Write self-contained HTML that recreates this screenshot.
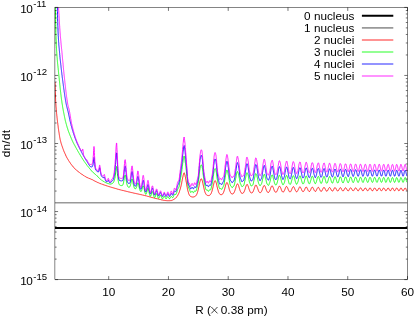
<!DOCTYPE html>
<html><head><meta charset="utf-8"><title>dn/dt</title>
<style>
html,body{margin:0;padding:0;background:#fff;}
svg{display:block;will-change:transform;}
text{font-family:"Liberation Sans",sans-serif;font-size:11.75px;fill:#000;}
text.s{font-size:9.6px;}
</style></head><body>
<svg width="415" height="317" viewBox="0 0 415 317">
<rect width="415" height="317" fill="#fff"/>
<defs><clipPath id="cp"><rect x="54.9" y="7.4" width="352.6" height="272.2"/></clipPath></defs>
<g clip-path="url(#cp)">
<line x1="54.9" x2="407.5" y1="228.0" y2="228.0" stroke="#000" stroke-width="1.9"/>
<line x1="54.9" x2="407.5" y1="202.8" y2="202.8" stroke="#999" stroke-width="1.6"/>
<polyline points="55.0,82.0 55.0,83.5 55.1,85.0 55.1,86.4 55.2,87.8 55.2,89.1 55.2,90.4 55.3,91.7 55.3,92.8 55.4,93.9 55.4,95.0 55.4,96.0 55.5,96.9 55.5,97.8 55.6,98.7 55.6,99.6 55.6,100.4 55.7,101.2 55.7,101.9 55.8,102.7 55.8,103.4 55.8,104.0 55.9,104.7 55.9,105.3 56.0,105.8 56.0,106.4 56.0,106.9 56.1,107.4 56.1,107.9 56.2,108.4 56.2,108.9 56.2,109.3 56.3,109.7 56.3,110.2 56.4,110.6 56.4,111.1 56.4,111.5 56.5,111.9 56.5,112.3 56.6,112.7 56.6,113.2 56.6,113.6 56.7,114.0 56.7,114.4 56.8,114.8 56.8,115.2 56.8,115.6 56.9,116.0 56.9,116.3 57.0,116.7 57.0,117.1 57.0,117.5 57.1,117.8 57.1,118.2 57.2,118.6 57.2,118.9 57.2,119.3 57.3,119.7 57.3,120.0 57.4,120.4 57.4,120.7 57.4,121.0 57.5,121.4 57.5,121.7 57.6,122.0 57.6,122.4 57.6,122.7 57.7,123.0 57.7,123.3 57.8,123.6 57.8,123.9 57.8,124.3 57.9,124.6 57.9,124.9 58.0,125.2 58.0,125.5 58.0,125.8 58.1,126.1 58.1,126.4 58.2,126.7 58.2,127.0 58.2,127.3 58.3,127.6 58.3,127.9 58.4,128.2 58.4,128.5 58.4,128.8 58.5,129.0 58.5,129.3 58.6,129.6 58.6,129.9 58.6,130.2 58.7,130.5 58.7,130.8 58.8,131.0 58.8,131.3 58.8,131.6 58.9,131.9 58.9,132.1 59.0,132.4 59.0,132.7 59.0,132.9 59.1,133.2 59.1,133.4 59.2,133.7 59.2,134.0 59.2,134.2 59.3,134.5 59.3,134.7 59.3,135.0 59.4,135.2 59.4,135.5 59.5,135.7 59.5,135.9 59.5,136.2 59.6,136.4 59.6,136.6 59.7,136.8 59.7,137.1 59.7,137.3 59.8,137.5 59.8,137.7 59.9,137.9 59.9,138.1 59.9,138.3 60.0,138.5 60.0,138.7 60.1,138.9 60.1,139.1 60.1,139.3 60.2,139.5 60.2,139.7 60.3,139.9 60.3,140.0 60.3,140.2 60.4,140.4 60.4,140.5 60.5,140.7 60.5,140.9 60.5,141.0 60.6,141.2 60.6,141.3 60.7,141.5 60.7,141.7 60.7,141.8 60.8,142.0 60.8,142.1 60.9,142.3 60.9,142.4 60.9,142.5 61.0,142.7 61.0,142.8 61.1,143.0 61.1,143.1 61.1,143.2 61.2,143.4 61.2,143.5 61.3,143.6 61.3,143.8 61.3,143.9 61.4,144.0 61.4,144.1 61.5,144.3 61.5,144.4 61.5,144.5 61.6,144.6 61.6,144.8 61.7,144.9 61.7,145.0 61.7,145.1 61.8,145.2 61.8,145.4 61.9,145.5 61.9,145.6 61.9,145.7 62.0,145.8 62.0,145.9 62.1,146.1 62.1,146.2 62.1,146.3 62.2,146.4 62.2,146.5 62.3,146.6 62.3,146.8 62.3,146.9 62.4,147.0 62.4,147.1 62.5,147.2 62.5,147.3 62.5,147.4 62.6,147.5 62.6,147.7 62.7,147.8 62.7,147.9 62.7,148.0 62.8,148.1 62.8,148.2 62.9,148.3 62.9,148.4 62.9,148.6 63.0,148.7 63.0,148.8 63.1,148.9 63.1,149.0 63.1,149.1 63.2,149.2 63.2,149.3 63.3,149.4 63.3,149.5 63.3,149.6 63.4,149.7 63.4,149.8 63.5,150.0 63.5,150.1 63.5,150.2 63.6,150.3 63.6,150.4 63.7,150.5 63.7,150.6 63.7,150.7 63.8,150.8 63.8,150.9 63.9,151.0 63.9,151.1 63.9,151.2 64.0,151.3 64.0,151.4 64.1,151.5 64.1,151.6 64.1,151.7 64.2,151.8 64.2,151.9 64.3,152.0 64.3,152.0 64.3,152.1 64.4,152.2 64.4,152.3 64.5,152.4 64.5,152.5 64.5,152.6 64.6,152.7 64.6,152.8 64.7,152.9 64.7,153.0 64.7,153.1 64.8,153.2 64.8,153.3 64.9,153.4 64.9,153.4 64.9,153.5 65.0,153.6 65.0,153.7 65.1,153.8 65.1,153.9 65.1,154.0 65.2,154.1 65.2,154.2 65.3,154.2 65.3,154.3 65.3,154.4 65.4,154.5 65.4,154.6 65.5,154.7 65.5,154.8 65.5,154.9 65.6,154.9 65.6,155.0 65.7,155.1 65.7,155.2 65.7,155.3 65.8,155.4 65.8,155.5 65.9,155.5 65.9,155.6 65.9,155.7 66.0,155.8 66.0,155.9 66.1,156.0 66.1,156.0 66.1,156.1 66.2,156.2 66.2,156.3 66.3,156.4 66.3,156.4 66.3,156.5 66.4,156.6 66.4,156.7 66.5,156.8 66.5,156.8 66.5,156.9 66.6,157.0 66.6,157.1 66.7,157.2 66.7,157.2 66.7,157.3 66.8,157.4 66.8,157.5 66.9,157.5 66.9,157.6 66.9,157.7 67.1,157.9 67.2,158.2 67.3,158.4 67.5,158.6 67.6,158.9 67.7,159.1 67.8,159.3 68.0,159.5 68.1,159.8 68.2,160.0 68.4,160.2 68.5,160.4 68.6,160.6 68.8,160.8 68.9,161.0 69.0,161.2 69.2,161.4 69.3,161.6 69.4,161.8 69.5,162.0 69.7,162.2 69.8,162.4 69.9,162.6 70.1,162.8 70.2,163.0 70.3,163.2 70.5,163.3 70.6,163.5 70.7,163.7 70.9,163.9 71.0,164.1 71.1,164.2 71.2,164.4 71.4,164.6 71.5,164.7 71.6,164.9 71.8,165.1 71.9,165.3 72.0,165.4 72.2,165.6 72.3,165.7 72.4,165.9 72.6,166.1 72.7,166.2 72.8,166.4 73.0,166.5 73.1,166.7 73.2,166.9 73.3,167.0 73.5,167.2 73.6,167.3 73.7,167.5 73.9,167.6 74.0,167.8 74.1,167.9 74.3,168.0 74.4,168.2 74.5,168.3 74.7,168.5 74.8,168.6 74.9,168.7 75.0,168.8 75.2,169.0 75.3,169.1 75.4,169.2 75.6,169.4 75.7,169.5 75.8,169.6 76.0,169.7 76.1,169.8 76.2,169.9 76.4,170.1 76.5,170.2 76.6,170.3 76.7,170.4 76.9,170.5 77.0,170.6 77.1,170.7 77.3,170.8 77.4,171.0 77.5,171.1 77.7,171.2 77.8,171.3 77.9,171.4 78.1,171.5 78.2,171.6 78.3,171.7 78.4,171.8 78.6,171.9 78.7,172.0 78.8,172.1 79.0,172.2 79.1,172.3 79.2,172.4 79.4,172.5 79.5,172.6 79.6,172.7 79.8,172.8 79.9,172.9 80.0,173.0 80.1,173.1 80.3,173.2 80.4,173.3 80.5,173.3 80.7,173.4 80.8,173.5 80.9,173.6 81.1,173.7 81.2,173.8 81.3,173.9 81.5,174.0 81.6,174.1 81.7,174.2 81.8,174.3 82.0,174.4 82.1,174.5 82.2,174.6 82.4,174.7 82.5,174.7 82.6,174.8 82.8,174.9 82.9,175.0 83.0,175.1 83.2,175.2 83.3,175.3 83.4,175.4 83.5,175.5 83.7,175.5 83.8,175.6 83.9,175.7 84.1,175.8 84.2,175.9 84.3,176.0 84.5,176.0 84.6,176.1 84.7,176.2 84.9,176.3 85.0,176.4 85.1,176.4 85.3,176.5 85.4,176.6 85.5,176.7 85.6,176.7 85.8,176.8 85.9,176.9 86.0,177.0 86.2,177.0 86.3,177.1 86.4,177.2 86.6,177.2 86.7,177.3 86.8,177.4 87.0,177.4 87.1,177.5 87.2,177.5 87.3,177.6 87.5,177.7 87.6,177.7 87.7,177.8 87.9,177.8 88.0,177.9 88.1,178.0 88.3,178.0 88.4,178.1 88.5,178.1 88.7,178.2 88.8,178.2 88.9,178.3 89.0,178.3 89.2,178.4 89.3,178.4 89.4,178.5 89.6,178.5 89.7,178.6 89.8,178.6 90.0,178.7 90.1,178.8 90.2,178.8 90.4,178.9 90.5,178.9 90.6,179.0 90.7,179.0 90.9,179.1 91.0,179.1 91.1,179.2 91.3,179.2 91.4,179.3 91.5,179.4 91.7,179.4 91.8,179.5 91.9,179.6 92.1,179.6 92.2,179.7 92.3,179.7 92.4,179.8 92.6,179.9 92.7,179.9 92.8,180.0 93.0,180.1 93.1,180.1 93.2,180.2 93.4,180.3 93.5,180.4 93.6,180.4 93.8,180.5 93.9,180.6 94.0,180.6 94.1,180.7 94.3,180.8 94.4,180.8 94.5,180.9 94.7,181.0 94.8,181.1 94.9,181.1 95.1,181.2 95.2,181.3 95.3,181.3 95.5,181.4 95.6,181.5 95.7,181.5 95.8,181.6 96.0,181.7 96.1,181.7 96.2,181.8 96.4,181.9 96.5,181.9 96.6,182.0 96.8,182.1 96.9,182.1 97.0,182.2 97.2,182.3 97.3,182.3 97.4,182.4 97.5,182.4 97.7,182.5 97.8,182.6 97.9,182.6 98.1,182.7 98.2,182.7 98.3,182.8 98.5,182.8 98.6,182.9 98.7,182.9 98.9,183.0 99.0,183.1 99.1,183.1 99.3,183.2 99.4,183.2 99.5,183.3 99.6,183.3 99.8,183.4 99.9,183.4 100.0,183.5 100.2,183.5 100.3,183.6 100.4,183.6 100.6,183.7 100.7,183.7 100.8,183.8 101.0,183.8 101.1,183.9 101.2,183.9 101.3,184.0 101.5,184.0 101.6,184.1 101.7,184.1 101.9,184.2 102.0,184.2 102.1,184.2 102.3,184.3 102.4,184.3 102.5,184.4 102.7,184.4 102.8,184.5 102.9,184.5 103.0,184.6 103.2,184.6 103.3,184.7 103.4,184.7 103.6,184.8 103.7,184.8 103.8,184.8 104.0,184.9 104.1,184.9 104.2,185.0 104.4,185.0 104.5,185.1 104.6,185.1 104.7,185.2 104.9,185.2 105.0,185.2 105.1,185.3 105.3,185.3 105.4,185.4 105.5,185.4 105.7,185.5 105.8,185.5 105.9,185.5 106.1,185.6 106.2,185.6 106.3,185.7 106.4,185.7 106.6,185.8 106.7,185.8 106.8,185.8 107.0,185.9 107.1,185.9 107.2,186.0 107.4,186.0 107.5,186.1 107.6,186.1 107.8,186.1 107.9,186.2 108.0,186.2 108.1,186.3 108.3,186.3 108.4,186.4 108.5,186.4 108.7,186.4 108.8,186.5 108.9,186.5 109.1,186.6 109.2,186.6 109.3,186.7 109.5,186.7 109.6,186.7 109.7,186.8 109.8,186.8 110.0,186.9 110.1,186.9 110.2,186.9 110.4,187.0 110.5,187.0 110.6,187.1 110.8,187.1 110.9,187.1 111.0,187.2 111.2,187.2 111.3,187.3 111.4,187.3 111.5,187.3 111.7,187.4 111.8,187.4 111.9,187.5 112.1,187.5 112.2,187.5 112.3,187.6 112.5,187.6 112.6,187.7 112.7,187.7 112.9,187.7 113.0,187.8 113.1,187.8 113.3,187.9 113.4,187.9 113.5,187.9 113.6,188.0 113.8,188.0 113.9,188.0 114.0,188.1 114.2,188.1 114.3,188.2 114.4,188.2 114.6,188.2 114.7,188.3 114.8,188.3 115.0,188.4 115.1,188.4 115.2,188.4 115.3,188.5 115.5,188.5 115.6,188.5 115.7,188.6 115.9,188.6 116.0,188.7 116.1,188.7 116.3,188.7 116.4,188.8 116.5,188.8 116.7,188.8 116.8,188.9 116.9,188.9 117.0,188.9 117.2,189.0 117.3,189.0 117.4,189.1 117.6,189.1 117.7,189.1 117.8,189.2 118.0,189.2 118.1,189.2 118.2,189.3 118.4,189.3 118.5,189.3 118.6,189.4 118.7,189.4 118.9,189.4 119.0,189.5 119.1,189.5 119.3,189.6 119.4,189.6 119.5,189.6 119.7,189.7 119.8,189.7 119.9,189.7 120.1,189.8 120.2,189.8 120.3,189.8 120.4,189.9 120.6,189.9 120.7,189.9 120.8,190.0 121.0,190.0 121.1,190.0 121.2,190.1 121.4,190.1 121.5,190.1 121.6,190.2 121.8,190.2 121.9,190.2 122.0,190.3 122.1,190.3 122.3,190.3 122.4,190.4 122.5,190.4 122.7,190.4 122.8,190.5 122.9,190.5 123.1,190.5 123.2,190.6 123.3,190.6 123.5,190.6 123.6,190.7 123.7,190.7 123.8,190.7 124.0,190.8 124.1,190.8 124.2,190.8 124.4,190.9 124.5,190.9 124.6,190.9 124.8,190.9 124.9,191.0 125.0,191.0 125.2,191.0 125.3,191.1 125.4,191.1 125.5,191.1 125.7,191.2 125.8,191.2 125.9,191.2 126.1,191.3 126.2,191.3 126.3,191.3 126.5,191.4 126.6,191.4 126.7,191.4 126.9,191.5 127.0,191.5 127.1,191.5 127.3,191.5 127.4,191.6 127.5,191.6 127.6,191.6 127.8,191.7 127.9,191.7 128.0,191.7 128.2,191.8 128.3,191.8 128.4,191.8 128.6,191.9 128.7,191.9 128.8,191.9 129.0,192.0 129.1,192.0 129.2,192.0 129.3,192.0 129.5,192.1 129.6,192.1 129.7,192.1 129.9,192.2 130.0,192.2 130.1,192.2 130.3,192.3 130.4,192.3 130.5,192.3 130.7,192.4 130.8,192.4 130.9,192.4 131.0,192.4 131.2,192.5 131.3,192.5 131.4,192.5 131.6,192.6 131.7,192.6 131.8,192.6 132.0,192.7 132.1,192.7 132.2,192.7 132.4,192.7 132.5,192.8 132.6,192.8 132.7,192.8 132.9,192.9 133.0,192.9 133.1,192.9 133.3,193.0 133.4,193.0 133.5,193.0 133.7,193.0 133.8,193.1 133.9,193.1 134.1,193.1 134.2,193.2 134.3,193.2 134.4,193.2 134.6,193.2 134.7,193.3 134.8,193.3 135.0,193.3 135.1,193.4 135.2,193.4 135.4,193.4 135.5,193.4 135.6,193.5 135.8,193.5 135.9,193.5 136.0,193.6 136.1,193.6 136.3,193.6 136.4,193.6 136.5,193.7 136.7,193.7 136.8,193.7 136.9,193.8 137.1,193.8 137.2,193.8 137.3,193.8 137.5,193.9 137.6,193.9 137.7,193.9 137.8,194.0 138.0,194.0 138.1,194.0 138.2,194.0 138.4,194.1 138.5,194.1 138.6,194.1 138.8,194.2 138.9,194.2 139.0,194.2 139.2,194.3 139.3,194.3 139.4,194.3 139.6,194.3 139.7,194.4 139.8,194.4 139.9,194.4 140.1,194.5 140.2,194.5 140.3,194.5 140.5,194.5 140.6,194.6 140.7,194.6 140.9,194.6 141.0,194.7 141.1,194.7 141.3,194.7 141.4,194.8 141.5,194.8 141.6,194.8 141.8,194.8 141.9,194.9 142.0,194.9 142.2,194.9 142.3,195.0 142.4,195.0 142.6,195.0 142.7,195.1 142.8,195.1 143.0,195.1 143.1,195.1 143.2,195.2 143.3,195.2 143.5,195.2 143.6,195.3 143.7,195.3 143.9,195.3 144.0,195.4 144.1,195.4 144.3,195.4 144.4,195.5 144.5,195.5 144.7,195.5 144.8,195.5 144.9,195.6 145.0,195.6 145.2,195.6 145.3,195.7 145.4,195.7 145.6,195.7 145.7,195.8 145.8,195.8 146.0,195.8 146.1,195.9 146.2,195.9 146.4,195.9 146.5,196.0 146.6,196.0 146.7,196.0 146.9,196.1 147.0,196.1 147.1,196.2 147.3,196.2 147.4,196.2 147.5,196.3 147.7,196.3 147.8,196.3 147.9,196.4 148.1,196.4 148.2,196.4 148.3,196.5 148.4,196.5 148.6,196.5 148.7,196.6 148.8,196.6 149.0,196.7 149.1,196.7 149.2,196.7 149.4,196.8 149.5,196.8 149.6,196.8 149.8,196.9 149.9,196.9 150.0,196.9 150.1,197.0 150.3,197.0 150.4,197.1 150.5,197.1 150.7,197.1 150.8,197.2 150.9,197.2 151.1,197.2 151.2,197.3 151.3,197.3 151.5,197.4 151.6,197.4 151.7,197.4 151.8,197.5 152.0,197.5 152.1,197.5 152.2,197.6 152.4,197.6 152.5,197.6 152.6,197.7 152.8,197.7 152.9,197.7 153.0,197.8 153.2,197.8 153.3,197.8 153.4,197.9 153.6,197.9 153.7,198.0 153.8,198.0 153.9,198.0 154.1,198.1 154.2,198.1 154.3,198.1 154.5,198.1 154.6,198.2 154.7,198.2 154.9,198.2 155.0,198.3 155.1,198.3 155.3,198.3 155.4,198.4 155.5,198.4 155.6,198.4 155.8,198.5 155.9,198.5 156.0,198.5 156.2,198.5 156.3,198.6 156.4,198.6 156.6,198.6 156.7,198.7 156.8,198.7 157.0,198.7 157.1,198.8 157.2,198.8 157.3,198.8 157.5,198.8 157.6,198.9 157.7,198.9 157.9,198.9 158.0,199.0 158.1,199.0 158.3,199.0 158.4,199.1 158.5,199.1 158.7,199.1 158.8,199.2 158.9,199.2 159.0,199.2 159.2,199.3 159.3,199.3 159.4,199.3 159.6,199.3 159.7,199.4 159.8,199.4 160.0,199.4 160.1,199.5 160.2,199.5 160.4,199.5 160.5,199.6 160.6,199.6 160.7,199.6 160.9,199.7 161.0,199.7 161.1,199.7 161.3,199.8 161.4,199.8 161.5,199.8 161.7,199.9 161.8,199.9 161.9,199.9 162.1,199.9 162.2,200.0 162.3,200.0 162.4,200.0 162.6,200.1 162.7,200.1 162.8,200.1 163.0,200.1 163.1,200.2 163.2,200.2 163.4,200.2 163.5,200.2 163.6,200.3 163.8,200.3 163.9,200.3 164.0,200.3 164.1,200.4 164.3,200.4 164.4,200.4 164.5,200.4 164.7,200.4 164.8,200.5 164.9,200.5 165.1,200.5 165.2,200.5 165.3,200.5 165.5,200.5 165.6,200.6 165.7,200.6 165.8,200.6 166.0,200.6 166.1,200.6 166.2,200.6 166.4,200.6 166.5,200.6 166.6,200.7 166.8,200.7 166.9,200.7 167.0,200.7 167.2,200.7 167.3,200.7 167.4,200.7 167.6,200.7 167.7,200.7 167.8,200.7 167.9,200.7 168.1,200.7 168.2,200.7 168.3,200.7 168.5,200.7 168.6,200.7 168.7,200.7 168.9,200.7 169.0,200.7 169.1,200.7 169.3,200.7 169.4,200.7 169.5,200.7 169.6,200.7 169.8,200.7 169.9,200.7 170.0,200.7 170.2,200.7 170.3,200.6 170.4,200.6 170.6,200.6 170.7,200.6 170.8,200.6 171.0,200.6 171.1,200.6 171.2,200.6 171.3,200.5 171.5,200.5 171.6,200.5 171.7,200.4 171.9,200.4 172.0,200.3 172.1,200.3 172.3,200.2 172.4,200.1 172.5,200.1 172.7,200.0 172.8,200.0 172.9,199.9 173.0,199.8 173.2,199.8 173.3,199.7 173.4,199.6 173.6,199.6 173.7,199.5 173.8,199.4 174.0,199.3 174.1,199.3 174.2,199.2 174.4,199.1 174.5,199.0 174.6,198.9 174.7,198.8 174.9,198.7 175.0,198.6 175.1,198.5 175.3,198.4 175.4,198.3 175.5,198.2 175.7,198.0 175.8,197.9 175.9,197.8 176.1,197.7 176.2,197.5 176.3,197.4 176.4,197.2 176.6,197.1 176.7,196.9 176.8,196.7 177.0,196.6 177.1,196.4 177.2,196.2 177.4,196.0 177.5,195.8 177.6,195.6 177.8,195.3 177.9,195.1 178.0,194.9 178.1,194.6 178.3,194.3 178.4,194.1 178.5,193.8 178.7,193.5 178.8,193.2 178.9,192.9 179.1,192.6 179.2,192.2 179.3,191.9 179.5,191.5 179.6,191.1 179.7,190.7 179.8,190.3 180.0,189.9 180.1,189.4 180.2,189.0 180.4,188.5 180.5,188.0 180.6,187.5 180.8,187.0 180.9,186.5 181.0,185.9 181.2,185.3 181.3,184.7 181.4,184.1 181.6,183.5 181.7,182.8 181.8,182.2 181.9,181.5 182.1,180.8 182.2,180.2 182.3,179.5 182.5,178.8 182.6,178.1 182.7,177.5 182.9,176.8 183.0,176.2 183.1,175.6 183.3,175.1 183.4,174.6 183.5,174.1 183.6,173.7 183.8,173.4 183.9,173.1 184.0,172.9 184.2,172.8 184.3,173.3 184.4,173.5 184.6,173.9 184.7,174.2 184.8,174.7 185.0,175.2 185.1,175.7 185.2,176.3 185.3,176.9 185.5,177.5 185.6,178.2 185.7,178.9 185.9,179.7 186.0,180.4 186.1,181.2 186.3,182.0 186.4,182.7 186.5,183.5 186.7,184.3 186.8,185.0 186.9,185.8 187.0,186.5 187.2,187.2 187.3,187.9 187.4,188.6 187.6,189.2 187.7,189.9 187.8,190.4 188.0,191.0 188.1,191.5 188.2,192.0 188.4,192.4 188.5,192.9 188.6,193.3 188.7,193.6 188.9,194.0 189.0,194.3 189.1,194.6 189.3,194.8 189.4,195.1 189.5,195.3 189.7,195.5 189.8,195.7 189.9,195.8 190.1,196.0 190.2,196.1 190.3,196.2 190.4,196.3 190.6,196.4 190.7,196.5 190.8,196.6 191.0,196.7 191.1,196.7 191.2,196.8 191.4,196.8 191.5,196.9 191.6,196.9 191.8,196.9 191.9,196.9 192.0,197.0 192.1,197.0 192.3,197.0 192.4,197.0 192.5,197.0 192.7,197.0 192.8,197.0 192.9,197.0 193.1,197.0 193.2,197.0 193.3,197.0 193.5,196.9 193.6,196.9 193.7,196.9 193.9,196.9 194.0,196.8 194.1,196.8 194.2,196.8 194.4,196.7 194.5,196.7 194.6,196.6 194.8,196.5 194.9,196.5 195.0,196.4 195.2,196.3 195.3,196.2 195.4,196.1 195.6,196.0 195.7,195.9 195.8,195.7 195.9,195.6 196.1,195.4 196.2,195.3 196.3,195.1 196.5,194.8 196.6,194.6 196.7,194.4 196.9,194.1 197.0,193.8 197.1,193.5 197.3,193.1 197.4,192.7 197.5,192.3 197.6,191.9 197.8,191.4 197.9,191.0 198.0,190.4 198.2,189.9 198.3,189.3 198.4,188.8 198.6,188.2 198.7,187.5 198.8,186.9 199.0,186.3 199.1,185.6 199.2,185.0 199.3,184.3 199.5,183.7 199.6,183.1 199.7,182.5 199.9,182.0 200.0,181.4 200.1,180.9 200.3,180.5 200.4,180.1 200.5,179.7 200.7,179.4 200.8,179.2 200.9,179.0 201.0,178.9 201.2,178.8 201.3,178.8 201.4,178.9 201.6,179.0 201.7,179.2 201.8,179.5 202.0,179.8 202.1,180.1 202.2,180.5 202.4,181.0 202.5,181.5 202.6,182.0 202.7,182.6 202.9,183.2 203.0,183.8 203.1,184.4 203.3,185.0 203.4,185.7 203.5,186.3 203.7,186.9 203.8,187.5 203.9,188.1 204.1,188.7 204.2,189.2 204.3,189.8 204.4,190.3 204.6,190.8 204.7,191.2 204.8,191.6 205.0,192.0 205.1,192.4 205.2,192.7 205.4,193.0 205.5,193.3 205.6,193.6 205.8,193.8 205.9,194.1 206.0,194.2 206.1,194.4 206.3,194.6 206.4,194.7 206.5,194.9 206.7,195.0 206.8,195.1 206.9,195.2 207.1,195.3 207.2,195.3 207.3,195.4 207.5,195.4 207.6,195.5 207.7,195.5 207.9,195.5 208.0,195.6 208.1,195.6 208.2,195.6 208.4,195.6 208.5,195.6 208.6,195.6 208.8,195.6 208.9,195.5 209.0,195.5 209.2,195.5 209.3,195.4 209.4,195.3 209.6,195.3 209.7,195.2 209.8,195.1 209.9,195.0 210.1,194.9 210.2,194.8 210.3,194.6 210.5,194.5 210.6,194.3 210.7,194.1 210.9,193.9 211.0,193.7 211.1,193.4 211.3,193.2 211.4,192.9 211.5,192.5 211.6,192.2 211.8,191.8 211.9,191.4 212.0,191.0 212.2,190.5 212.3,190.0 212.4,189.5 212.6,189.0 212.7,188.4 212.8,187.9 213.0,187.3 213.1,186.7 213.2,186.1 213.3,185.5 213.5,184.9 213.6,184.4 213.7,183.8 213.9,183.3 214.0,182.8 214.1,182.4 214.3,182.0 214.4,181.6 214.5,181.3 214.7,181.1 214.8,180.9 214.9,180.8 215.0,180.7 215.2,180.7 215.3,180.8 215.4,180.9 215.6,181.1 215.7,181.4 215.8,181.7 216.0,182.1 216.1,182.5 216.2,182.9 216.4,183.4 216.5,184.0 216.6,184.5 216.7,185.1 216.9,185.6 217.0,186.2 217.1,186.8 217.3,187.3 217.4,187.9 217.5,188.4 217.7,189.0 217.8,189.5 217.9,190.0 218.1,190.4 218.2,190.8 218.3,191.3 218.4,191.6 218.6,192.0 218.7,192.3 218.8,192.6 219.0,192.9 219.1,193.1 219.2,193.3 219.4,193.5 219.5,193.7 219.6,193.9 219.8,194.0 219.9,194.2 220.0,194.3 220.1,194.4 220.3,194.4 220.4,194.5 220.5,194.6 220.7,194.6 220.8,194.7 220.9,194.7 221.1,194.7 221.2,194.7 221.3,194.7 221.5,194.7 221.6,194.6 221.7,194.6 221.9,194.5 222.0,194.5 222.1,194.4 222.2,194.3 222.4,194.2 222.5,194.1 222.6,193.9 222.8,193.8 222.9,193.6 223.0,193.4 223.2,193.2 223.3,192.9 223.4,192.7 223.6,192.4 223.7,192.1 223.8,191.8 223.9,191.4 224.1,191.0 224.2,190.6 224.3,190.2 224.5,189.7 224.6,189.2 224.7,188.8 224.9,188.2 225.0,187.7 225.1,187.2 225.3,186.7 225.4,186.2 225.5,185.7 225.6,185.2 225.8,184.8 225.9,184.3 226.0,183.9 226.2,183.6 226.3,183.3 226.4,183.0 226.6,182.8 226.7,182.7 226.8,182.6 227.0,182.6 227.1,182.6 227.2,182.7 227.3,182.9 227.5,183.1 227.6,183.4 227.7,183.7 227.9,184.1 228.0,184.5 228.1,184.9 228.3,185.3 228.4,185.8 228.5,186.3 228.7,186.8 228.8,187.3 228.9,187.8 229.0,188.3 229.2,188.8 229.3,189.3 229.4,189.7 229.6,190.1 229.7,190.6 229.8,190.9 230.0,191.3 230.1,191.6 230.2,191.9 230.4,192.2 230.5,192.5 230.6,192.7 230.7,192.9 230.9,193.1 231.0,193.3 231.1,193.4 231.3,193.5 231.4,193.7 231.5,193.8 231.7,193.8 231.8,193.9 231.9,193.9 232.1,194.0 232.2,194.0 232.3,194.0 232.4,194.0 232.6,194.0 232.7,193.9 232.8,193.9 233.0,193.8 233.1,193.7 233.2,193.6 233.4,193.5 233.5,193.4 233.6,193.2 233.8,193.1 233.9,192.9 234.0,192.7 234.1,192.4 234.3,192.2 234.4,191.9 234.5,191.6 234.7,191.2 234.8,190.9 234.9,190.5 235.1,190.1 235.2,189.7 235.3,189.3 235.5,188.8 235.6,188.4 235.7,187.9 235.9,187.5 236.0,187.0 236.1,186.6 236.2,186.1 236.4,185.7 236.5,185.4 236.6,185.0 236.8,184.7 236.9,184.4 237.0,184.2 237.2,184.1 237.3,184.0 237.4,183.9 237.6,183.9 237.7,184.0 237.8,184.1 237.9,184.3 238.1,184.5 238.2,184.7 238.3,185.0 238.5,185.4 238.6,185.8 238.7,186.2 238.9,186.6 239.0,187.0 239.1,187.5 239.3,187.9 239.4,188.4 239.5,188.8 239.6,189.2 239.8,189.6 239.9,190.0 240.0,190.4 240.2,190.8 240.3,191.1 240.4,191.4 240.6,191.7 240.7,192.0 240.8,192.2 241.0,192.4 241.1,192.6 241.2,192.8 241.3,192.9 241.5,193.0 241.6,193.2 241.7,193.2 241.9,193.3 242.0,193.4 242.1,193.4 242.3,193.4 242.4,193.4 242.5,193.4 242.7,193.4 242.8,193.3 242.9,193.3 243.0,193.2 243.2,193.1 243.3,193.0 243.4,192.8 243.6,192.6 243.7,192.5 243.8,192.2 244.0,192.0 244.1,191.8 244.2,191.5 244.4,191.2 244.5,190.8 244.6,190.5 244.7,190.1 244.9,189.7 245.0,189.3 245.1,188.9 245.3,188.5 245.4,188.1 245.5,187.6 245.7,187.2 245.8,186.8 245.9,186.4 246.1,186.0 246.2,185.7 246.3,185.4 246.4,185.1 246.6,184.9 246.7,184.7 246.8,184.6 247.0,184.5 247.1,184.5 247.2,184.6 247.4,184.6 247.5,184.8 247.6,185.0 247.8,185.2 247.9,185.5 248.0,185.8 248.2,186.2 248.3,186.6 248.4,187.0 248.5,187.4 248.7,187.8 248.8,188.2 248.9,188.6 249.1,189.0 249.2,189.4 249.3,189.8 249.5,190.2 249.6,190.5 249.7,190.9 249.9,191.2 250.0,191.4 250.1,191.7 250.2,191.9 250.4,192.1 250.5,192.3 250.6,192.5 250.8,192.6 250.9,192.7 251.0,192.8 251.2,192.9 251.3,193.0 251.4,193.0 251.6,193.0 251.7,193.0 251.8,193.0 251.9,192.9 252.1,192.9 252.2,192.8 252.3,192.7 252.5,192.5 252.6,192.4 252.7,192.2 252.9,192.0 253.0,191.8 253.1,191.5 253.3,191.2 253.4,190.9 253.5,190.6 253.6,190.3 253.8,189.9 253.9,189.5 254.0,189.1 254.2,188.7 254.3,188.3 254.4,187.9 254.6,187.5 254.7,187.1 254.8,186.8 255.0,186.4 255.1,186.1 255.2,185.8 255.3,185.5 255.5,185.3 255.6,185.2 255.7,185.1 255.9,185.0 256.0,185.0 256.1,185.1 256.3,185.2 256.4,185.3 256.5,185.5 256.7,185.8 256.8,186.1 256.9,186.4 257.0,186.7 257.2,187.1 257.3,187.5 257.4,187.9 257.6,188.3 257.7,188.6 257.8,189.0 258.0,189.4 258.1,189.8 258.2,190.1 258.4,190.5 258.5,190.8 258.6,191.1 258.7,191.4 258.9,191.6 259.0,191.8 259.1,192.0 259.3,192.2 259.4,192.3 259.5,192.5 259.7,192.6 259.8,192.6 259.9,192.7 260.1,192.7 260.2,192.7 260.3,192.7 260.4,192.6 260.6,192.6 260.7,192.5 260.8,192.4 261.0,192.2 261.1,192.1 261.2,191.9 261.4,191.7 261.5,191.4 261.6,191.2 261.8,190.9 261.9,190.6 262.0,190.3 262.2,189.9 262.3,189.6 262.4,189.2 262.5,188.8 262.7,188.4 262.8,188.0 262.9,187.7 263.1,187.3 263.2,187.0 263.3,186.6 263.5,186.4 263.6,186.1 263.7,185.9 263.9,185.7 264.0,185.6 264.1,185.5 264.2,185.5 264.4,185.5 264.5,185.6 264.6,185.7 264.8,185.9 264.9,186.1 265.0,186.4 265.2,186.7 265.3,187.0 265.4,187.3 265.6,187.7 265.7,188.1 265.8,188.5 265.9,188.8 266.1,189.2 266.2,189.6 266.3,189.9 266.5,190.3 266.6,190.6 266.7,190.9 266.9,191.1 267.0,191.4 267.1,191.6 267.3,191.8 267.4,192.0 267.5,192.1 267.6,192.3 267.8,192.3 267.9,192.4 268.0,192.5 268.2,192.5 268.3,192.5 268.4,192.4 268.6,192.4 268.7,192.3 268.8,192.2 269.0,192.0 269.1,191.9 269.2,191.7 269.3,191.5 269.5,191.2 269.6,191.0 269.7,190.7 269.9,190.4 270.0,190.1 270.1,189.7 270.3,189.4 270.4,189.0 270.5,188.6 270.7,188.3 270.8,187.9 270.9,187.6 271.0,187.2 271.2,186.9 271.3,186.7 271.4,186.4 271.6,186.2 271.7,186.1 271.8,185.9 272.0,185.9 272.1,185.9 272.2,185.9 272.4,186.0 272.5,186.1 272.6,186.3 272.7,186.5 272.9,186.8 273.0,187.1 273.1,187.4 273.3,187.7 273.4,188.1 273.5,188.4 273.7,188.8 273.8,189.2 273.9,189.5 274.1,189.9 274.2,190.2 274.3,190.5 274.4,190.8 274.6,191.1 274.7,191.3 274.8,191.5 275.0,191.7 275.1,191.9 275.2,192.0 275.4,192.1 275.5,192.2 275.6,192.2 275.8,192.3 275.9,192.3 276.0,192.2 276.2,192.2 276.3,192.1 276.4,192.0 276.5,191.8 276.7,191.7 276.8,191.5 276.9,191.3 277.1,191.0 277.2,190.8 277.3,190.5 277.5,190.2 277.6,189.8 277.7,189.5 277.9,189.1 278.0,188.8 278.1,188.4 278.2,188.1 278.4,187.8 278.5,187.5 278.6,187.2 278.8,186.9 278.9,186.7 279.0,186.5 279.2,186.3 279.3,186.3 279.4,186.2 279.6,186.2 279.7,186.3 279.8,186.3 279.9,186.5 280.1,186.7 280.2,186.9 280.3,187.2 280.5,187.4 280.6,187.8 280.7,188.1 280.9,188.4 281.0,188.8 281.1,189.1 281.3,189.5 281.4,189.8 281.5,190.1 281.6,190.4 281.8,190.7 281.9,191.0 282.0,191.2 282.2,191.4 282.3,191.6 282.4,191.7 282.6,191.9 282.7,192.0 282.8,192.0 283.0,192.1 283.1,192.1 283.2,192.1 283.3,192.0 283.5,192.0 283.6,191.8 283.7,191.7 283.9,191.5 284.0,191.4 284.1,191.1 284.3,190.9 284.4,190.6 284.5,190.3 284.7,190.0 284.8,189.7 284.9,189.4 285.0,189.1 285.2,188.7 285.3,188.4 285.4,188.1 285.6,187.7 285.7,187.5 285.8,187.2 286.0,187.0 286.1,186.8 286.2,186.6 286.4,186.5 286.5,186.5 286.6,186.5 286.7,186.5 286.9,186.6 287.0,186.7 287.1,186.9 287.3,187.1 287.4,187.4 287.5,187.6 287.7,187.9 287.8,188.2 287.9,188.6 288.1,188.9 288.2,189.2 288.3,189.6 288.4,189.9 288.6,190.2 288.7,190.5 288.8,190.7 289.0,191.0 289.1,191.2 289.2,191.4 289.4,191.6 289.5,191.7 289.6,191.8 289.8,191.9 289.9,191.9 290.0,191.9 290.2,191.9 290.3,191.9 290.4,191.8 290.5,191.7 290.7,191.5 290.8,191.4 290.9,191.2 291.1,190.9 291.2,190.7 291.3,190.4 291.5,190.1 291.6,189.8 291.7,189.5 291.9,189.2 292.0,188.9 292.1,188.5 292.2,188.2 292.4,187.9 292.5,187.6 292.6,187.4 292.8,187.2 292.9,187.0 293.0,186.8 293.2,186.7 293.3,186.7 293.4,186.7 293.6,186.7 293.7,186.8 293.8,186.9 293.9,187.1 294.1,187.3 294.2,187.6 294.3,187.8 294.5,188.1 294.6,188.4 294.7,188.8 294.9,189.1 295.0,189.4 295.1,189.7 295.3,190.0 295.4,190.3 295.5,190.6 295.6,190.8 295.8,191.1 295.9,191.2 296.0,191.4 296.2,191.6 296.3,191.7 296.4,191.7 296.6,191.8 296.7,191.8 296.8,191.8 297.0,191.7 297.1,191.6 297.2,191.5 297.3,191.4 297.5,191.2 297.6,191.0 297.7,190.7 297.9,190.5 298.0,190.2 298.1,189.9 298.3,189.6 298.4,189.3 298.5,189.0 298.7,188.7 298.8,188.4 298.9,188.1 299.0,187.8 299.2,187.6 299.3,187.3 299.4,187.2 299.6,187.0 299.7,186.9 299.8,186.9 300.0,186.9 300.1,186.9 300.2,187.0 300.4,187.1 300.5,187.3 300.6,187.5 300.7,187.8 300.9,188.0 301.0,188.3 301.1,188.6 301.3,188.9 301.4,189.2 301.5,189.5 301.7,189.8 301.8,190.1 301.9,190.4 302.1,190.7 302.2,190.9 302.3,191.1 302.5,191.3 302.6,191.4 302.7,191.5 302.8,191.6 303.0,191.6 303.1,191.7 303.2,191.6 303.4,191.6 303.5,191.5 303.6,191.4 303.8,191.2 303.9,191.0 304.0,190.8 304.2,190.6 304.3,190.3 304.4,190.1 304.5,189.8 304.7,189.5 304.8,189.2 304.9,188.9 305.1,188.6 305.2,188.3 305.3,188.0 305.5,187.8 305.6,187.5 305.7,187.4 305.9,187.2 306.0,187.1 306.1,187.1 306.2,187.0 306.4,187.1 306.5,187.2 306.6,187.3 306.8,187.4 306.9,187.6 307.0,187.9 307.2,188.1 307.3,188.4 307.4,188.7 307.6,189.0 307.7,189.3 307.8,189.6 307.9,189.9 308.1,190.2 308.2,190.4 308.3,190.7 308.5,190.9 308.6,191.1 308.7,191.2 308.9,191.4 309.0,191.5 309.1,191.5 309.3,191.5 309.4,191.5 309.5,191.5 309.6,191.4 309.8,191.3 309.9,191.2 310.0,191.0 310.2,190.8 310.3,190.6 310.4,190.3 310.6,190.1 310.7,189.8 310.8,189.5 311.0,189.2 311.1,188.9 311.2,188.6 311.3,188.3 311.5,188.1 311.6,187.8 311.7,187.6 311.9,187.4 312.0,187.3 312.1,187.2 312.3,187.2 312.4,187.2 312.5,187.2 312.7,187.3 312.8,187.5 312.9,187.6 313.0,187.9 313.2,188.1 313.3,188.3 313.4,188.6 313.6,188.9 313.7,189.2 313.8,189.5 314.0,189.8 314.1,190.1 314.2,190.3 314.4,190.6 314.5,190.8 314.6,191.0 314.7,191.1 314.9,191.3 315.0,191.4 315.1,191.4 315.3,191.4 315.4,191.4 315.5,191.4 315.7,191.3 315.8,191.2 315.9,191.0 316.1,190.9 316.2,190.7 316.3,190.4 316.5,190.2 316.6,189.9 316.7,189.6 316.8,189.3 317.0,189.0 317.1,188.8 317.2,188.5 317.4,188.2 317.5,188.0 317.6,187.8 317.8,187.6 317.9,187.5 318.0,187.4 318.2,187.3 318.3,187.3 318.4,187.4 318.5,187.4 318.7,187.6 318.8,187.7 318.9,187.9 319.1,188.1 319.2,188.4 319.3,188.7 319.5,188.9 319.6,189.2 319.7,189.5 319.9,189.8 320.0,190.1 320.1,190.3 320.2,190.6 320.4,190.8 320.5,190.9 320.6,191.1 320.8,191.2 320.9,191.3 321.0,191.3 321.2,191.3 321.3,191.3 321.4,191.2 321.6,191.2 321.7,191.0 321.8,190.9 321.9,190.7 322.1,190.4 322.2,190.2 322.3,189.9 322.5,189.7 322.6,189.4 322.7,189.1 322.9,188.8 323.0,188.6 323.1,188.3 323.3,188.1 323.4,187.9 323.5,187.7 323.6,187.6 323.8,187.5 323.9,187.4 324.0,187.4 324.2,187.5 324.3,187.6 324.4,187.7 324.6,187.8 324.7,188.0 324.8,188.3 325.0,188.5 325.1,188.8 325.2,189.1 325.3,189.3 325.5,189.6 325.6,189.9 325.7,190.1 325.9,190.4 326.0,190.6 326.1,190.8 326.3,190.9 326.4,191.1 326.5,191.2 326.7,191.2 326.8,191.2 326.9,191.2 327.0,191.2 327.2,191.1 327.3,191.0 327.4,190.8 327.6,190.6 327.7,190.4 327.8,190.2 328.0,189.9 328.1,189.7 328.2,189.4 328.4,189.1 328.5,188.8 328.6,188.6 328.7,188.3 328.9,188.1 329.0,187.9 329.1,187.8 329.3,187.7 329.4,187.6 329.5,187.5 329.7,187.5 329.8,187.6 329.9,187.7 330.1,187.8 330.2,188.0 330.3,188.2 330.5,188.4 330.6,188.7 330.7,188.9 330.8,189.2 331.0,189.5 331.1,189.7 331.2,190.0 331.4,190.2 331.5,190.4 331.6,190.6 331.8,190.8 331.9,190.9 332.0,191.0 332.2,191.1 332.3,191.1 332.4,191.1 332.5,191.1 332.7,191.0 332.8,190.9 332.9,190.7 333.1,190.6 333.2,190.4 333.3,190.1 333.5,189.9 333.6,189.6 333.7,189.4 333.9,189.1 334.0,188.8 334.1,188.6 334.2,188.4 334.4,188.2 334.5,188.0 334.6,187.8 334.8,187.7 334.9,187.7 335.0,187.6 335.2,187.7 335.3,187.7 335.4,187.8 335.6,188.0 335.7,188.1 335.8,188.3 335.9,188.6 336.1,188.8 336.2,189.1 336.3,189.3 336.5,189.6 336.6,189.9 336.7,190.1 336.9,190.3 337.0,190.5 337.1,190.7 337.3,190.8 337.4,190.9 337.5,191.0 337.6,191.0 337.8,191.0 337.9,191.0 338.0,190.9 338.2,190.8 338.3,190.7 338.4,190.5 338.6,190.3 338.7,190.1 338.8,189.8 339.0,189.6 339.1,189.3 339.2,189.1 339.3,188.8 339.5,188.6 339.6,188.4 339.7,188.2 339.9,188.0 340.0,187.9 340.1,187.8 340.3,187.7 340.4,187.7 340.5,187.8 340.7,187.8 340.8,187.9 340.9,188.1 341.0,188.3 341.2,188.5 341.3,188.7 341.4,189.0 341.6,189.2 341.7,189.5 341.8,189.7 342.0,190.0 342.1,190.2 342.2,190.4 342.4,190.6 342.5,190.7 342.6,190.8 342.7,190.9 342.9,191.0 343.0,191.0 343.1,190.9 343.3,190.9 343.4,190.8 343.5,190.6 343.7,190.5 343.8,190.3 343.9,190.1 344.1,189.8 344.2,189.6 344.3,189.3 344.5,189.1 344.6,188.8 344.7,188.6 344.8,188.4 345.0,188.2 345.1,188.0 345.2,187.9 345.4,187.8 345.5,187.8 345.6,187.8 345.8,187.8 345.9,187.9 346.0,188.0 346.2,188.2 346.3,188.4 346.4,188.6 346.5,188.8 346.7,189.1 346.8,189.3 346.9,189.6 347.1,189.8 347.2,190.0 347.3,190.3 347.5,190.4 347.6,190.6 347.7,190.7 347.9,190.8 348.0,190.9 348.1,190.9 348.2,190.9 348.4,190.8 348.5,190.7 348.6,190.6 348.8,190.5 348.9,190.3 349.0,190.1 349.2,189.8 349.3,189.6 349.4,189.3 349.6,189.1 349.7,188.8 349.8,188.6 349.9,188.4 350.1,188.2 350.2,188.1 350.3,188.0 350.5,187.9 350.6,187.8 350.7,187.8 350.9,187.9 351.0,188.0 351.1,188.1 351.3,188.3 351.4,188.4 351.5,188.7 351.6,188.9 351.8,189.1 351.9,189.4 352.0,189.6 352.2,189.9 352.3,190.1 352.4,190.3 352.6,190.5 352.7,190.6 352.8,190.7 353.0,190.8 353.1,190.8 353.2,190.9 353.3,190.8 353.5,190.7 353.6,190.6 353.7,190.5 353.9,190.3 354.0,190.1 354.1,189.9 354.3,189.7 354.4,189.4 354.5,189.2 354.7,188.9 354.8,188.7 354.9,188.5 355.0,188.3 355.2,188.1 355.3,188.0 355.4,187.9 355.6,187.9 355.7,187.9 355.8,187.9 356.0,188.0 356.1,188.1 356.2,188.3 356.4,188.5 356.5,188.7 356.6,188.9 356.8,189.2 356.9,189.4 357.0,189.6 357.1,189.9 357.3,190.1 357.4,190.3 357.5,190.5 357.7,190.6 357.8,190.7 357.9,190.8 358.1,190.8 358.2,190.8 358.3,190.8 358.5,190.7 358.6,190.6 358.7,190.4 358.8,190.2 359.0,190.0 359.1,189.8 359.2,189.5 359.4,189.3 359.5,189.1 359.6,188.8 359.8,188.6 359.9,188.4 360.0,188.2 360.2,188.1 360.3,188.0 360.4,187.9 360.5,187.9 360.7,187.9 360.8,188.0 360.9,188.1 361.1,188.3 361.2,188.4 361.3,188.6 361.5,188.9 361.6,189.1 361.7,189.4 361.9,189.6 362.0,189.8 362.1,190.1 362.2,190.3 362.4,190.4 362.5,190.6 362.6,190.7 362.8,190.8 362.9,190.8 363.0,190.8 363.2,190.7 363.3,190.7 363.4,190.5 363.6,190.4 363.7,190.2 363.8,190.0 363.9,189.8 364.1,189.5 364.2,189.3 364.3,189.0 364.5,188.8 364.6,188.6 364.7,188.4 364.9,188.2 365.0,188.1 365.1,188.0 365.3,188.0 365.4,188.0 365.5,188.0 365.6,188.1 365.8,188.2 365.9,188.4 366.0,188.6 366.2,188.8 366.3,189.0 366.4,189.2 366.6,189.5 366.7,189.7 366.8,190.0 367.0,190.2 367.1,190.4 367.2,190.5 367.3,190.7 367.5,190.7 367.6,190.8 367.7,190.8 367.9,190.8 368.0,190.7 368.1,190.6 368.3,190.4 368.4,190.2 368.5,190.0 368.7,189.8 368.8,189.6 368.9,189.3 369.0,189.1 369.2,188.8 369.3,188.6 369.4,188.4 369.6,188.3 369.7,188.1 369.8,188.0 370.0,188.0 370.1,188.0 370.2,188.0 370.4,188.1 370.5,188.2 370.6,188.4 370.8,188.6 370.9,188.8 371.0,189.0 371.1,189.3 371.3,189.5 371.4,189.8 371.5,190.0 371.7,190.2 371.8,190.4 371.9,190.6 372.1,190.7 372.2,190.8 372.3,190.8 372.5,190.8 372.6,190.7 372.7,190.7 372.8,190.5 373.0,190.4 373.1,190.2 373.2,189.9 373.4,189.7 373.5,189.5 373.6,189.2 373.8,189.0 373.9,188.7 374.0,188.5 374.2,188.3 374.3,188.2 374.4,188.1 374.5,188.0 374.7,188.0 374.8,188.0 374.9,188.1 375.1,188.2 375.2,188.4 375.3,188.5 375.5,188.7 375.6,189.0 375.7,189.2 375.9,189.5 376.0,189.7 376.1,190.0 376.2,190.2 376.4,190.4 376.5,190.5 376.6,190.7 376.8,190.8 376.9,190.8 377.0,190.8 377.2,190.7 377.3,190.7 377.4,190.5 377.6,190.4 377.7,190.2 377.8,189.9 377.9,189.7 378.1,189.4 378.2,189.2 378.3,188.9 378.5,188.7 378.6,188.5 378.7,188.3 378.9,188.2 379.0,188.1 379.1,188.0 379.3,188.0 379.4,188.0 379.5,188.1 379.6,188.2 379.8,188.4 379.9,188.6 380.0,188.8 380.2,189.1 380.3,189.3 380.4,189.6 380.6,189.8 380.7,190.0 380.8,190.3 381.0,190.4 381.1,190.6 381.2,190.7 381.3,190.8 381.5,190.8 381.6,190.8 381.7,190.7 381.9,190.6 382.0,190.4 382.1,190.2 382.3,190.0 382.4,189.8 382.5,189.5 382.7,189.3 382.8,189.0 382.9,188.8 383.0,188.6 383.2,188.4 383.3,188.2 383.4,188.1 383.6,188.0 383.7,188.0 383.8,188.0 384.0,188.1 384.1,188.2 384.2,188.4 384.4,188.6 384.5,188.8 384.6,189.0 384.8,189.3 384.9,189.5 385.0,189.8 385.1,190.0 385.3,190.2 385.4,190.4 385.5,190.6 385.7,190.7 385.8,190.8 385.9,190.8 386.1,190.8 386.2,190.7 386.3,190.6 386.5,190.4 386.6,190.2 386.7,190.0 386.8,189.8 387.0,189.5 387.1,189.2 387.2,189.0 387.4,188.7 387.5,188.5 387.6,188.3 387.8,188.2 387.9,188.1 388.0,188.0 388.2,188.0 388.3,188.0 388.4,188.1 388.5,188.3 388.7,188.4 388.8,188.6 388.9,188.9 389.1,189.1 389.2,189.4 389.3,189.6 389.5,189.9 389.6,190.1 389.7,190.3 389.9,190.5 390.0,190.7 390.1,190.7 390.2,190.8 390.4,190.8 390.5,190.7 390.6,190.6 390.8,190.5 390.9,190.3 391.0,190.1 391.2,189.8 391.3,189.6 391.4,189.3 391.6,189.1 391.7,188.8 391.8,188.6 391.9,188.4 392.1,188.2 392.2,188.1 392.3,188.0 392.5,188.0 392.6,188.0 392.7,188.1 392.9,188.2 393.0,188.4 393.1,188.6 393.3,188.8 393.4,189.1 393.5,189.3 393.6,189.6 393.8,189.9 393.9,190.1 394.0,190.3 394.2,190.5 394.3,190.7 394.4,190.7 394.6,190.8 394.7,190.8 394.8,190.7 395.0,190.6 395.1,190.5 395.2,190.3 395.3,190.1 395.5,189.8 395.6,189.6 395.7,189.3 395.9,189.0 396.0,188.8 396.1,188.5 396.3,188.3 396.4,188.2 396.5,188.1 396.7,188.0 396.8,188.0 396.9,188.0 397.0,188.1 397.2,188.3 397.3,188.4 397.4,188.7 397.6,188.9 397.7,189.2 397.8,189.4 398.0,189.7 398.1,190.0 398.2,190.2 398.4,190.4 398.5,190.6 398.6,190.7 398.8,190.8 398.9,190.8 399.0,190.8 399.1,190.7 399.3,190.6 399.4,190.4 399.5,190.2 399.7,189.9 399.8,189.7 399.9,189.4 400.1,189.1 400.2,188.9 400.3,188.6 400.5,188.4 400.6,188.2 400.7,188.1 400.8,188.0 401.0,188.0 401.1,188.0 401.2,188.1 401.4,188.2 401.5,188.4 401.6,188.6 401.8,188.9 401.9,189.1 402.0,189.4 402.2,189.7 402.3,189.9 402.4,190.2 402.5,190.4 402.7,190.6 402.8,190.7 402.9,190.8 403.1,190.8 403.2,190.8 403.3,190.7 403.5,190.6 403.6,190.4 403.7,190.2 403.9,189.9 404.0,189.7 404.1,189.4 404.2,189.1 404.4,188.8 404.5,188.6 404.6,188.4 404.8,188.2 404.9,188.1 405.0,188.0 405.2,188.0 405.3,188.0 405.4,188.1 405.6,188.3 405.7,188.4 405.8,188.7 405.9,188.9 406.1,189.2 406.2,189.5 406.3,189.7 406.5,190.0 406.6,190.2 406.7,190.4 406.9,190.6 407.0,190.7" fill="none" stroke="#ff0000" stroke-width="0.9" stroke-linejoin="round"/>
<polyline points="55.0,-14.5 55.0,-12.4 55.1,-10.2 55.1,-8.0 55.2,-5.8 55.2,-3.6 55.2,-1.4 55.3,0.8 55.3,3.0 55.4,5.2 55.4,7.3 55.4,9.6 55.5,12.0 55.5,14.5 55.6,17.0 55.6,19.5 55.6,22.0 55.7,24.4 55.7,26.7 55.8,28.9 55.8,30.9 55.8,32.7 55.9,34.3 55.9,35.5 56.0,36.7 56.0,37.9 56.0,39.0 56.1,40.0 56.1,41.0 56.2,42.0 56.2,42.9 56.2,43.8 56.3,44.7 56.3,45.5 56.4,46.3 56.4,47.0 56.4,47.8 56.5,48.5 56.5,49.2 56.6,49.8 56.6,50.5 56.6,51.1 56.7,51.7 56.7,52.3 56.8,52.9 56.8,53.5 56.8,54.1 56.9,54.7 56.9,55.2 57.0,55.8 57.0,56.3 57.0,56.8 57.1,57.4 57.1,57.9 57.2,58.3 57.2,58.8 57.2,59.3 57.3,59.7 57.3,60.2 57.4,60.6 57.4,61.1 57.4,61.5 57.5,61.9 57.5,62.3 57.6,62.7 57.6,63.1 57.6,63.5 57.7,63.9 57.7,64.3 57.8,64.7 57.8,65.1 57.8,65.4 57.9,65.8 57.9,66.2 58.0,66.6 58.0,67.0 58.0,67.4 58.1,67.7 58.1,68.1 58.2,68.5 58.2,68.9 58.2,69.3 58.3,69.7 58.3,70.1 58.4,70.5 58.4,70.9 58.4,71.4 58.5,71.8 58.5,72.2 58.6,72.6 58.6,73.0 58.6,73.4 58.7,73.8 58.7,74.1 58.8,74.5 58.8,74.9 58.8,75.3 58.9,75.7 58.9,76.1 59.0,76.4 59.0,76.8 59.0,77.2 59.1,77.6 59.1,78.0 59.2,78.4 59.2,78.7 59.2,79.1 59.3,79.5 59.3,79.9 59.3,80.3 59.4,80.7 59.4,81.0 59.5,81.4 59.5,81.8 59.5,82.2 59.6,82.6 59.6,83.0 59.7,83.3 59.7,83.7 59.7,84.1 59.8,84.5 59.8,84.8 59.9,85.2 59.9,85.6 59.9,86.0 60.0,86.3 60.0,86.7 60.1,87.1 60.1,87.5 60.1,87.8 60.2,88.2 60.2,88.6 60.3,88.9 60.3,89.3 60.3,89.7 60.4,90.0 60.4,90.4 60.5,90.7 60.5,91.1 60.5,91.4 60.6,91.8 60.6,92.2 60.7,92.5 60.7,92.8 60.7,93.2 60.8,93.5 60.8,93.9 60.9,94.2 60.9,94.6 60.9,94.9 61.0,95.2 61.0,95.5 61.1,95.9 61.1,96.2 61.1,96.5 61.2,96.8 61.2,97.2 61.3,97.5 61.3,97.8 61.3,98.1 61.4,98.4 61.4,98.7 61.5,99.0 61.5,99.3 61.5,99.6 61.6,99.9 61.6,100.2 61.7,100.5 61.7,100.7 61.7,101.0 61.8,101.3 61.8,101.6 61.9,101.9 61.9,102.1 61.9,102.4 62.0,102.7 62.0,102.9 62.1,103.2 62.1,103.5 62.1,103.7 62.2,104.0 62.2,104.2 62.3,104.5 62.3,104.8 62.3,105.0 62.4,105.3 62.4,105.5 62.5,105.7 62.5,106.0 62.5,106.2 62.6,106.5 62.6,106.7 62.7,107.0 62.7,107.2 62.7,107.4 62.8,107.7 62.8,107.9 62.9,108.1 62.9,108.3 62.9,108.6 63.0,108.8 63.0,109.0 63.1,109.2 63.1,109.5 63.1,109.7 63.2,109.9 63.2,110.1 63.3,110.3 63.3,110.5 63.3,110.8 63.4,111.0 63.4,111.2 63.5,111.4 63.5,111.6 63.5,111.8 63.6,112.0 63.6,112.2 63.7,112.5 63.7,112.7 63.7,112.9 63.8,113.1 63.8,113.3 63.9,113.5 63.9,113.7 63.9,113.9 64.0,114.1 64.0,114.3 64.1,114.5 64.1,114.7 64.1,114.9 64.2,115.1 64.2,115.3 64.3,115.5 64.3,115.7 64.3,115.9 64.4,116.1 64.4,116.3 64.5,116.5 64.5,116.7 64.5,116.9 64.6,117.1 64.6,117.3 64.7,117.5 64.7,117.7 64.7,117.9 64.8,118.1 64.8,118.2 64.9,118.4 64.9,118.6 64.9,118.8 65.0,119.0 65.0,119.2 65.1,119.3 65.1,119.5 65.1,119.7 65.2,119.9 65.2,120.1 65.3,120.2 65.3,120.4 65.3,120.6 65.4,120.8 65.4,120.9 65.5,121.1 65.5,121.3 65.5,121.4 65.6,121.6 65.6,121.8 65.7,121.9 65.7,122.1 65.7,122.2 65.8,122.4 65.8,122.6 65.9,122.7 65.9,122.9 65.9,123.0 66.0,123.2 66.0,123.3 66.1,123.5 66.1,123.6 66.1,123.8 66.2,123.9 66.2,124.0 66.3,124.2 66.3,124.3 66.3,124.5 66.4,124.6 66.4,124.8 66.5,124.9 66.5,125.0 66.5,125.2 66.6,125.3 66.6,125.4 66.7,125.6 66.7,125.7 66.7,125.8 66.8,126.0 66.8,126.1 66.9,126.2 66.9,126.4 66.9,126.5 67.1,126.9 67.2,127.4 67.3,127.8 67.5,128.2 67.6,128.6 67.7,129.0 67.8,129.4 68.0,129.8 68.1,130.2 68.2,130.6 68.4,130.9 68.5,131.3 68.6,131.7 68.8,132.0 68.9,132.4 69.0,132.7 69.2,133.1 69.3,133.4 69.4,133.8 69.5,134.1 69.7,134.5 69.8,134.8 69.9,135.1 70.1,135.5 70.2,135.8 70.3,136.1 70.5,136.4 70.6,136.7 70.7,137.0 70.9,137.4 71.0,137.7 71.1,138.0 71.2,138.3 71.4,138.6 71.5,138.9 71.6,139.2 71.8,139.5 71.9,139.8 72.0,140.1 72.2,140.4 72.3,140.7 72.4,140.9 72.6,141.2 72.7,141.5 72.8,141.8 73.0,142.0 73.1,142.3 73.2,142.6 73.3,142.8 73.5,143.1 73.6,143.3 73.7,143.6 73.9,143.8 74.0,144.1 74.1,144.3 74.3,144.6 74.4,144.8 74.5,145.0 74.7,145.3 74.8,145.5 74.9,145.8 75.0,146.0 75.2,146.3 75.3,146.5 75.4,146.7 75.6,147.0 75.7,147.2 75.8,147.5 76.0,147.7 76.1,147.9 76.2,148.2 76.4,148.4 76.5,148.7 76.6,148.9 76.7,149.1 76.9,149.4 77.0,149.6 77.1,149.8 77.3,150.1 77.4,150.3 77.5,150.5 77.7,150.8 77.8,151.0 77.9,151.2 78.1,151.5 78.2,151.7 78.3,151.9 78.4,152.2 78.6,152.4 78.7,152.6 78.8,152.8 79.0,153.1 79.1,153.3 79.2,153.5 79.4,153.7 79.5,153.9 79.6,154.2 79.8,154.4 79.9,154.6 80.0,154.8 80.1,155.0 80.3,155.2 80.4,155.4 80.5,155.7 80.7,155.9 80.8,156.1 80.9,156.3 81.1,156.5 81.2,156.7 81.3,156.9 81.5,157.1 81.6,157.3 81.7,157.5 81.8,157.8 82.0,158.0 82.1,158.2 82.2,158.4 82.4,158.6 82.5,158.8 82.6,159.0 82.8,159.2 82.9,159.4 83.0,159.6 83.2,159.8 83.3,160.0 83.4,160.2 83.5,160.4 83.7,160.6 83.8,160.8 83.9,161.0 84.1,161.2 84.2,161.4 84.3,161.6 84.5,161.8 84.6,161.9 84.7,162.1 84.9,162.3 85.0,162.5 85.1,162.7 85.3,162.9 85.4,163.1 85.5,163.3 85.6,163.4 85.8,163.6 85.9,163.8 86.0,164.0 86.2,164.2 86.3,164.3 86.4,164.5 86.6,164.7 86.7,164.9 86.8,165.0 87.0,165.2 87.1,165.4 87.2,165.5 87.3,165.7 87.5,165.9 87.6,166.0 87.7,166.2 87.9,166.4 88.0,166.6 88.1,166.7 88.3,166.9 88.4,167.1 88.5,167.2 88.7,167.4 88.8,167.5 88.9,167.7 89.0,167.9 89.2,168.0 89.3,168.2 89.4,168.3 89.6,168.5 89.7,168.7 89.8,168.8 90.0,169.0 90.1,169.1 90.2,169.3 90.4,169.4 90.5,169.6 90.6,169.7 90.7,169.9 90.9,170.0 91.0,170.2 91.1,170.3 91.3,170.5 91.4,170.6 91.5,170.8 91.7,170.9 91.8,171.1 91.9,171.2 92.1,171.3 92.2,171.5 92.3,171.6 92.4,171.7 92.6,171.9 92.7,172.0 92.8,172.1 93.0,172.3 93.1,172.4 93.2,172.5 93.4,172.6 93.5,172.8 93.6,172.9 93.8,173.0 93.9,173.1 94.0,173.2 94.1,173.4 94.3,173.5 94.4,173.6 94.5,173.7 94.7,173.8 94.8,173.9 94.9,174.0 95.1,174.1 95.2,174.2 95.3,174.4 95.5,174.5 95.6,174.6 95.7,174.7 95.8,174.8 96.0,174.9 96.1,175.0 96.2,175.1 96.4,175.3 96.5,175.4 96.6,175.5 96.8,175.6 96.9,175.7 97.0,175.9 97.2,176.0 97.3,176.1 97.4,176.3 97.5,176.4 97.7,176.5 97.8,176.6 97.9,176.8 98.1,176.9 98.2,177.0 98.3,177.2 98.5,177.3 98.6,177.4 98.7,177.6 98.9,177.7 99.0,177.8 99.1,177.9 99.3,178.1 99.4,178.2 99.5,178.3 99.6,178.5 99.8,178.6 99.9,178.7 100.0,178.8 100.2,179.0 100.3,179.1 100.4,179.2 100.6,179.3 100.7,179.4 100.8,179.6 101.0,179.7 101.1,179.8 101.2,179.9 101.3,180.0 101.5,180.1 101.6,180.2 101.7,180.3 101.9,180.4 102.0,180.5 102.1,180.6 102.3,180.7 102.4,180.8 102.5,180.9 102.7,180.9 102.8,181.0 102.9,181.1 103.0,181.2 103.2,181.2 103.3,181.3 103.4,181.4 103.6,181.5 103.7,181.5 103.8,181.6 104.0,181.7 104.1,181.8 104.2,181.8 104.4,181.9 104.5,182.0 104.6,182.0 104.7,182.1 104.9,182.2 105.0,182.2 105.1,182.3 105.3,182.4 105.4,182.4 105.5,182.5 105.7,182.6 105.8,182.6 105.9,182.7 106.1,182.7 106.2,182.8 106.3,182.9 106.4,182.9 106.6,183.0 106.7,183.0 106.8,183.1 107.0,183.1 107.1,183.2 107.2,183.2 107.4,183.3 107.5,183.3 107.6,183.4 107.8,183.4 107.9,183.5 108.0,183.5 108.1,183.6 108.3,183.6 108.4,183.7 108.5,183.7 108.7,183.7 108.8,183.8 108.9,183.8 109.1,183.8 109.2,183.9 109.3,183.9 109.5,184.0 109.6,184.0 109.7,184.0 109.8,184.1 110.0,184.1 110.1,184.1 110.2,184.1 110.4,184.1 110.5,184.1 110.6,184.1 110.8,184.0 110.9,184.0 111.0,184.0 111.2,184.0 111.3,183.9 111.4,183.9 111.5,183.9 111.7,183.8 111.8,183.8 111.9,183.7 112.1,183.6 112.2,183.5 112.3,183.5 112.5,183.4 112.6,183.3 112.7,183.2 112.9,183.0 113.0,182.9 113.1,182.7 113.3,182.6 113.4,182.4 113.5,182.2 113.6,181.9 113.8,181.7 113.9,181.4 114.0,181.1 114.2,180.7 114.3,180.3 114.4,179.9 114.6,179.4 114.7,178.8 114.8,178.2 115.0,177.5 115.1,176.7 115.2,175.9 115.3,175.0 115.5,174.0 115.6,172.9 115.7,171.7 115.9,170.6 116.0,169.4 116.1,168.4 116.3,167.4 116.4,166.8 116.5,166.5 116.7,166.5 116.8,167.7 116.9,168.6 117.0,169.7 117.2,171.0 117.3,172.3 117.4,173.6 117.6,175.0 117.7,176.3 117.8,177.5 118.0,178.7 118.1,179.7 118.2,180.7 118.4,181.5 118.5,182.2 118.6,182.8 118.7,183.3 118.9,183.7 119.0,184.1 119.1,184.3 119.3,184.6 119.4,184.8 119.5,184.9 119.7,185.0 119.8,185.1 119.9,185.2 120.1,185.3 120.2,185.4 120.3,185.4 120.4,185.4 120.6,185.5 120.7,185.5 120.8,185.6 121.0,185.6 121.1,185.6 121.2,185.6 121.4,185.6 121.5,185.6 121.6,185.6 121.8,185.6 121.9,185.6 122.0,185.6 122.1,185.5 122.3,185.5 122.4,185.4 122.5,185.2 122.7,185.1 122.8,184.9 122.9,184.6 123.1,184.3 123.2,184.0 123.3,183.5 123.5,183.0 123.6,182.3 123.7,181.6 123.8,180.9 124.0,180.1 124.1,179.2 124.2,178.4 124.4,177.5 124.5,176.8 124.6,176.1 124.8,175.6 124.9,175.3 125.0,175.1 125.2,175.1 125.3,175.2 125.4,175.6 125.5,176.1 125.7,176.8 125.8,177.5 125.9,178.3 126.1,179.2 126.2,180.1 126.3,181.0 126.5,181.8 126.6,182.6 126.7,183.3 126.9,183.9 127.0,184.5 127.1,184.9 127.3,185.4 127.4,185.7 127.5,186.0 127.6,186.3 127.8,186.5 127.9,186.7 128.0,186.8 128.2,186.9 128.3,187.0 128.4,187.1 128.6,187.2 128.7,187.2 128.8,187.3 129.0,187.3 129.1,187.3 129.2,187.2 129.3,187.2 129.5,187.1 129.6,187.0 129.7,186.8 129.9,186.7 130.0,186.4 130.1,186.1 130.3,185.8 130.4,185.3 130.5,184.8 130.7,184.3 130.8,183.7 130.9,183.0 131.0,182.4 131.2,181.7 131.3,181.0 131.4,180.4 131.6,179.8 131.7,179.4 131.8,179.1 132.0,179.0 132.1,179.0 132.2,179.1 132.4,179.5 132.5,179.9 132.6,180.5 132.7,181.1 132.9,181.8 133.0,182.6 133.1,183.3 133.3,184.0 133.4,184.7 133.5,185.3 133.7,185.9 133.8,186.4 133.9,186.8 134.1,187.2 134.2,187.5 134.3,187.8 134.4,188.1 134.6,188.3 134.7,188.4 134.8,188.6 135.0,188.7 135.1,188.7 135.2,188.8 135.4,188.8 135.5,188.8 135.6,188.7 135.8,188.6 135.9,188.5 136.0,188.3 136.1,188.1 136.3,187.8 136.4,187.5 136.5,187.1 136.7,186.7 136.8,186.2 136.9,185.7 137.1,185.2 137.2,184.6 137.3,184.1 137.5,183.7 137.6,183.3 137.7,183.1 137.8,182.9 138.0,182.9 138.1,183.0 138.2,183.3 138.4,183.6 138.5,184.1 138.6,184.6 138.8,185.3 138.9,185.9 139.0,186.5 139.2,187.2 139.3,187.8 139.4,188.4 139.6,188.9 139.7,189.4 139.8,189.8 139.9,190.2 140.1,190.5 140.2,190.8 140.3,191.0 140.5,191.2 140.6,191.4 140.7,191.4 140.9,191.5 141.0,191.5 141.1,191.4 141.3,191.3 141.4,191.1 141.5,190.9 141.6,190.6 141.8,190.2 141.9,189.8 142.0,189.3 142.2,188.8 142.3,188.2 142.4,187.7 142.6,187.2 142.7,186.7 142.8,186.3 143.0,186.0 143.1,185.8 143.2,185.8 143.3,185.9 143.5,186.1 143.6,186.4 143.7,186.9 143.9,187.4 144.0,188.1 144.1,188.7 144.3,189.4 144.4,190.1 144.5,190.8 144.7,191.4 144.8,192.0 144.9,192.5 145.0,192.9 145.2,193.3 145.3,193.6 145.4,193.9 145.6,194.0 145.7,194.2 145.8,194.2 146.0,194.2 146.1,194.0 146.2,193.9 146.4,193.6 146.5,193.3 146.6,192.9 146.7,192.4 146.9,191.9 147.0,191.3 147.1,190.8 147.3,190.2 147.4,189.7 147.5,189.2 147.7,188.8 147.8,188.5 147.9,188.4 148.1,188.4 148.2,188.5 148.3,188.8 148.4,189.2 148.6,189.8 148.7,190.4 148.8,191.0 149.0,191.7 149.1,192.4 149.2,193.1 149.4,193.7 149.5,194.3 149.6,194.8 149.8,195.3 149.9,195.6 150.0,195.9 150.1,196.1 150.3,196.2 150.4,196.2 150.5,196.2 150.7,196.1 150.8,195.9 150.9,195.6 151.1,195.2 151.2,194.9 151.3,194.4 151.5,194.0 151.6,193.5 151.7,193.0 151.8,192.6 152.0,192.2 152.1,191.9 152.2,191.7 152.4,191.6 152.5,191.7 152.6,191.8 152.8,192.1 152.9,192.4 153.0,192.8 153.2,193.3 153.3,193.9 153.4,194.4 153.6,195.0 153.7,195.5 153.8,196.0 153.9,196.4 154.1,196.8 154.2,197.1 154.3,197.3 154.5,197.4 154.6,197.5 154.7,197.5 154.9,197.4 155.0,197.3 155.1,197.0 155.3,196.8 155.4,196.4 155.5,196.1 155.6,195.6 155.8,195.2 155.9,194.8 156.0,194.5 156.2,194.1 156.3,193.9 156.4,193.7 156.6,193.7 156.7,193.7 156.8,193.9 157.0,194.1 157.1,194.4 157.2,194.8 157.3,195.2 157.5,195.7 157.6,196.1 157.7,196.6 157.9,197.0 158.0,197.4 158.1,197.7 158.3,197.9 158.4,198.1 158.5,198.2 158.7,198.3 158.8,198.3 158.9,198.2 159.0,198.0 159.2,197.8 159.3,197.5 159.4,197.2 159.6,196.8 159.7,196.5 159.8,196.1 160.0,195.8 160.1,195.5 160.2,195.3 160.4,195.2 160.5,195.1 160.6,195.2 160.7,195.3 160.9,195.5 161.0,195.8 161.1,196.1 161.3,196.5 161.4,196.9 161.5,197.3 161.7,197.6 161.8,198.0 161.9,198.3 162.1,198.5 162.2,198.6 162.3,198.8 162.4,198.8 162.6,198.8 162.7,198.7 162.8,198.5 163.0,198.3 163.1,198.0 163.2,197.7 163.4,197.4 163.5,197.1 163.6,196.8 163.8,196.6 163.9,196.4 164.0,196.2 164.1,196.1 164.3,196.1 164.4,196.2 164.5,196.3 164.7,196.5 164.8,196.8 164.9,197.1 165.1,197.4 165.2,197.7 165.3,197.9 165.5,198.2 165.6,198.4 165.7,198.6 165.8,198.7 166.0,198.8 166.1,198.8 166.2,198.7 166.4,198.6 166.5,198.5 166.6,198.3 166.8,198.0 166.9,197.8 167.0,197.5 167.2,197.3 167.3,197.0 167.4,196.9 167.6,196.7 167.7,196.6 167.8,196.6 167.9,196.6 168.1,196.7 168.2,196.9 168.3,197.1 168.5,197.3 168.6,197.6 168.7,197.8 168.9,198.1 169.0,198.3 169.1,198.5 169.3,198.6 169.4,198.7 169.5,198.7 169.6,198.7 169.8,198.6 169.9,198.5 170.0,198.3 170.2,198.1 170.3,197.8 170.4,197.5 170.6,197.3 170.7,197.0 170.8,196.8 171.0,196.6 171.1,196.5 171.2,196.5 171.3,196.4 171.5,196.5 171.6,196.6 171.7,196.7 171.9,196.9 172.0,197.1 172.1,197.3 172.3,197.5 172.4,197.6 172.5,197.7 172.7,197.7 172.8,197.7 172.9,197.6 173.0,197.4 173.2,197.2 173.3,197.0 173.4,196.6 173.6,196.3 173.7,196.0 173.8,195.6 174.0,195.2 174.1,194.9 174.2,194.7 174.4,194.5 174.5,194.3 174.6,194.2 174.7,194.2 174.9,194.2 175.0,194.3 175.1,194.3 175.3,194.4 175.4,194.5 175.5,194.5 175.7,194.5 175.8,194.5 175.9,194.4 176.1,194.2 176.2,194.0 176.3,193.7 176.4,193.3 176.6,192.9 176.7,192.5 176.8,192.0 177.0,191.5 177.1,191.0 177.2,190.6 177.4,190.2 177.5,189.8 177.6,189.4 177.8,189.2 177.9,188.9 178.0,188.7 178.1,188.5 178.3,188.3 178.4,188.1 178.5,187.9 178.7,187.6 178.8,187.3 178.9,186.9 179.1,186.5 179.2,186.0 179.3,185.4 179.5,184.8 179.6,184.1 179.7,183.3 179.8,182.6 180.0,181.8 180.1,180.9 180.2,180.1 180.4,179.3 180.5,178.5 180.6,177.7 180.8,177.0 180.9,176.2 181.0,175.5 181.2,174.7 181.3,173.9 181.4,173.2 181.6,172.3 181.7,171.5 181.8,170.6 181.9,169.6 182.1,168.6 182.2,167.6 182.3,166.6 182.5,165.5 182.6,164.4 182.7,163.3 182.9,162.3 183.0,161.2 183.1,160.3 183.3,159.4 183.4,158.5 183.5,157.8 183.6,157.2 183.8,156.7 183.9,156.3 184.0,156.1 184.2,156.0 184.3,156.7 184.4,157.2 184.6,157.8 184.7,158.4 184.8,159.2 185.0,159.9 185.1,160.8 185.2,161.7 185.3,162.7 185.5,163.6 185.6,164.7 185.7,165.7 185.9,166.8 186.0,167.9 186.1,169.0 186.3,170.2 186.4,171.4 186.5,172.6 186.7,173.8 186.8,175.1 186.9,176.3 187.0,177.6 187.2,178.8 187.3,180.1 187.4,181.2 187.6,182.4 187.7,183.4 187.8,184.3 188.0,185.2 188.1,185.9 188.2,186.5 188.4,187.0 188.5,187.5 188.6,187.8 188.7,188.1 188.9,188.4 189.0,188.6 189.1,188.9 189.3,189.2 189.4,189.4 189.5,189.8 189.7,190.1 189.8,190.5 189.9,190.9 190.1,191.2 190.2,191.6 190.3,191.9 190.4,192.1 190.6,192.3 190.7,192.4 190.8,192.4 191.0,192.4 191.1,192.2 191.2,192.1 191.4,191.9 191.5,191.7 191.6,191.6 191.8,191.4 191.9,191.3 192.0,191.3 192.1,191.3 192.3,191.4 192.4,191.6 192.5,191.8 192.7,192.0 192.8,192.2 192.9,192.4 193.1,192.5 193.2,192.6 193.3,192.7 193.5,192.6 193.6,192.5 193.7,192.4 193.9,192.2 194.0,191.9 194.1,191.7 194.2,191.4 194.4,191.2 194.5,191.1 194.6,190.9 194.8,190.9 194.9,190.9 195.0,190.9 195.2,191.0 195.3,191.1 195.4,191.2 195.6,191.3 195.7,191.3 195.8,191.3 195.9,191.2 196.1,191.0 196.2,190.7 196.3,190.3 196.5,189.9 196.6,189.4 196.7,188.9 196.9,188.4 197.0,187.8 197.1,187.3 197.3,186.8 197.4,186.3 197.5,185.8 197.6,185.3 197.8,184.7 197.9,184.2 198.0,183.5 198.2,182.9 198.3,182.1 198.4,181.2 198.6,180.3 198.7,179.3 198.8,178.2 199.0,177.0 199.1,175.9 199.2,174.7 199.3,173.6 199.5,172.4 199.6,171.4 199.7,170.4 199.9,169.5 200.0,168.6 200.1,167.9 200.3,167.2 200.4,166.6 200.5,166.2 200.7,165.8 200.8,165.4 200.9,165.2 201.0,165.0 201.2,164.9 201.3,164.9 201.4,165.0 201.6,165.1 201.7,165.3 201.8,165.7 202.0,166.1 202.1,166.6 202.2,167.3 202.4,168.0 202.5,168.8 202.6,169.7 202.7,170.7 202.9,171.8 203.0,172.9 203.1,174.1 203.3,175.2 203.4,176.3 203.5,177.4 203.7,178.4 203.8,179.3 203.9,180.2 204.1,181.0 204.2,181.8 204.3,182.5 204.4,183.1 204.6,183.8 204.7,184.4 204.8,185.0 205.0,185.6 205.1,186.3 205.2,186.9 205.4,187.5 205.5,188.1 205.6,188.6 205.8,189.1 205.9,189.5 206.0,189.7 206.1,189.9 206.3,190.0 206.4,190.1 206.5,190.0 206.7,190.0 206.8,189.9 206.9,189.9 207.1,189.9 207.2,190.0 207.3,190.1 207.5,190.2 207.6,190.4 207.7,190.6 207.9,190.9 208.0,191.1 208.1,191.2 208.2,191.3 208.4,191.4 208.5,191.3 208.6,191.2 208.8,191.0 208.9,190.8 209.0,190.6 209.2,190.3 209.3,190.1 209.4,190.0 209.6,189.9 209.7,189.8 209.8,189.8 209.9,189.9 210.1,189.9 210.2,190.0 210.3,190.0 210.5,189.9 210.6,189.8 210.7,189.5 210.9,189.2 211.0,188.8 211.1,188.3 211.3,187.8 211.4,187.2 211.5,186.6 211.6,186.0 211.8,185.4 211.9,184.8 212.0,184.3 212.2,183.7 212.3,183.1 212.4,182.5 212.6,181.8 212.7,181.0 212.8,180.2 213.0,179.3 213.1,178.4 213.2,177.4 213.3,176.4 213.5,175.3 213.6,174.3 213.7,173.3 213.9,172.4 214.0,171.6 214.1,170.8 214.3,170.2 214.4,169.7 214.5,169.3 214.7,169.0 214.8,168.8 214.9,168.7 215.0,168.6 215.2,168.7 215.3,168.8 215.4,169.0 215.6,169.2 215.7,169.6 215.8,170.0 216.0,170.5 216.1,171.0 216.2,171.7 216.4,172.5 216.5,173.3 216.6,174.2 216.7,175.2 216.9,176.2 217.0,177.2 217.1,178.2 217.3,179.2 217.4,180.1 217.5,180.9 217.7,181.7 217.8,182.4 217.9,183.0 218.1,183.5 218.2,184.0 218.3,184.4 218.4,184.9 218.6,185.3 218.7,185.8 218.8,186.3 219.0,186.8 219.1,187.2 219.2,187.7 219.4,188.1 219.5,188.4 219.6,188.7 219.8,188.8 219.9,188.9 220.0,188.9 220.1,188.8 220.3,188.8 220.4,188.7 220.5,188.6 220.7,188.6 220.8,188.6 220.9,188.7 221.1,188.8 221.2,188.9 221.3,189.1 221.5,189.2 221.6,189.3 221.7,189.3 221.9,189.3 222.0,189.1 222.1,188.9 222.2,188.7 222.4,188.4 222.5,188.0 222.6,187.7 222.8,187.4 222.9,187.2 223.0,186.9 223.2,186.7 223.3,186.5 223.4,186.3 223.6,186.1 223.7,185.7 223.8,185.3 223.9,184.8 224.1,184.2 224.2,183.5 224.3,182.7 224.5,181.9 224.6,181.0 224.7,180.2 224.9,179.3 225.0,178.5 225.1,177.7 225.3,176.9 225.4,176.1 225.5,175.4 225.6,174.8 225.8,174.1 225.9,173.4 226.0,172.8 226.2,172.2 226.3,171.7 226.4,171.2 226.6,170.7 226.7,170.4 226.8,170.2 227.0,170.1 227.1,170.1 227.2,170.3 227.3,170.6 227.5,171.0 227.6,171.5 227.7,172.1 227.9,172.8 228.0,173.4 228.1,174.2 228.3,174.9 228.4,175.6 228.5,176.3 228.7,176.9 228.8,177.6 228.9,178.3 229.0,179.0 229.2,179.7 229.3,180.5 229.4,181.2 229.6,182.0 229.7,182.7 229.8,183.4 230.0,184.0 230.1,184.5 230.2,185.0 230.4,185.3 230.5,185.6 230.6,185.7 230.7,185.9 230.9,186.0 231.0,186.1 231.1,186.2 231.3,186.4 231.4,186.6 231.5,186.8 231.7,187.1 231.8,187.3 231.9,187.5 232.1,187.6 232.2,187.7 232.3,187.6 232.4,187.5 232.6,187.4 232.7,187.2 232.8,187.0 233.0,186.7 233.1,186.6 233.2,186.4 233.4,186.3 233.5,186.3 233.6,186.2 233.8,186.1 233.9,186.0 234.0,185.8 234.1,185.5 234.3,185.1 234.4,184.6 234.5,184.0 234.7,183.4 234.8,182.7 234.9,182.1 235.1,181.4 235.2,180.8 235.3,180.1 235.5,179.5 235.6,178.9 235.7,178.3 235.9,177.6 236.0,176.9 236.1,176.3 236.2,175.5 236.4,174.8 236.5,174.1 236.6,173.5 236.8,172.9 236.9,172.3 237.0,171.9 237.2,171.7 237.3,171.5 237.4,171.5 237.6,171.6 237.7,171.8 237.8,172.0 237.9,172.4 238.1,172.8 238.2,173.2 238.3,173.6 238.5,174.1 238.6,174.7 238.7,175.2 238.9,175.8 239.0,176.5 239.1,177.2 239.3,178.0 239.4,178.7 239.5,179.5 239.6,180.3 239.8,181.1 239.9,181.8 240.0,182.4 240.2,182.9 240.3,183.3 240.4,183.6 240.6,183.9 240.7,184.2 240.8,184.4 241.0,184.7 241.1,185.0 241.2,185.3 241.3,185.6 241.5,185.9 241.6,186.2 241.7,186.4 241.9,186.6 242.0,186.7 242.1,186.7 242.3,186.6 242.4,186.5 242.5,186.3 242.7,186.1 242.8,186.0 242.9,185.9 243.0,185.8 243.2,185.8 243.3,185.7 243.4,185.7 243.6,185.6 243.7,185.4 243.8,185.1 244.0,184.7 244.1,184.3 244.2,183.8 244.4,183.2 244.5,182.6 244.6,182.0 244.7,181.4 244.9,180.9 245.0,180.3 245.1,179.8 245.3,179.2 245.4,178.6 245.5,178.0 245.7,177.4 245.8,176.7 245.9,176.0 246.1,175.3 246.2,174.7 246.3,174.1 246.4,173.6 246.6,173.2 246.7,173.0 246.8,172.8 247.0,172.8 247.1,172.8 247.2,173.0 247.4,173.2 247.5,173.5 247.6,173.8 247.8,174.1 247.9,174.5 248.0,175.0 248.2,175.4 248.3,176.0 248.4,176.6 248.5,177.2 248.7,177.9 248.8,178.7 248.9,179.4 249.1,180.2 249.2,180.9 249.3,181.5 249.5,182.0 249.6,182.5 249.7,182.9 249.9,183.2 250.0,183.5 250.1,183.8 250.2,184.1 250.4,184.4 250.5,184.8 250.6,185.1 250.8,185.4 250.9,185.7 251.0,185.9 251.2,186.1 251.3,186.1 251.4,186.1 251.6,186.0 251.7,185.9 251.8,185.7 251.9,185.6 252.1,185.4 252.2,185.3 252.3,185.3 252.5,185.2 252.6,185.1 252.7,184.9 252.9,184.7 253.0,184.4 253.1,184.0 253.3,183.5 253.4,183.0 253.5,182.4 253.6,181.8 253.8,181.2 253.9,180.6 254.0,180.0 254.2,179.5 254.3,179.0 254.4,178.4 254.6,177.9 254.7,177.3 254.8,176.7 255.0,176.1 255.1,175.5 255.2,175.0 255.3,174.5 255.5,174.1 255.6,173.8 255.7,173.6 255.9,173.6 256.0,173.7 256.1,173.8 256.3,174.1 256.4,174.4 256.5,174.7 256.7,175.1 256.8,175.5 256.9,175.9 257.0,176.4 257.2,176.9 257.3,177.4 257.4,178.0 257.6,178.7 257.7,179.4 257.8,180.1 258.0,180.8 258.1,181.4 258.2,182.0 258.4,182.5 258.5,182.9 258.6,183.3 258.7,183.5 258.9,183.8 259.0,184.0 259.1,184.3 259.3,184.6 259.4,184.8 259.5,185.1 259.7,185.4 259.8,185.6 259.9,185.7 260.1,185.8 260.2,185.7 260.3,185.6 260.4,185.4 260.6,185.2 260.7,185.0 260.8,184.8 261.0,184.6 261.1,184.5 261.2,184.3 261.4,184.1 261.5,183.9 261.6,183.5 261.8,183.1 261.9,182.6 262.0,182.1 262.2,181.4 262.3,180.8 262.4,180.2 262.5,179.5 262.7,179.0 262.8,178.4 262.9,177.9 263.1,177.4 263.2,177.0 263.3,176.5 263.5,176.1 263.6,175.6 263.7,175.2 263.9,174.9 264.0,174.6 264.1,174.4 264.2,174.3 264.4,174.4 264.5,174.5 264.6,174.8 264.8,175.2 264.9,175.6 265.0,176.1 265.2,176.5 265.3,177.0 265.4,177.5 265.6,178.0 265.7,178.5 265.8,179.0 265.9,179.5 266.1,180.1 266.2,180.7 266.3,181.4 266.5,182.0 266.6,182.5 266.7,183.0 266.9,183.5 267.0,183.8 267.1,184.0 267.3,184.2 267.4,184.4 267.5,184.5 267.6,184.7 267.8,184.8 267.9,185.0 268.0,185.2 268.2,185.3 268.3,185.4 268.4,185.4 268.6,185.3 268.7,185.1 268.8,184.9 269.0,184.6 269.1,184.2 269.2,183.9 269.3,183.6 269.5,183.2 269.6,182.9 269.7,182.6 269.9,182.2 270.0,181.8 270.1,181.3 270.3,180.7 270.4,180.0 270.5,179.4 270.7,178.7 270.8,178.1 270.9,177.5 271.0,177.0 271.2,176.5 271.3,176.2 271.4,175.8 271.6,175.6 271.7,175.4 271.8,175.2 272.0,175.0 272.1,174.9 272.2,174.9 272.4,175.0 272.5,175.2 272.6,175.4 272.7,175.8 272.9,176.3 273.0,176.8 273.1,177.4 273.3,178.0 273.4,178.6 273.5,179.2 273.7,179.7 273.8,180.2 273.9,180.6 274.1,181.1 274.2,181.6 274.3,182.1 274.4,182.6 274.6,183.1 274.7,183.5 274.8,184.0 275.0,184.3 275.1,184.5 275.2,184.7 275.4,184.8 275.5,184.8 275.6,184.8 275.8,184.8 275.9,184.8 276.0,184.8 276.2,184.8 276.3,184.7 276.4,184.7 276.5,184.5 276.7,184.3 276.8,183.9 276.9,183.5 277.1,183.0 277.2,182.5 277.3,182.0 277.5,181.5 277.6,181.0 277.7,180.5 277.9,180.1 278.0,179.6 278.1,179.1 278.2,178.5 278.4,177.9 278.5,177.4 278.6,176.8 278.8,176.3 278.9,175.9 279.0,175.6 279.2,175.3 279.3,175.2 279.4,175.2 279.6,175.3 279.7,175.4 279.8,175.6 279.9,175.8 280.1,176.1 280.2,176.3 280.3,176.7 280.5,177.1 280.6,177.6 280.7,178.1 280.9,178.7 281.0,179.4 281.1,180.0 281.3,180.6 281.4,181.2 281.5,181.7 281.6,182.1 281.8,182.5 281.9,182.8 282.0,183.1 282.2,183.4 282.3,183.7 282.4,184.0 282.6,184.3 282.7,184.6 282.8,184.8 283.0,184.8 283.1,184.8 283.2,184.7 283.3,184.6 283.5,184.4 283.6,184.1 283.7,183.9 283.9,183.7 284.0,183.4 284.1,183.2 284.3,182.9 284.4,182.5 284.5,182.0 284.7,181.5 284.8,180.9 284.9,180.3 285.0,179.7 285.2,179.1 285.3,178.5 285.4,178.0 285.6,177.6 285.7,177.2 285.8,176.8 286.0,176.5 286.1,176.1 286.2,175.9 286.4,175.6 286.5,175.5 286.6,175.4 286.7,175.4 286.9,175.5 287.0,175.8 287.1,176.1 287.3,176.6 287.4,177.0 287.5,177.5 287.7,178.0 287.8,178.5 287.9,179.0 288.1,179.4 288.2,179.9 288.3,180.4 288.4,180.9 288.6,181.5 288.7,182.0 288.8,182.5 289.0,183.0 289.1,183.4 289.2,183.7 289.4,183.9 289.5,184.0 289.6,184.1 289.8,184.2 289.9,184.2 290.0,184.3 290.2,184.3 290.3,184.3 290.4,184.3 290.5,184.1 290.7,183.9 290.8,183.6 290.9,183.2 291.1,182.8 291.2,182.3 291.3,181.8 291.5,181.3 291.6,180.9 291.7,180.4 291.9,179.9 292.0,179.5 292.1,178.9 292.2,178.4 292.4,177.9 292.5,177.3 292.6,176.8 292.8,176.4 292.9,176.1 293.0,175.9 293.2,175.7 293.3,175.7 293.4,175.8 293.6,175.9 293.7,176.0 293.8,176.2 293.9,176.4 294.1,176.7 294.2,177.1 294.3,177.5 294.5,178.0 294.6,178.5 294.7,179.1 294.9,179.7 295.0,180.3 295.1,180.9 295.3,181.4 295.4,181.8 295.5,182.2 295.6,182.5 295.8,182.8 295.9,183.1 296.0,183.4 296.2,183.7 296.3,184.0 296.4,184.2 296.6,184.3 296.7,184.3 296.8,184.2 297.0,184.1 297.1,183.8 297.2,183.6 297.3,183.3 297.5,183.0 297.6,182.7 297.7,182.4 297.9,182.1 298.0,181.7 298.1,181.2 298.3,180.6 298.4,180.0 298.5,179.4 298.7,178.8 298.8,178.3 298.9,177.8 299.0,177.4 299.2,177.0 299.3,176.7 299.4,176.5 299.6,176.2 299.7,176.1 299.8,175.9 300.0,175.9 300.1,175.9 300.2,176.0 300.4,176.2 300.5,176.5 300.6,176.9 300.7,177.4 300.9,177.9 301.0,178.4 301.1,178.9 301.3,179.4 301.4,179.8 301.5,180.3 301.7,180.8 301.8,181.2 301.9,181.7 302.1,182.2 302.2,182.7 302.3,183.1 302.5,183.4 302.6,183.7 302.7,183.8 302.8,183.9 303.0,183.9 303.1,183.8 303.2,183.8 303.4,183.7 303.5,183.6 303.6,183.5 303.8,183.3 303.9,183.1 304.0,182.7 304.2,182.2 304.3,181.7 304.4,181.2 304.5,180.6 304.7,180.1 304.8,179.6 304.9,179.1 305.1,178.7 305.2,178.3 305.3,177.8 305.5,177.4 305.6,177.0 305.7,176.6 305.9,176.3 306.0,176.1 306.1,175.9 306.2,175.9 306.4,176.0 306.5,176.2 306.6,176.5 306.8,176.8 306.9,177.1 307.0,177.5 307.2,177.9 307.3,178.3 307.4,178.7 307.6,179.2 307.7,179.8 307.8,180.4 307.9,180.9 308.1,181.5 308.2,182.0 308.3,182.4 308.5,182.7 308.6,182.9 308.7,183.2 308.9,183.3 309.0,183.5 309.1,183.6 309.3,183.8 309.4,183.8 309.5,183.8 309.6,183.7 309.8,183.5 309.9,183.2 310.0,182.8 310.2,182.4 310.3,182.0 310.4,181.5 310.6,181.1 310.7,180.7 310.8,180.2 311.0,179.8 311.1,179.2 311.2,178.7 311.3,178.2 311.5,177.7 311.6,177.2 311.7,176.8 311.9,176.5 312.0,176.4 312.1,176.3 312.3,176.2 312.4,176.3 312.5,176.4 312.7,176.5 312.8,176.7 312.9,176.9 313.0,177.2 313.2,177.6 313.3,178.1 313.4,178.6 313.6,179.2 313.7,179.8 313.8,180.3 314.0,180.8 314.1,181.2 314.2,181.6 314.4,182.0 314.5,182.3 314.6,182.7 314.7,183.0 314.9,183.3 315.0,183.5 315.1,183.7 315.3,183.7 315.4,183.7 315.5,183.5 315.7,183.3 315.8,183.1 315.9,182.8 316.1,182.5 316.2,182.2 316.3,181.8 316.5,181.4 316.6,181.0 316.7,180.5 316.8,179.9 317.0,179.4 317.1,178.8 317.2,178.3 317.4,177.8 317.5,177.4 317.6,177.1 317.8,176.9 317.9,176.7 318.0,176.5 318.2,176.4 318.3,176.4 318.4,176.4 318.5,176.5 318.7,176.7 318.8,177.0 318.9,177.3 319.1,177.8 319.2,178.3 319.3,178.8 319.5,179.3 319.6,179.8 319.7,180.2 319.9,180.6 320.0,181.1 320.1,181.5 320.2,182.0 320.4,182.4 320.5,182.8 320.6,183.1 320.8,183.3 320.9,183.4 321.0,183.5 321.2,183.4 321.3,183.3 321.4,183.2 321.6,183.0 321.7,182.8 321.8,182.6 321.9,182.3 322.1,182.0 322.2,181.5 322.3,181.0 322.5,180.5 322.6,179.9 322.7,179.4 322.9,178.9 323.0,178.4 323.1,178.0 323.3,177.7 323.4,177.3 323.5,177.0 323.6,176.8 323.8,176.6 323.9,176.4 324.0,176.4 324.2,176.5 324.3,176.6 324.4,176.9 324.6,177.2 324.7,177.6 324.8,178.0 325.0,178.5 325.1,178.9 325.2,179.3 325.3,179.8 325.5,180.3 325.6,180.8 325.7,181.3 325.9,181.8 326.0,182.2 326.1,182.6 326.3,182.9 326.4,183.0 326.5,183.2 326.7,183.2 326.8,183.2 326.9,183.2 327.0,183.1 327.2,183.0 327.3,182.9 327.4,182.6 327.6,182.3 327.7,181.9 327.8,181.4 328.0,180.9 328.1,180.4 328.2,179.9 328.4,179.4 328.5,179.0 328.6,178.5 328.7,178.1 328.9,177.7 329.0,177.4 329.1,177.0 329.3,176.8 329.4,176.6 329.5,176.5 329.7,176.6 329.8,176.7 329.9,176.9 330.1,177.2 330.2,177.5 330.3,177.8 330.5,178.2 330.6,178.6 330.7,179.0 330.8,179.5 331.0,180.0 331.1,180.5 331.2,181.1 331.4,181.6 331.5,182.0 331.6,182.3 331.8,182.6 331.9,182.8 332.0,182.9 332.2,183.0 332.3,183.1 332.4,183.1 332.5,183.1 332.7,183.0 332.8,182.8 332.9,182.5 333.1,182.1 333.2,181.7 333.3,181.2 333.5,180.8 333.6,180.3 333.7,179.9 333.9,179.4 334.0,179.0 334.1,178.6 334.2,178.1 334.4,177.7 334.5,177.3 334.6,177.0 334.8,176.8 334.9,176.7 335.0,176.7 335.2,176.8 335.3,176.9 335.4,177.1 335.6,177.4 335.7,177.7 335.8,178.0 335.9,178.4 336.1,178.8 336.2,179.3 336.3,179.8 336.5,180.4 336.6,180.9 336.7,181.3 336.9,181.7 337.0,182.1 337.1,182.3 337.3,182.6 337.4,182.7 337.5,182.9 337.6,183.0 337.8,183.1 337.9,183.1 338.0,182.9 338.2,182.7 338.3,182.4 338.4,182.0 338.6,181.6 338.7,181.2 338.8,180.7 339.0,180.3 339.1,179.9 339.2,179.4 339.3,179.0 339.5,178.5 339.6,178.0 339.7,177.6 339.9,177.3 340.0,177.1 340.1,176.9 340.3,176.9 340.4,176.9 340.5,177.0 340.7,177.1 340.8,177.3 340.9,177.5 341.0,177.8 341.2,178.2 341.3,178.6 341.4,179.1 341.6,179.6 341.7,180.1 341.8,180.6 342.0,181.1 342.1,181.5 342.2,181.8 342.4,182.1 342.5,182.4 342.6,182.6 342.7,182.8 342.9,182.9 343.0,183.0 343.1,182.9 343.3,182.8 343.4,182.6 343.5,182.3 343.7,181.9 343.8,181.5 343.9,181.1 344.1,180.7 344.2,180.3 344.3,179.9 344.5,179.4 344.6,178.9 344.7,178.4 344.8,178.0 345.0,177.6 345.1,177.3 345.2,177.1 345.4,177.0 345.5,177.0 345.6,177.0 345.8,177.1 345.9,177.2 346.0,177.4 346.2,177.7 346.3,178.0 346.4,178.4 346.5,178.8 346.7,179.3 346.8,179.8 346.9,180.3 347.1,180.8 347.2,181.2 347.3,181.5 347.5,181.8 347.6,182.1 347.7,182.4 347.9,182.6 348.0,182.7 348.1,182.8 348.2,182.8 348.4,182.7 348.5,182.5 348.6,182.2 348.8,181.8 348.9,181.5 349.0,181.1 349.2,180.7 349.3,180.3 349.4,179.9 349.6,179.4 349.7,178.9 349.8,178.5 349.9,178.1 350.1,177.7 350.2,177.4 350.3,177.2 350.5,177.1 350.6,177.1 350.7,177.1 350.9,177.2 351.0,177.3 351.1,177.5 351.3,177.8 351.4,178.1 351.5,178.5 351.6,179.0 351.8,179.4 351.9,179.9 352.0,180.4 352.2,180.8 352.3,181.2 352.4,181.5 352.6,181.8 352.7,182.1 352.8,182.3 353.0,182.5 353.1,182.6 353.2,182.7 353.3,182.6 353.5,182.4 353.6,182.2 353.7,181.8 353.9,181.5 354.0,181.2 354.1,180.8 354.3,180.4 354.4,180.0 354.5,179.5 354.7,179.1 354.8,178.6 354.9,178.2 355.0,177.8 355.2,177.5 355.3,177.3 355.4,177.2 355.6,177.2 355.7,177.2 355.8,177.3 356.0,177.4 356.1,177.6 356.2,177.8 356.4,178.1 356.5,178.5 356.6,179.0 356.8,179.5 356.9,179.9 357.0,180.4 357.1,180.8 357.3,181.1 357.4,181.5 357.5,181.8 357.7,182.0 357.8,182.3 357.9,182.4 358.1,182.5 358.2,182.5 358.3,182.4 358.5,182.2 358.6,182.0 358.7,181.6 358.8,181.3 359.0,180.9 359.1,180.6 359.2,180.2 359.4,179.7 359.5,179.3 359.6,178.8 359.8,178.4 359.9,178.0 360.0,177.7 360.2,177.5 360.3,177.3 360.4,177.3 360.5,177.3 360.7,177.3 360.8,177.4 360.9,177.6 361.1,177.8 361.2,178.1 361.3,178.4 361.5,178.9 361.6,179.3 361.7,179.8 361.9,180.3 362.0,180.7 362.1,181.1 362.2,181.4 362.4,181.7 362.5,181.9 362.6,182.2 362.8,182.3 362.9,182.4 363.0,182.5 363.2,182.4 363.3,182.2 363.4,181.9 363.6,181.6 363.7,181.2 363.8,180.9 363.9,180.5 364.1,180.1 364.2,179.7 364.3,179.2 364.5,178.8 364.6,178.4 364.7,178.0 364.9,177.7 365.0,177.5 365.1,177.3 365.3,177.3 365.4,177.3 365.5,177.4 365.6,177.5 365.8,177.7 365.9,178.0 366.0,178.3 366.2,178.7 366.3,179.1 366.4,179.6 366.6,180.1 366.7,180.5 366.8,180.9 367.0,181.3 367.1,181.6 367.2,181.8 367.3,182.1 367.5,182.3 367.6,182.4 367.7,182.4 367.9,182.4 368.0,182.2 368.1,182.0 368.3,181.7 368.4,181.3 368.5,180.9 368.7,180.5 368.8,180.1 368.9,179.7 369.0,179.3 369.2,178.9 369.3,178.5 369.4,178.1 369.6,177.8 369.7,177.5 369.8,177.4 370.0,177.3 370.1,177.4 370.2,177.4 370.4,177.6 370.5,177.8 370.6,178.0 370.8,178.4 370.9,178.7 371.0,179.2 371.1,179.6 371.3,180.1 371.4,180.6 371.5,181.0 371.7,181.4 371.8,181.7 371.9,181.9 372.1,182.1 372.2,182.3 372.3,182.4 372.5,182.4 372.6,182.3 372.7,182.2 372.8,181.9 373.0,181.6 373.1,181.2 373.2,180.8 373.4,180.4 373.5,179.9 373.6,179.5 373.8,179.1 373.9,178.7 374.0,178.3 374.2,178.0 374.3,177.7 374.4,177.5 374.5,177.4 374.7,177.4 374.8,177.4 374.9,177.6 375.1,177.8 375.2,178.0 375.3,178.3 375.5,178.7 375.6,179.1 375.7,179.5 375.9,180.0 376.0,180.5 376.1,180.9 376.2,181.3 376.4,181.7 376.5,181.9 376.6,182.1 376.8,182.3 376.9,182.3 377.0,182.4 377.2,182.3 377.3,182.2 377.4,182.0 377.6,181.6 377.7,181.2 377.8,180.8 377.9,180.4 378.1,179.9 378.2,179.5 378.3,179.1 378.5,178.7 378.6,178.3 378.7,178.0 378.9,177.7 379.0,177.5 379.1,177.4 379.3,177.4 379.4,177.5 379.5,177.6 379.6,177.9 379.8,178.2 379.9,178.5 380.0,178.8 380.2,179.2 380.3,179.7 380.4,180.1 380.6,180.6 380.7,181.1 380.8,181.5 381.0,181.8 381.1,182.1 381.2,182.2 381.3,182.3 381.5,182.3 381.6,182.3 381.7,182.2 381.9,182.0 382.0,181.8 382.1,181.5 382.3,181.0 382.4,180.6 382.5,180.1 382.7,179.6 382.8,179.2 382.9,178.8 383.0,178.5 383.2,178.1 383.3,177.9 383.4,177.6 383.6,177.5 383.7,177.4 383.8,177.5 384.0,177.6 384.1,177.8 384.2,178.1 384.4,178.5 384.5,178.8 384.6,179.2 384.8,179.7 384.9,180.1 385.0,180.5 385.1,181.0 385.3,181.4 385.4,181.8 385.5,182.1 385.7,182.3 385.8,182.4 385.9,182.4 386.1,182.3 386.2,182.2 386.3,182.0 386.5,181.7 386.6,181.4 386.7,181.0 386.8,180.6 387.0,180.1 387.1,179.6 387.2,179.1 387.4,178.7 387.5,178.4 387.6,178.1 387.8,177.8 387.9,177.7 388.0,177.5 388.2,177.5 388.3,177.5 388.4,177.7 388.5,177.9 388.7,178.2 388.8,178.6 388.9,179.0 389.1,179.5 389.2,179.9 389.3,180.3 389.5,180.7 389.6,181.2 389.7,181.5 389.9,181.9 390.0,182.2 390.1,182.4 390.2,182.4 390.4,182.4 390.5,182.3 390.6,182.1 390.8,181.8 390.9,181.5 391.0,181.1 391.2,180.8 391.3,180.3 391.4,179.8 391.6,179.4 391.7,178.9 391.8,178.5 391.9,178.1 392.1,177.9 392.2,177.7 392.3,177.6 392.5,177.6 392.6,177.6 392.7,177.7 392.9,177.9 393.0,178.2 393.1,178.5 393.3,178.9 393.4,179.4 393.5,179.9 393.6,180.3 393.8,180.8 393.9,181.2 394.0,181.5 394.2,181.8 394.3,182.1 394.4,182.3 394.6,182.4 394.7,182.4 394.8,182.3 395.0,182.1 395.1,181.8 395.2,181.5 395.3,181.1 395.5,180.7 395.6,180.2 395.7,179.8 395.9,179.3 396.0,178.9 396.1,178.5 396.3,178.1 396.4,177.8 396.5,177.7 396.7,177.6 396.8,177.6 396.9,177.7 397.0,177.8 397.2,178.0 397.3,178.3 397.4,178.7 397.6,179.1 397.7,179.5 397.8,180.0 398.0,180.5 398.1,181.0 398.2,181.4 398.4,181.7 398.5,182.0 398.6,182.2 398.8,182.3 398.9,182.4 399.0,182.4 399.1,182.2 399.3,182.0 399.4,181.7 399.5,181.3 399.7,180.8 399.8,180.4 399.9,179.9 400.1,179.5 400.2,179.1 400.3,178.7 400.5,178.3 400.6,178.0 400.7,177.7 400.8,177.6 401.0,177.5 401.1,177.6 401.2,177.8 401.4,178.0 401.5,178.3 401.6,178.6 401.8,179.0 401.9,179.4 402.0,179.9 402.2,180.4 402.3,180.9 402.4,181.3 402.5,181.7 402.7,182.0 402.8,182.2 402.9,182.3 403.1,182.4 403.2,182.3 403.3,182.2 403.5,182.0 403.6,181.7 403.7,181.3 403.9,180.9 404.0,180.4 404.1,179.9 404.2,179.4 404.4,179.0 404.5,178.6 404.6,178.3 404.8,178.0 404.9,177.8 405.0,177.6 405.2,177.6 405.3,177.6 405.4,177.8 405.6,178.0 405.7,178.3 405.8,178.7 405.9,179.2 406.1,179.6 406.2,180.1 406.3,180.5 406.5,180.9 406.6,181.4 406.7,181.8 406.9,182.1 407.0,182.3" fill="none" stroke="#00ff00" stroke-width="0.9" stroke-linejoin="round"/>
<polyline points="55.8,-39.4 55.8,-38.2 55.8,-37.0 55.9,-35.8 55.9,-34.6 56.0,-33.4 56.0,-32.2 56.0,-31.0 56.1,-29.8 56.1,-28.6 56.2,-27.4 56.2,-26.1 56.2,-24.9 56.3,-23.7 56.3,-22.5 56.4,-21.3 56.4,-20.1 56.4,-18.9 56.5,-17.7 56.5,-16.5 56.6,-15.3 56.6,-14.0 56.6,-12.8 56.7,-11.6 56.7,-10.4 56.8,-9.2 56.8,-8.0 56.8,-6.8 56.9,-5.5 56.9,-4.3 57.0,-3.1 57.0,-1.9 57.0,-0.7 57.1,0.5 57.1,1.8 57.2,3.0 57.2,4.2 57.2,5.4 57.3,6.6 57.3,7.8 57.4,9.1 57.4,10.4 57.4,11.7 57.5,13.1 57.5,14.4 57.6,15.8 57.6,17.2 57.6,18.6 57.7,20.0 57.7,21.3 57.8,22.7 57.8,24.0 57.8,25.3 57.9,26.6 57.9,27.8 58.0,29.0 58.0,30.1 58.0,31.2 58.1,32.2 58.1,33.2 58.2,34.1 58.2,34.9 58.2,35.6 58.3,36.3 58.3,37.0 58.4,37.7 58.4,38.3 58.4,39.0 58.5,39.6 58.5,40.2 58.6,40.8 58.6,41.4 58.6,41.9 58.7,42.5 58.7,43.0 58.8,43.5 58.8,44.0 58.8,44.5 58.9,45.0 58.9,45.5 59.0,46.0 59.0,46.4 59.0,46.9 59.1,47.3 59.1,47.8 59.2,48.2 59.2,48.7 59.2,49.1 59.3,49.5 59.3,49.9 59.3,50.3 59.4,50.7 59.4,51.2 59.5,51.6 59.5,52.0 59.5,52.4 59.6,52.8 59.6,53.2 59.7,53.6 59.7,54.0 59.7,54.5 59.8,54.9 59.8,55.3 59.9,55.7 59.9,56.1 59.9,56.6 60.0,57.0 60.0,57.4 60.1,57.8 60.1,58.2 60.1,58.6 60.2,59.0 60.2,59.4 60.3,59.8 60.3,60.1 60.3,60.5 60.4,60.9 60.4,61.3 60.5,61.7 60.5,62.0 60.5,62.4 60.6,62.8 60.6,63.1 60.7,63.5 60.7,63.9 60.7,64.2 60.8,64.6 60.8,64.9 60.9,65.3 60.9,65.7 60.9,66.0 61.0,66.4 61.0,66.7 61.1,67.1 61.1,67.4 61.1,67.8 61.2,68.1 61.2,68.5 61.3,68.8 61.3,69.2 61.3,69.5 61.4,69.9 61.4,70.2 61.5,70.6 61.5,70.9 61.5,71.3 61.6,71.6 61.6,71.9 61.7,72.3 61.7,72.6 61.7,72.9 61.8,73.3 61.8,73.6 61.9,73.9 61.9,74.2 61.9,74.6 62.0,74.9 62.0,75.2 62.1,75.5 62.1,75.8 62.1,76.1 62.2,76.4 62.2,76.7 62.3,77.0 62.3,77.3 62.3,77.6 62.4,78.0 62.4,78.3 62.5,78.6 62.5,78.9 62.5,79.2 62.6,79.5 62.6,79.8 62.7,80.1 62.7,80.4 62.7,80.7 62.8,81.0 62.8,81.3 62.9,81.7 62.9,82.0 62.9,82.3 63.0,82.6 63.0,82.9 63.1,83.2 63.1,83.5 63.1,83.8 63.2,84.1 63.2,84.4 63.3,84.7 63.3,85.0 63.3,85.3 63.4,85.6 63.4,85.9 63.5,86.2 63.5,86.5 63.5,86.8 63.6,87.1 63.6,87.4 63.7,87.7 63.7,88.0 63.7,88.3 63.8,88.6 63.8,88.9 63.9,89.2 63.9,89.5 63.9,89.8 64.0,90.1 64.0,90.4 64.1,90.6 64.1,90.9 64.1,91.2 64.2,91.5 64.2,91.8 64.3,92.1 64.3,92.4 64.3,92.6 64.4,92.9 64.4,93.2 64.5,93.5 64.5,93.7 64.5,94.0 64.6,94.3 64.6,94.6 64.7,94.8 64.7,95.1 64.7,95.4 64.8,95.6 64.8,95.9 64.9,96.2 64.9,96.4 64.9,96.7 65.0,97.0 65.0,97.2 65.1,97.5 65.1,97.7 65.1,98.0 65.2,98.2 65.2,98.5 65.3,98.7 65.3,99.0 65.3,99.2 65.4,99.5 65.4,99.7 65.5,99.9 65.5,100.2 65.5,100.4 65.6,100.6 65.6,100.9 65.7,101.1 65.7,101.3 65.7,101.6 65.8,101.8 65.8,102.0 65.9,102.2 65.9,102.4 65.9,102.7 66.0,102.9 66.0,103.1 66.1,103.3 66.1,103.5 66.1,103.7 66.2,103.9 66.2,104.1 66.3,104.3 66.3,104.5 66.3,104.7 66.4,104.9 66.4,105.1 66.5,105.2 66.5,105.4 66.5,105.6 66.6,105.8 66.6,105.9 66.7,106.1 66.7,106.3 66.7,106.4 66.8,106.6 66.8,106.7 66.9,106.9 66.9,107.0 66.9,107.2 67.1,107.6 67.2,108.1 67.3,108.6 67.5,109.0 67.6,109.5 67.7,110.1 67.8,110.6 68.0,111.2 68.1,111.8 68.2,112.3 68.4,112.9 68.5,113.6 68.6,114.2 68.8,114.8 68.9,115.4 69.0,116.0 69.2,116.7 69.3,117.3 69.4,117.9 69.5,118.5 69.7,119.2 69.8,119.8 69.9,120.4 70.1,121.0 70.2,121.5 70.3,122.1 70.5,122.7 70.6,123.2 70.7,123.7 70.9,124.2 71.0,124.7 71.1,125.2 71.2,125.7 71.4,126.2 71.5,126.6 71.6,127.1 71.8,127.6 71.9,128.1 72.0,128.5 72.2,129.0 72.3,129.4 72.4,129.9 72.6,130.3 72.7,130.8 72.8,131.2 73.0,131.6 73.1,132.1 73.2,132.5 73.3,132.9 73.5,133.3 73.6,133.7 73.7,134.1 73.9,134.5 74.0,134.9 74.1,135.3 74.3,135.7 74.4,136.1 74.5,136.5 74.7,136.9 74.8,137.3 74.9,137.6 75.0,138.0 75.2,138.3 75.3,138.7 75.4,139.0 75.6,139.4 75.7,139.7 75.8,140.1 76.0,140.4 76.1,140.7 76.2,141.1 76.4,141.4 76.5,141.7 76.6,142.0 76.7,142.3 76.9,142.6 77.0,142.9 77.1,143.2 77.3,143.5 77.4,143.8 77.5,144.1 77.7,144.4 77.8,144.6 77.9,144.9 78.1,145.2 78.2,145.5 78.3,145.7 78.4,146.0 78.6,146.3 78.7,146.5 78.8,146.8 79.0,147.1 79.1,147.3 79.2,147.6 79.4,147.8 79.5,148.1 79.6,148.4 79.8,148.6 79.9,148.9 80.0,149.1 80.1,149.4 80.3,149.7 80.4,149.9 80.5,150.2 80.7,150.4 80.8,150.7 80.9,150.9 81.1,151.2 81.2,151.4 81.3,151.7 81.5,151.9 81.6,152.2 81.7,152.4 81.8,152.7 82.0,152.9 82.1,153.2 82.2,153.4 82.4,153.7 82.5,153.9 82.6,154.1 82.8,154.4 82.9,154.6 83.0,154.9 83.2,155.1 83.3,155.3 83.4,155.6 83.5,155.8 83.7,156.0 83.8,156.3 83.9,156.5 84.1,156.7 84.2,157.0 84.3,157.2 84.5,157.4 84.6,157.6 84.7,157.9 84.9,158.1 85.0,158.3 85.1,158.5 85.3,158.8 85.4,159.0 85.5,159.2 85.6,159.4 85.8,159.6 85.9,159.8 86.0,160.1 86.2,160.3 86.3,160.5 86.4,160.7 86.6,160.9 86.7,161.1 86.8,161.3 87.0,161.5 87.1,161.7 87.2,162.0 87.3,162.2 87.5,162.4 87.6,162.6 87.7,162.8 87.9,163.0 88.0,163.2 88.1,163.5 88.3,163.7 88.4,163.9 88.5,164.1 88.7,164.3 88.8,164.5 88.9,164.7 89.0,164.9 89.2,165.1 89.3,165.3 89.4,165.5 89.6,165.7 89.7,165.8 89.8,166.0 90.0,166.1 90.1,166.3 90.2,166.4 90.4,166.5 90.5,166.6 90.6,166.7 90.7,166.8 90.9,166.9 91.0,166.9 91.1,167.0 91.3,167.0 91.4,167.0 91.5,167.0 91.7,167.0 91.8,166.9 91.9,166.9 92.1,166.8 92.2,166.7 92.3,166.5 92.4,166.3 92.6,166.0 92.7,165.7 92.8,165.2 93.0,164.7 93.1,164.1 93.2,163.3 93.4,162.3 93.5,161.2 93.6,160.0 93.8,158.8 93.9,157.8 94.0,157.3 94.1,157.8 94.3,158.9 94.4,160.2 94.5,161.7 94.7,163.2 94.8,164.7 94.9,166.0 95.1,167.0 95.2,167.9 95.3,168.5 95.5,169.0 95.6,169.4 95.7,169.7 95.8,170.0 96.0,170.2 96.1,170.3 96.2,170.5 96.4,170.6 96.5,170.7 96.6,170.9 96.8,171.0 96.9,171.1 97.0,171.2 97.2,171.3 97.3,171.5 97.4,171.6 97.5,171.7 97.7,171.8 97.8,171.9 97.9,172.0 98.1,172.0 98.2,172.0 98.3,172.0 98.5,171.9 98.6,171.6 98.7,171.3 98.9,170.8 99.0,170.3 99.1,169.6 99.3,168.9 99.4,168.3 99.5,167.9 99.6,167.7 99.8,167.8 99.9,168.2 100.0,168.8 100.2,169.7 100.3,170.6 100.4,171.6 100.6,172.5 100.7,173.3 100.8,174.0 101.0,174.5 101.1,175.0 101.2,175.4 101.3,175.7 101.5,175.9 101.6,176.1 101.7,176.3 101.9,176.5 102.0,176.7 102.1,176.8 102.3,177.0 102.4,177.1 102.5,177.3 102.7,177.4 102.8,177.5 102.9,177.6 103.0,177.7 103.2,177.7 103.3,177.7 103.4,177.7 103.6,177.6 103.7,177.4 103.8,177.3 104.0,177.1 104.1,177.0 104.2,177.0 104.4,177.0 104.5,177.2 104.6,177.6 104.7,178.0 104.9,178.5 105.0,178.9 105.1,179.4 105.3,179.8 105.4,180.2 105.5,180.5 105.7,180.8 105.8,181.0 105.9,181.2 106.1,181.3 106.2,181.5 106.3,181.5 106.4,181.6 106.6,181.7 106.7,181.7 106.8,181.7 107.0,181.7 107.1,181.7 107.2,181.6 107.4,181.5 107.5,181.3 107.6,181.1 107.8,180.9 107.9,180.7 108.0,180.5 108.1,180.3 108.3,180.3 108.4,180.3 108.5,180.5 108.7,180.8 108.8,181.1 108.9,181.5 109.1,181.8 109.2,182.0 109.3,182.3 109.5,182.5 109.6,182.6 109.7,182.7 109.8,182.8 110.0,182.8 110.1,182.9 110.2,182.8 110.4,182.8 110.5,182.7 110.6,182.6 110.8,182.5 110.9,182.3 111.0,182.1 111.2,181.9 111.3,181.7 111.4,181.5 111.5,181.4 111.7,181.2 111.8,181.1 111.9,181.0 112.1,180.9 112.2,180.9 112.3,180.8 112.5,180.7 112.6,180.6 112.7,180.5 112.9,180.3 113.0,180.1 113.1,179.8 113.3,179.5 113.4,179.2 113.5,178.8 113.6,178.3 113.8,177.8 113.9,177.2 114.0,176.6 114.2,175.9 114.3,175.2 114.4,174.3 114.6,173.4 114.7,172.5 114.8,171.4 115.0,170.2 115.1,169.0 115.2,167.6 115.3,166.1 115.5,164.5 115.6,162.9 115.7,161.1 115.9,159.3 116.0,157.5 116.1,155.8 116.3,154.2 116.4,153.3 116.5,152.9 116.7,152.9 116.8,154.7 116.9,156.2 117.0,158.0 117.2,160.0 117.3,162.0 117.4,164.2 117.6,166.4 117.7,168.4 117.8,170.4 118.0,172.2 118.1,173.8 118.2,175.2 118.4,176.4 118.5,177.3 118.6,178.1 118.7,178.8 118.9,179.3 119.0,179.7 119.1,180.0 119.3,180.2 119.4,180.3 119.5,180.5 119.7,180.6 119.8,180.6 119.9,180.7 120.1,180.7 120.2,180.7 120.3,180.8 120.4,180.8 120.6,180.8 120.7,180.8 120.8,180.8 121.0,180.9 121.1,180.9 121.2,180.9 121.4,180.9 121.5,181.0 121.6,181.0 121.8,181.0 121.9,181.0 122.0,180.9 122.1,180.9 122.3,180.8 122.4,180.7 122.5,180.6 122.7,180.5 122.8,180.2 122.9,180.0 123.1,179.6 123.2,179.1 123.3,178.5 123.5,177.8 123.6,177.0 123.7,176.0 123.8,174.9 124.0,173.7 124.1,172.5 124.2,171.2 124.4,169.9 124.5,168.8 124.6,167.8 124.8,167.0 124.9,166.4 125.0,166.1 125.2,166.1 125.3,166.3 125.4,166.9 125.5,167.6 125.7,168.6 125.8,169.8 125.9,171.0 126.1,172.4 126.2,173.7 126.3,175.0 126.5,176.2 126.6,177.3 126.7,178.3 126.9,179.2 127.0,179.9 127.1,180.6 127.3,181.1 127.4,181.6 127.5,181.9 127.6,182.2 127.8,182.5 127.9,182.7 128.0,182.9 128.2,183.1 128.3,183.2 128.4,183.3 128.6,183.4 128.7,183.5 128.8,183.5 129.0,183.5 129.1,183.6 129.2,183.5 129.3,183.5 129.5,183.4 129.6,183.3 129.7,183.1 129.9,182.9 130.0,182.6 130.1,182.3 130.3,181.8 130.4,181.2 130.5,180.6 130.7,179.8 130.8,178.9 130.9,177.9 131.0,176.9 131.2,175.8 131.3,174.8 131.4,173.8 131.6,173.0 131.7,172.3 131.8,171.8 132.0,171.5 132.1,171.5 132.2,171.8 132.4,172.3 132.5,173.0 132.6,173.8 132.7,174.9 132.9,175.9 133.0,177.1 133.1,178.2 133.3,179.3 133.4,180.3 133.5,181.2 133.7,182.1 133.8,182.8 133.9,183.5 134.1,184.0 134.2,184.5 134.3,184.9 134.4,185.2 134.6,185.5 134.7,185.7 134.8,185.9 135.0,186.0 135.1,186.1 135.2,186.2 135.4,186.2 135.5,186.2 135.6,186.1 135.8,186.0 135.9,185.8 136.0,185.5 136.1,185.1 136.3,184.7 136.4,184.2 136.5,183.5 136.7,182.8 136.8,182.0 136.9,181.2 137.1,180.3 137.2,179.4 137.3,178.6 137.5,177.8 137.6,177.2 137.7,176.7 137.8,176.5 138.0,176.4 138.1,176.6 138.2,176.9 138.4,177.5 138.5,178.3 138.6,179.1 138.8,180.1 138.9,181.1 139.0,182.1 139.2,183.1 139.3,184.0 139.4,184.9 139.6,185.7 139.7,186.4 139.8,187.0 139.9,187.6 140.1,188.0 140.2,188.4 140.3,188.7 140.5,188.9 140.6,189.1 140.7,189.2 140.9,189.2 141.0,189.2 141.1,189.1 141.3,188.9 141.4,188.6 141.5,188.2 141.6,187.7 141.8,187.2 141.9,186.5 142.0,185.7 142.2,184.9 142.3,184.1 142.4,183.2 142.6,182.4 142.7,181.7 142.8,181.0 143.0,180.6 143.1,180.3 143.2,180.2 143.3,180.3 143.5,180.7 143.6,181.2 143.7,181.9 143.9,182.7 144.0,183.7 144.1,184.6 144.3,185.6 144.4,186.6 144.5,187.5 144.7,188.4 144.8,189.2 144.9,189.8 145.0,190.4 145.2,190.9 145.3,191.3 145.4,191.6 145.6,191.8 145.7,191.9 145.8,192.0 146.0,191.9 146.1,191.7 146.2,191.5 146.4,191.2 146.5,190.7 146.6,190.2 146.7,189.6 146.9,189.0 147.0,188.3 147.1,187.6 147.3,186.9 147.4,186.2 147.5,185.6 147.7,185.1 147.8,184.8 147.9,184.6 148.1,184.6 148.2,184.8 148.3,185.2 148.4,185.7 148.6,186.4 148.7,187.1 148.8,187.9 149.0,188.7 149.1,189.5 149.2,190.3 149.4,191.1 149.5,191.7 149.6,192.3 149.8,192.8 149.9,193.2 150.0,193.5 150.1,193.7 150.3,193.8 150.4,193.8 150.5,193.8 150.7,193.6 150.8,193.4 150.9,193.0 151.1,192.6 151.2,192.2 151.3,191.6 151.5,191.1 151.6,190.5 151.7,189.9 151.8,189.4 152.0,188.9 152.1,188.5 152.2,188.3 152.4,188.2 152.5,188.2 152.6,188.3 152.8,188.7 152.9,189.1 153.0,189.6 153.2,190.2 153.3,190.8 153.4,191.5 153.6,192.1 153.7,192.7 153.8,193.3 153.9,193.8 154.1,194.2 154.2,194.5 154.3,194.8 154.5,194.9 154.6,195.0 154.7,195.0 154.9,194.9 155.0,194.7 155.1,194.5 155.3,194.2 155.4,193.8 155.5,193.4 155.6,192.9 155.8,192.4 155.9,191.9 156.0,191.5 156.2,191.1 156.3,190.9 156.4,190.7 156.6,190.6 156.7,190.6 156.8,190.8 157.0,191.1 157.1,191.5 157.2,191.9 157.3,192.4 157.5,193.0 157.6,193.5 157.7,194.0 157.9,194.5 158.0,194.9 158.1,195.2 158.3,195.5 158.4,195.7 158.5,195.8 158.7,195.9 158.8,195.8 158.9,195.7 159.0,195.6 159.2,195.3 159.3,195.0 159.4,194.7 159.6,194.3 159.7,193.9 159.8,193.5 160.0,193.1 160.1,192.8 160.2,192.6 160.4,192.4 160.5,192.4 160.6,192.4 160.7,192.6 160.9,192.8 161.0,193.2 161.1,193.5 161.3,194.0 161.4,194.4 161.5,194.8 161.7,195.2 161.8,195.6 161.9,195.9 162.1,196.1 162.2,196.3 162.3,196.4 162.4,196.5 162.6,196.4 162.7,196.3 162.8,196.2 163.0,195.9 163.1,195.7 163.2,195.3 163.4,195.0 163.5,194.6 163.6,194.3 163.8,194.0 163.9,193.8 164.0,193.6 164.1,193.5 164.3,193.4 164.4,193.5 164.5,193.7 164.7,193.9 164.8,194.2 164.9,194.5 165.1,194.8 165.2,195.2 165.3,195.5 165.5,195.8 165.6,196.1 165.7,196.3 165.8,196.4 166.0,196.5 166.1,196.5 166.2,196.4 166.4,196.3 166.5,196.1 166.6,195.9 166.8,195.6 166.9,195.3 167.0,194.9 167.2,194.6 167.3,194.3 167.4,194.1 167.6,193.9 167.7,193.7 167.8,193.7 167.9,193.7 168.1,193.9 168.2,194.1 168.3,194.3 168.5,194.6 168.6,195.0 168.7,195.3 168.9,195.6 169.0,195.9 169.1,196.1 169.3,196.3 169.4,196.4 169.5,196.4 169.6,196.4 169.8,196.3 169.9,196.1 170.0,195.9 170.2,195.6 170.3,195.3 170.4,194.9 170.6,194.6 170.7,194.2 170.8,194.0 171.0,193.7 171.1,193.6 171.2,193.5 171.3,193.5 171.5,193.6 171.6,193.7 171.7,193.9 171.9,194.1 172.0,194.4 172.1,194.6 172.3,194.9 172.4,195.1 172.5,195.2 172.7,195.3 172.8,195.2 172.9,195.1 173.0,194.9 173.2,194.7 173.3,194.3 173.4,194.0 173.6,193.5 173.7,193.1 173.8,192.6 174.0,192.2 174.1,191.8 174.2,191.5 174.4,191.2 174.5,191.0 174.6,190.9 174.7,190.9 174.9,191.0 175.0,191.1 175.1,191.2 175.3,191.3 175.4,191.4 175.5,191.5 175.7,191.6 175.8,191.5 175.9,191.4 176.1,191.2 176.2,190.9 176.3,190.6 176.4,190.1 176.6,189.6 176.7,189.1 176.8,188.5 177.0,187.9 177.1,187.4 177.2,186.8 177.4,186.3 177.5,185.9 177.6,185.5 177.8,185.2 177.9,184.9 178.0,184.7 178.1,184.4 178.3,184.3 178.4,184.0 178.5,183.8 178.7,183.5 178.8,183.2 178.9,182.7 179.1,182.2 179.2,181.6 179.3,181.0 179.5,180.2 179.6,179.4 179.7,178.5 179.8,177.6 180.0,176.7 180.1,175.8 180.2,174.8 180.4,173.9 180.5,172.9 180.6,172.0 180.8,171.1 180.9,170.3 181.0,169.4 181.2,168.5 181.3,167.6 181.4,166.7 181.6,165.7 181.7,164.7 181.8,163.6 181.9,162.4 182.1,161.3 182.2,160.0 182.3,158.7 182.5,157.4 182.6,156.1 182.7,154.8 182.9,153.5 183.0,152.3 183.1,151.1 183.3,149.9 183.4,148.9 183.5,148.0 183.6,147.2 183.8,146.6 183.9,146.1 184.0,145.7 184.2,145.6 184.3,146.5 184.4,147.1 184.6,147.9 184.7,148.7 184.8,149.6 185.0,150.7 185.1,151.8 185.2,152.9 185.3,154.2 185.5,155.5 185.6,156.8 185.7,158.2 185.9,159.6 186.0,161.0 186.1,162.5 186.3,164.0 186.4,165.5 186.5,167.0 186.7,168.6 186.8,170.2 186.9,171.7 187.0,173.3 187.2,174.8 187.3,176.3 187.4,177.8 187.6,179.1 187.7,180.3 187.8,181.4 188.0,182.3 188.1,183.1 188.2,183.8 188.4,184.3 188.5,184.7 188.6,185.0 188.7,185.2 188.9,185.4 189.0,185.5 189.1,185.7 189.3,185.9 189.4,186.2 189.5,186.5 189.7,186.8 189.8,187.2 189.9,187.5 190.1,187.9 190.2,188.3 190.3,188.6 190.4,188.8 190.6,189.0 190.7,189.0 190.8,189.0 191.0,188.9 191.1,188.7 191.2,188.4 191.4,188.2 191.5,187.9 191.6,187.7 191.8,187.5 191.9,187.3 192.0,187.3 192.1,187.3 192.3,187.4 192.4,187.5 192.5,187.7 192.7,188.0 192.8,188.2 192.9,188.5 193.1,188.7 193.2,188.8 193.3,188.8 193.5,188.8 193.6,188.7 193.7,188.5 193.9,188.2 194.0,187.9 194.1,187.6 194.2,187.3 194.4,187.1 194.5,186.8 194.6,186.7 194.8,186.7 194.9,186.7 195.0,186.8 195.2,186.9 195.3,187.1 195.4,187.3 195.6,187.4 195.7,187.5 195.8,187.5 195.9,187.4 196.1,187.3 196.2,187.0 196.3,186.6 196.5,186.2 196.6,185.7 196.7,185.1 196.9,184.5 197.0,183.9 197.1,183.4 197.3,182.8 197.4,182.3 197.5,181.8 197.6,181.2 197.8,180.7 197.9,180.0 198.0,179.3 198.2,178.5 198.3,177.6 198.4,176.6 198.6,175.4 198.7,174.1 198.8,172.8 199.0,171.4 199.1,169.9 199.2,168.4 199.3,166.9 199.5,165.5 199.6,164.1 199.7,162.8 199.9,161.6 200.0,160.5 200.1,159.5 200.3,158.6 200.4,157.8 200.5,157.1 200.7,156.5 200.8,156.1 200.9,155.7 201.0,155.5 201.2,155.3 201.3,155.3 201.4,155.4 201.6,155.6 201.7,155.9 201.8,156.3 202.0,156.9 202.1,157.6 202.2,158.4 202.4,159.4 202.5,160.5 202.6,161.6 202.7,162.9 202.9,164.3 203.0,165.7 203.1,167.1 203.3,168.6 203.4,170.0 203.5,171.3 203.7,172.6 203.8,173.8 203.9,174.9 204.1,175.9 204.2,176.8 204.3,177.6 204.4,178.3 204.6,179.0 204.7,179.7 204.8,180.4 205.0,181.1 205.1,181.8 205.2,182.5 205.4,183.1 205.5,183.8 205.6,184.3 205.8,184.8 205.9,185.2 206.0,185.4 206.1,185.6 206.3,185.6 206.4,185.6 206.5,185.5 206.7,185.4 206.8,185.3 206.9,185.2 207.1,185.1 207.2,185.1 207.3,185.2 207.5,185.4 207.6,185.6 207.7,185.9 207.9,186.1 208.0,186.4 208.1,186.5 208.2,186.7 208.4,186.7 208.5,186.6 208.6,186.5 208.8,186.3 208.9,186.0 209.0,185.7 209.2,185.5 209.3,185.2 209.4,185.1 209.6,185.0 209.7,184.9 209.8,185.0 209.9,185.1 210.1,185.2 210.2,185.3 210.3,185.3 210.5,185.3 210.6,185.2 210.7,185.0 210.9,184.7 211.0,184.2 211.1,183.7 211.3,183.1 211.4,182.5 211.5,181.8 211.6,181.2 211.8,180.5 211.9,179.9 212.0,179.2 212.2,178.5 212.3,177.8 212.4,177.1 212.6,176.2 212.7,175.3 212.8,174.3 213.0,173.1 213.1,171.9 213.2,170.6 213.3,169.3 213.5,168.0 213.6,166.7 213.7,165.4 213.9,164.2 214.0,163.1 214.1,162.1 214.3,161.3 214.4,160.6 214.5,160.0 214.7,159.6 214.8,159.3 214.9,159.1 215.0,159.1 215.2,159.1 215.3,159.3 215.4,159.5 215.6,159.9 215.7,160.3 215.8,160.9 216.0,161.6 216.1,162.4 216.2,163.3 216.4,164.3 216.5,165.3 216.6,166.5 216.7,167.8 216.9,169.1 217.0,170.4 217.1,171.7 217.3,172.9 217.4,174.1 217.5,175.1 217.7,176.1 217.8,176.9 217.9,177.6 218.1,178.3 218.2,178.8 218.3,179.3 218.4,179.8 218.6,180.3 218.7,180.8 218.8,181.4 219.0,181.9 219.1,182.4 219.2,182.9 219.4,183.3 219.5,183.7 219.6,184.0 219.8,184.1 219.9,184.2 220.0,184.1 220.1,184.0 220.3,183.9 220.4,183.8 220.5,183.7 220.7,183.6 220.8,183.6 220.9,183.7 221.1,183.8 221.2,184.0 221.3,184.2 221.5,184.4 221.6,184.5 221.7,184.5 221.9,184.5 222.0,184.3 222.1,184.1 222.2,183.8 222.4,183.5 222.5,183.1 222.6,182.8 222.8,182.5 222.9,182.2 223.0,182.0 223.2,181.8 223.3,181.6 223.4,181.4 223.6,181.2 223.7,180.8 223.8,180.4 223.9,179.8 224.1,179.1 224.2,178.3 224.3,177.4 224.5,176.4 224.6,175.4 224.7,174.3 224.9,173.2 225.0,172.2 225.1,171.2 225.3,170.2 225.4,169.2 225.5,168.3 225.6,167.4 225.8,166.5 225.9,165.6 226.0,164.8 226.2,164.0 226.3,163.3 226.4,162.6 226.6,162.1 226.7,161.7 226.8,161.4 227.0,161.3 227.1,161.3 227.2,161.5 227.3,161.9 227.5,162.4 227.6,163.1 227.7,163.8 227.9,164.7 228.0,165.6 228.1,166.5 228.3,167.4 228.4,168.4 228.5,169.3 228.7,170.2 228.8,171.0 228.9,171.9 229.0,172.8 229.2,173.7 229.3,174.6 229.4,175.5 229.6,176.4 229.7,177.3 229.8,178.1 230.0,178.8 230.1,179.4 230.2,179.9 230.4,180.3 230.5,180.6 230.6,180.7 230.7,180.8 230.9,180.9 231.0,181.0 231.1,181.2 231.3,181.3 231.4,181.6 231.5,181.8 231.7,182.1 231.8,182.3 231.9,182.6 232.1,182.7 232.2,182.8 232.3,182.7 232.4,182.6 232.6,182.4 232.7,182.2 232.8,181.9 233.0,181.7 233.1,181.5 233.2,181.4 233.4,181.3 233.5,181.2 233.6,181.2 233.8,181.1 233.9,181.0 234.0,180.7 234.1,180.4 234.3,180.0 234.4,179.4 234.5,178.8 234.7,178.0 234.8,177.3 234.9,176.5 235.1,175.6 235.2,174.8 235.3,174.0 235.5,173.3 235.6,172.5 235.7,171.6 235.9,170.8 236.0,169.9 236.1,168.9 236.2,168.0 236.4,167.0 236.5,166.1 236.6,165.2 236.8,164.5 236.9,163.8 237.0,163.3 237.2,162.9 237.3,162.7 237.4,162.6 237.6,162.7 237.7,162.9 237.8,163.2 237.9,163.7 238.1,164.2 238.2,164.7 238.3,165.4 238.5,166.0 238.6,166.8 238.7,167.5 238.9,168.3 239.0,169.2 239.1,170.2 239.3,171.1 239.4,172.1 239.5,173.1 239.6,174.1 239.8,175.1 239.9,175.9 240.0,176.7 240.2,177.3 240.3,177.8 240.4,178.3 240.6,178.6 240.7,178.9 240.8,179.2 241.0,179.5 241.1,179.8 241.2,180.2 241.3,180.5 241.5,180.9 241.6,181.2 241.7,181.5 241.9,181.7 242.0,181.7 242.1,181.7 242.3,181.6 242.4,181.5 242.5,181.3 242.7,181.1 242.8,180.9 242.9,180.8 243.0,180.8 243.2,180.7 243.3,180.7 243.4,180.6 243.6,180.5 243.7,180.3 243.8,180.0 244.0,179.5 244.1,179.0 244.2,178.3 244.4,177.6 244.5,176.9 244.6,176.2 244.7,175.4 244.9,174.7 245.0,174.0 245.1,173.2 245.3,172.5 245.4,171.7 245.5,170.9 245.7,170.0 245.8,169.0 245.9,168.1 246.1,167.2 246.2,166.3 246.3,165.6 246.4,164.9 246.6,164.4 246.7,164.0 246.8,163.8 247.0,163.7 247.1,163.7 247.2,163.9 247.4,164.2 247.5,164.5 247.6,165.0 247.8,165.5 247.9,166.0 248.0,166.6 248.2,167.3 248.3,168.1 248.4,168.9 248.5,169.8 248.7,170.7 248.8,171.7 248.9,172.7 249.1,173.6 249.2,174.6 249.3,175.4 249.5,176.1 249.6,176.7 249.7,177.2 249.9,177.7 250.0,178.0 250.1,178.4 250.2,178.8 250.4,179.1 250.5,179.5 250.6,179.9 250.8,180.3 250.9,180.7 251.0,180.9 251.2,181.1 251.3,181.2 251.4,181.1 251.6,181.0 251.7,180.9 251.8,180.7 251.9,180.5 252.1,180.3 252.2,180.2 252.3,180.1 252.5,180.0 252.6,179.9 252.7,179.7 252.9,179.5 253.0,179.1 253.1,178.6 253.3,178.0 253.4,177.3 253.5,176.5 253.6,175.7 253.8,174.9 253.9,174.2 254.0,173.4 254.2,172.7 254.3,171.9 254.4,171.2 254.6,170.4 254.7,169.6 254.8,168.7 255.0,167.9 255.1,167.1 255.2,166.4 255.3,165.7 255.5,165.2 255.6,164.8 255.7,164.6 255.9,164.5 256.0,164.6 256.1,164.8 256.3,165.1 256.4,165.5 256.5,166.0 256.7,166.5 256.8,167.1 256.9,167.7 257.0,168.3 257.2,169.0 257.3,169.8 257.4,170.6 257.6,171.5 257.7,172.5 257.8,173.4 258.0,174.3 258.1,175.1 258.2,175.9 258.4,176.6 258.5,177.1 258.6,177.6 258.7,178.0 258.9,178.3 259.0,178.6 259.1,178.9 259.3,179.2 259.4,179.6 259.5,179.9 259.7,180.2 259.8,180.5 259.9,180.7 260.1,180.7 260.2,180.7 260.3,180.5 260.4,180.3 260.6,180.0 260.7,179.8 260.8,179.5 261.0,179.3 261.1,179.1 261.2,178.9 261.4,178.6 261.5,178.3 261.6,177.9 261.8,177.4 261.9,176.7 262.0,176.0 262.2,175.2 262.3,174.3 262.4,173.5 262.5,172.6 262.7,171.8 262.8,171.1 262.9,170.4 263.1,169.7 263.2,169.0 263.3,168.3 263.5,167.7 263.6,167.1 263.7,166.6 263.9,166.1 264.0,165.7 264.1,165.5 264.2,165.4 264.4,165.5 264.5,165.7 264.6,166.1 264.8,166.5 264.9,167.1 265.0,167.7 265.2,168.4 265.3,169.1 265.4,169.7 265.6,170.4 265.7,171.1 265.8,171.8 265.9,172.6 266.1,173.4 266.2,174.2 266.3,175.0 266.5,175.8 266.6,176.6 266.7,177.2 266.9,177.8 267.0,178.2 267.1,178.5 267.3,178.8 267.4,179.0 267.5,179.1 267.6,179.3 267.8,179.5 267.9,179.8 268.0,180.0 268.2,180.1 268.3,180.2 268.4,180.2 268.6,180.1 268.7,179.9 268.8,179.6 269.0,179.2 269.1,178.8 269.2,178.3 269.3,177.9 269.5,177.5 269.6,177.1 269.7,176.6 269.9,176.1 270.0,175.5 270.1,174.8 270.3,174.1 270.4,173.2 270.5,172.3 270.7,171.4 270.8,170.6 270.9,169.8 271.0,169.1 271.2,168.4 271.3,167.9 271.4,167.5 271.6,167.1 271.7,166.8 271.8,166.5 272.0,166.3 272.1,166.2 272.2,166.2 272.4,166.3 272.5,166.6 272.6,167.0 272.7,167.5 272.9,168.1 273.0,168.9 273.1,169.6 273.3,170.4 273.4,171.2 273.5,172.0 273.7,172.7 273.8,173.4 273.9,174.0 274.1,174.6 274.2,175.3 274.3,175.9 274.4,176.6 274.6,177.2 274.7,177.8 274.8,178.4 275.0,178.8 275.1,179.1 275.2,179.3 275.4,179.4 275.5,179.4 275.6,179.4 275.8,179.4 275.9,179.4 276.0,179.4 276.2,179.4 276.3,179.4 276.4,179.3 276.5,179.1 276.7,178.7 276.8,178.3 276.9,177.8 277.1,177.1 277.2,176.5 277.3,175.8 277.5,175.2 277.6,174.5 277.7,173.9 277.9,173.2 278.0,172.6 278.1,171.9 278.2,171.1 278.4,170.3 278.5,169.6 278.6,168.8 278.8,168.2 278.9,167.6 279.0,167.2 279.2,166.9 279.3,166.7 279.4,166.7 279.6,166.7 279.7,166.9 279.8,167.1 279.9,167.4 280.1,167.8 280.2,168.2 280.3,168.7 280.5,169.3 280.6,169.9 280.7,170.7 280.9,171.5 281.0,172.3 281.1,173.2 281.3,174.0 281.4,174.7 281.5,175.4 281.6,175.9 281.8,176.4 281.9,176.9 282.0,177.3 282.2,177.7 282.3,178.1 282.4,178.5 282.6,178.8 282.7,179.1 282.8,179.4 283.0,179.5 283.1,179.5 283.2,179.4 283.3,179.1 283.5,178.9 283.6,178.6 283.7,178.3 283.9,178.0 284.0,177.7 284.1,177.3 284.3,176.9 284.4,176.4 284.5,175.8 284.7,175.2 284.8,174.4 284.9,173.6 285.0,172.7 285.2,172.0 285.3,171.2 285.4,170.5 285.6,169.9 285.7,169.3 285.8,168.8 286.0,168.4 286.1,167.9 286.2,167.6 286.4,167.3 286.5,167.1 286.6,167.0 286.7,167.0 286.9,167.2 287.0,167.5 287.1,168.0 287.3,168.5 287.4,169.1 287.5,169.8 287.7,170.5 287.8,171.1 287.9,171.8 288.1,172.4 288.2,173.1 288.3,173.7 288.4,174.4 288.6,175.1 288.7,175.8 288.8,176.5 289.0,177.1 289.1,177.6 289.2,178.0 289.4,178.2 289.5,178.4 289.6,178.5 289.8,178.6 289.9,178.7 290.0,178.7 290.2,178.8 290.3,178.8 290.4,178.7 290.5,178.5 290.7,178.3 290.8,177.9 290.9,177.4 291.1,176.8 291.2,176.2 291.3,175.5 291.5,174.9 291.6,174.3 291.7,173.7 291.9,173.1 292.0,172.4 292.1,171.7 292.2,171.0 292.4,170.3 292.5,169.6 292.6,168.9 292.8,168.4 292.9,168.0 293.0,167.7 293.2,167.5 293.3,167.4 293.4,167.5 293.6,167.6 293.7,167.8 293.8,168.1 293.9,168.4 294.1,168.8 294.2,169.3 294.3,169.8 294.5,170.5 294.6,171.2 294.7,172.0 294.9,172.8 295.0,173.5 295.1,174.3 295.3,174.9 295.4,175.5 295.5,176.0 295.6,176.4 295.8,176.8 295.9,177.2 296.0,177.6 296.2,177.9 296.3,178.3 296.4,178.5 296.6,178.6 296.7,178.7 296.8,178.6 297.0,178.4 297.1,178.1 297.2,177.7 297.3,177.4 297.5,177.0 297.6,176.7 297.7,176.3 297.9,175.8 298.0,175.3 298.1,174.6 298.3,173.9 298.4,173.2 298.5,172.4 298.7,171.6 298.8,170.9 298.9,170.3 299.0,169.7 299.2,169.2 299.3,168.8 299.4,168.5 299.6,168.2 299.7,167.9 299.8,167.8 300.0,167.7 300.1,167.7 300.2,167.9 300.4,168.2 300.5,168.6 300.6,169.1 300.7,169.7 300.9,170.3 301.0,171.0 301.1,171.7 301.3,172.3 301.4,172.9 301.5,173.5 301.7,174.1 301.8,174.7 301.9,175.3 302.1,175.9 302.2,176.5 302.3,177.0 302.5,177.4 302.6,177.7 302.7,177.9 302.8,178.0 303.0,178.0 303.1,177.9 303.2,177.9 303.4,177.8 303.5,177.7 303.6,177.5 303.8,177.3 303.9,176.9 304.0,176.5 304.2,175.9 304.3,175.3 304.4,174.6 304.5,173.9 304.7,173.2 304.8,172.6 304.9,172.0 305.1,171.4 305.2,170.8 305.3,170.2 305.5,169.7 305.6,169.2 305.7,168.7 305.9,168.3 306.0,168.0 306.1,167.9 306.2,167.9 306.4,168.0 306.5,168.2 306.6,168.6 306.8,168.9 306.9,169.4 307.0,169.8 307.2,170.3 307.3,170.9 307.4,171.4 307.6,172.1 307.7,172.8 307.8,173.5 307.9,174.2 308.1,174.9 308.2,175.5 308.3,176.0 308.5,176.4 308.6,176.7 308.7,177.0 308.9,177.2 309.0,177.4 309.1,177.6 309.3,177.7 309.4,177.8 309.5,177.7 309.6,177.6 309.8,177.3 309.9,177.0 310.0,176.5 310.2,176.0 310.3,175.5 310.4,174.9 310.6,174.4 310.7,173.9 310.8,173.3 311.0,172.7 311.1,172.1 311.2,171.4 311.3,170.7 311.5,170.1 311.6,169.5 311.7,169.0 311.9,168.7 312.0,168.4 312.1,168.3 312.3,168.3 312.4,168.3 312.5,168.4 312.7,168.6 312.8,168.8 312.9,169.1 313.0,169.6 313.2,170.1 313.3,170.7 313.4,171.3 313.6,172.0 313.7,172.7 313.8,173.4 314.0,174.0 314.1,174.6 314.2,175.0 314.4,175.5 314.5,175.9 314.6,176.3 314.7,176.7 314.9,177.1 315.0,177.4 315.1,177.6 315.3,177.6 315.4,177.6 315.5,177.4 315.7,177.1 315.8,176.8 315.9,176.5 316.1,176.1 316.2,175.7 316.3,175.3 316.5,174.8 316.6,174.3 316.7,173.6 316.8,173.0 317.0,172.2 317.1,171.5 317.2,170.9 317.4,170.3 317.5,169.8 317.6,169.4 317.8,169.1 317.9,168.9 318.0,168.7 318.2,168.5 318.3,168.5 318.4,168.5 318.5,168.6 318.7,168.9 318.8,169.2 318.9,169.7 319.1,170.3 319.2,170.9 319.3,171.5 319.5,172.1 319.6,172.7 319.7,173.3 319.9,173.8 320.0,174.4 320.1,174.9 320.2,175.5 320.4,176.0 320.5,176.5 320.6,176.8 320.8,177.1 320.9,177.3 321.0,177.3 321.2,177.2 321.3,177.1 321.4,177.0 321.6,176.8 321.7,176.5 321.8,176.3 321.9,175.9 322.1,175.5 322.2,174.9 322.3,174.3 322.5,173.6 322.6,172.9 322.7,172.3 322.9,171.7 323.0,171.1 323.1,170.6 323.3,170.1 323.4,169.7 323.5,169.4 323.6,169.0 323.8,168.8 323.9,168.6 324.0,168.6 324.2,168.6 324.3,168.9 324.4,169.2 324.6,169.6 324.7,170.1 324.8,170.6 325.0,171.1 325.1,171.7 325.2,172.2 325.3,172.8 325.5,173.4 325.6,174.0 325.7,174.6 325.9,175.2 326.0,175.8 326.1,176.2 326.3,176.6 326.4,176.8 326.5,176.9 326.7,177.0 326.8,177.0 326.9,177.0 327.0,176.9 327.2,176.8 327.3,176.6 327.4,176.3 327.6,175.9 327.7,175.4 327.8,174.8 328.0,174.1 328.1,173.5 328.2,172.9 328.4,172.3 328.5,171.8 328.6,171.3 328.7,170.8 328.9,170.3 329.0,169.8 329.1,169.4 329.3,169.1 329.4,168.9 329.5,168.8 329.7,168.8 329.8,169.0 329.9,169.2 330.1,169.6 330.2,170.0 330.3,170.4 330.5,170.8 330.6,171.3 330.7,171.9 330.8,172.5 331.0,173.1 331.1,173.8 331.2,174.4 331.4,175.0 331.5,175.5 331.6,175.9 331.8,176.2 331.9,176.5 332.0,176.7 332.2,176.8 332.3,176.9 332.4,176.9 332.5,176.9 332.7,176.8 332.8,176.5 332.9,176.2 333.1,175.7 333.2,175.2 333.3,174.6 333.5,174.0 333.6,173.5 333.7,172.9 333.9,172.4 334.0,171.8 334.1,171.3 334.2,170.7 334.4,170.2 334.5,169.8 334.6,169.4 334.8,169.2 334.9,169.0 335.0,169.0 335.2,169.1 335.3,169.3 335.4,169.5 335.6,169.8 335.7,170.2 335.8,170.6 335.9,171.1 336.1,171.6 336.2,172.2 336.3,172.9 336.5,173.5 336.6,174.2 336.7,174.7 336.9,175.2 337.0,175.6 337.1,176.0 337.3,176.2 337.4,176.5 337.5,176.7 337.6,176.8 337.8,176.9 337.9,176.9 338.0,176.7 338.2,176.4 338.3,176.0 338.4,175.6 338.6,175.1 338.7,174.5 338.8,174.0 339.0,173.5 339.1,173.0 339.2,172.4 339.3,171.8 339.5,171.3 339.6,170.7 339.7,170.2 339.9,169.8 340.0,169.5 340.1,169.3 340.3,169.2 340.4,169.3 340.5,169.4 340.7,169.5 340.8,169.8 340.9,170.1 341.0,170.4 341.2,170.9 341.3,171.4 341.4,172.0 341.6,172.6 341.7,173.3 341.8,173.9 342.0,174.4 342.1,174.9 342.2,175.3 342.4,175.7 342.5,176.0 342.6,176.3 342.7,176.5 342.9,176.7 343.0,176.8 343.1,176.7 343.3,176.6 343.4,176.3 343.5,175.9 343.7,175.5 343.8,175.0 343.9,174.5 344.1,174.0 344.2,173.5 344.3,173.0 344.5,172.4 344.6,171.8 344.7,171.2 344.8,170.7 345.0,170.2 345.1,169.9 345.2,169.6 345.4,169.5 345.5,169.4 345.6,169.5 345.8,169.6 345.9,169.7 346.0,170.0 346.2,170.3 346.3,170.7 346.4,171.1 346.5,171.7 346.7,172.3 346.8,172.9 346.9,173.5 347.1,174.1 347.2,174.6 347.3,175.0 347.5,175.4 347.6,175.8 347.7,176.1 347.9,176.3 348.0,176.5 348.1,176.6 348.2,176.6 348.4,176.5 348.5,176.2 348.6,175.8 348.8,175.4 348.9,175.0 349.0,174.5 349.2,174.1 349.3,173.6 349.4,173.0 349.6,172.4 349.7,171.9 349.8,171.3 349.9,170.8 350.1,170.3 350.2,170.0 350.3,169.8 350.5,169.6 350.6,169.6 350.7,169.6 350.9,169.7 351.0,169.9 351.1,170.1 351.3,170.4 351.4,170.8 351.5,171.3 351.6,171.9 351.8,172.5 351.9,173.1 352.0,173.7 352.2,174.2 352.3,174.6 352.4,175.0 352.6,175.4 352.7,175.8 352.8,176.1 353.0,176.3 353.1,176.4 353.2,176.5 353.3,176.4 353.5,176.2 353.6,175.8 353.7,175.5 353.9,175.1 354.0,174.6 354.1,174.2 354.3,173.7 354.4,173.2 354.5,172.6 354.7,172.0 354.8,171.5 354.9,170.9 355.0,170.5 355.2,170.2 355.3,169.9 355.4,169.8 355.6,169.7 355.7,169.7 355.8,169.8 356.0,170.0 356.1,170.2 356.2,170.5 356.4,170.9 356.5,171.4 356.6,171.9 356.8,172.5 356.9,173.1 357.0,173.7 357.1,174.2 357.3,174.6 357.4,175.0 357.5,175.4 357.7,175.7 357.8,176.0 357.9,176.2 358.1,176.3 358.2,176.3 358.3,176.2 358.5,176.0 358.6,175.6 358.7,175.2 358.8,174.8 359.0,174.4 359.1,173.9 359.2,173.4 359.4,172.9 359.5,172.3 359.6,171.8 359.8,171.2 359.9,170.8 360.0,170.4 360.2,170.1 360.3,169.9 360.4,169.8 360.5,169.8 360.7,169.9 360.8,170.0 360.9,170.2 361.1,170.5 361.2,170.9 361.3,171.3 361.5,171.8 361.6,172.4 361.7,173.0 361.9,173.6 362.0,174.1 362.1,174.5 362.2,174.9 362.4,175.3 362.5,175.6 362.6,175.9 362.8,176.1 362.9,176.3 363.0,176.3 363.2,176.1 363.3,175.9 363.4,175.6 363.6,175.2 363.7,174.7 363.8,174.3 363.9,173.8 364.1,173.3 364.2,172.8 364.3,172.3 364.5,171.7 364.6,171.2 364.7,170.7 364.9,170.4 365.0,170.1 365.1,170.0 365.3,169.9 365.4,169.9 365.5,170.0 365.6,170.2 365.8,170.4 365.9,170.7 366.0,171.1 366.2,171.6 366.3,172.1 366.4,172.7 366.6,173.3 366.7,173.8 366.8,174.4 367.0,174.8 367.1,175.2 367.2,175.5 367.3,175.8 367.5,176.0 367.6,176.2 367.7,176.2 367.9,176.2 368.0,176.0 368.1,175.7 368.3,175.3 368.4,174.9 368.5,174.4 368.7,173.9 368.8,173.4 368.9,172.9 369.0,172.4 369.2,171.9 369.3,171.3 369.4,170.9 369.6,170.5 369.7,170.2 369.8,170.0 370.0,169.9 370.1,170.0 370.2,170.1 370.4,170.3 370.5,170.5 370.6,170.8 370.8,171.2 370.9,171.7 371.0,172.2 371.1,172.8 371.3,173.4 371.4,173.9 371.5,174.5 371.7,174.9 371.8,175.3 371.9,175.6 372.1,175.9 372.2,176.1 372.3,176.2 372.5,176.2 372.6,176.1 372.7,175.9 372.8,175.6 373.0,175.2 373.1,174.7 373.2,174.2 373.4,173.7 373.5,173.2 373.6,172.7 373.8,172.1 373.9,171.6 374.0,171.2 374.2,170.7 374.3,170.4 374.4,170.1 374.5,170.0 374.7,170.0 374.8,170.1 374.9,170.2 375.1,170.5 375.2,170.8 375.3,171.2 375.5,171.6 375.6,172.1 375.7,172.6 375.9,173.2 376.0,173.8 376.1,174.4 376.2,174.9 376.4,175.3 376.5,175.6 376.6,175.9 376.8,176.0 376.9,176.1 377.0,176.2 377.2,176.1 377.3,175.9 377.4,175.6 377.6,175.2 377.7,174.8 377.8,174.2 377.9,173.7 378.1,173.1 378.2,172.6 378.3,172.1 378.5,171.6 378.6,171.2 378.7,170.8 378.9,170.4 379.0,170.2 379.1,170.0 379.3,170.0 379.4,170.1 379.5,170.3 379.6,170.6 379.8,171.0 379.9,171.4 380.0,171.8 380.2,172.3 380.3,172.8 380.4,173.4 380.6,174.0 380.7,174.5 380.8,175.0 381.0,175.5 381.1,175.8 381.2,176.0 381.3,176.1 381.5,176.1 381.6,176.1 381.7,176.0 381.9,175.8 382.0,175.4 382.1,175.0 382.3,174.5 382.4,174.0 382.5,173.4 382.7,172.8 382.8,172.3 382.9,171.8 383.0,171.3 383.2,171.0 383.3,170.6 383.4,170.3 383.6,170.2 383.7,170.1 383.8,170.1 384.0,170.3 384.1,170.6 384.2,170.9 384.4,171.3 384.5,171.8 384.6,172.3 384.8,172.8 384.9,173.4 385.0,173.9 385.1,174.5 385.3,175.0 385.4,175.4 385.5,175.8 385.7,176.0 385.8,176.2 385.9,176.2 386.1,176.1 386.2,175.9 386.3,175.7 386.5,175.4 386.6,175.0 386.7,174.5 386.8,173.9 387.0,173.4 387.1,172.8 387.2,172.2 387.4,171.7 387.5,171.2 387.6,170.9 387.8,170.6 387.9,170.4 388.0,170.2 388.2,170.2 388.3,170.2 388.4,170.4 388.5,170.7 388.7,171.1 388.8,171.5 388.9,172.0 389.1,172.6 389.2,173.1 389.3,173.6 389.5,174.2 389.6,174.7 389.7,175.1 389.9,175.6 390.0,175.9 390.1,176.1 390.2,176.2 390.4,176.2 390.5,176.0 390.6,175.8 390.8,175.5 390.9,175.1 391.0,174.7 391.2,174.2 391.3,173.6 391.4,173.0 391.6,172.4 391.7,171.9 391.8,171.4 391.9,171.0 392.1,170.7 392.2,170.4 392.3,170.3 392.5,170.3 392.6,170.3 392.7,170.4 392.9,170.7 393.0,171.0 393.1,171.4 393.3,171.9 393.4,172.5 393.5,173.1 393.6,173.7 393.8,174.2 393.9,174.7 394.0,175.1 394.2,175.5 394.3,175.8 394.4,176.1 394.6,176.2 394.7,176.2 394.8,176.1 395.0,175.8 395.1,175.5 395.2,175.0 395.3,174.6 395.5,174.0 395.6,173.5 395.7,173.0 395.9,172.4 396.0,171.9 396.1,171.4 396.3,170.9 396.4,170.6 396.5,170.4 396.7,170.3 396.8,170.3 396.9,170.4 397.0,170.6 397.2,170.8 397.3,171.2 397.4,171.6 397.6,172.1 397.7,172.7 397.8,173.3 398.0,173.9 398.1,174.4 398.2,174.9 398.4,175.3 398.5,175.7 398.6,175.9 398.8,176.1 398.9,176.2 399.0,176.2 399.1,176.0 399.3,175.7 399.4,175.3 399.5,174.8 399.7,174.3 399.8,173.7 399.9,173.1 400.1,172.6 400.2,172.1 400.3,171.6 400.5,171.2 400.6,170.8 400.7,170.5 400.8,170.3 401.0,170.2 401.1,170.3 401.2,170.5 401.4,170.8 401.5,171.1 401.6,171.6 401.8,172.0 401.9,172.6 402.0,173.1 402.2,173.7 402.3,174.3 402.4,174.9 402.5,175.3 402.7,175.7 402.8,176.0 402.9,176.1 403.1,176.2 403.2,176.1 403.3,175.9 403.5,175.7 403.6,175.3 403.7,174.9 403.9,174.3 404.0,173.7 404.1,173.1 404.2,172.5 404.4,172.0 404.5,171.5 404.6,171.1 404.8,170.8 404.9,170.5 405.0,170.3 405.2,170.3 405.3,170.3 405.4,170.5 405.6,170.8 405.7,171.2 405.8,171.7 405.9,172.2 406.1,172.7 406.2,173.3 406.3,173.9 406.5,174.4 406.6,174.9 406.7,175.4 406.9,175.8 407.0,176.1" fill="none" stroke="#0000ff" stroke-width="0.9" stroke-linejoin="round"/>
<polyline points="55.4,-39.7 55.4,-39.1 55.5,-38.5 55.5,-37.9 55.6,-37.3 55.6,-36.7 55.6,-36.1 55.7,-35.5 55.7,-34.9 55.8,-34.3 55.8,-33.7 55.8,-33.1 55.9,-32.4 55.9,-31.8 56.0,-31.2 56.0,-30.6 56.0,-30.0 56.1,-29.4 56.1,-28.8 56.2,-28.2 56.2,-27.6 56.2,-27.0 56.3,-26.4 56.3,-25.8 56.4,-25.2 56.4,-24.6 56.4,-24.0 56.5,-23.4 56.5,-22.8 56.6,-22.2 56.6,-21.6 56.6,-21.0 56.7,-20.4 56.7,-19.8 56.8,-19.2 56.8,-18.5 56.8,-17.9 56.9,-17.3 56.9,-16.7 57.0,-16.1 57.0,-15.5 57.0,-14.9 57.1,-14.3 57.1,-13.7 57.2,-13.1 57.2,-12.5 57.2,-11.9 57.3,-11.3 57.3,-10.7 57.4,-10.1 57.4,-9.5 57.4,-8.8 57.5,-8.2 57.5,-7.6 57.6,-7.0 57.6,-6.4 57.6,-5.8 57.7,-5.2 57.7,-4.6 57.8,-4.0 57.8,-3.4 57.8,-2.8 57.9,-2.2 57.9,-1.6 58.0,-0.9 58.0,-0.3 58.0,0.3 58.1,0.9 58.1,1.5 58.2,2.1 58.2,2.7 58.2,3.3 58.3,3.9 58.3,4.5 58.4,5.1 58.4,5.8 58.4,6.4 58.5,7.0 58.5,7.6 58.6,8.2 58.6,8.8 58.6,9.4 58.7,10.1 58.7,10.7 58.8,11.3 58.8,12.0 58.8,12.6 58.9,13.2 58.9,13.9 59.0,14.5 59.0,15.2 59.0,15.8 59.1,16.5 59.1,17.1 59.2,17.8 59.2,18.4 59.2,19.1 59.3,19.7 59.3,20.4 59.3,21.0 59.4,21.7 59.4,22.3 59.5,22.9 59.5,23.6 59.5,24.2 59.6,24.8 59.6,25.5 59.7,26.1 59.7,26.7 59.7,27.3 59.8,27.9 59.8,28.5 59.9,29.1 59.9,29.7 59.9,30.2 60.0,30.8 60.0,31.4 60.1,31.9 60.1,32.5 60.1,33.0 60.2,33.6 60.2,34.1 60.3,34.6 60.3,35.1 60.3,35.6 60.4,36.1 60.4,36.6 60.5,37.0 60.5,37.5 60.5,38.0 60.6,38.4 60.6,38.9 60.7,39.3 60.7,39.8 60.7,40.2 60.8,40.6 60.8,41.1 60.9,41.5 60.9,41.9 60.9,42.3 61.0,42.8 61.0,43.2 61.1,43.6 61.1,44.0 61.1,44.4 61.2,44.8 61.2,45.2 61.3,45.6 61.3,46.0 61.3,46.4 61.4,46.8 61.4,47.2 61.5,47.6 61.5,48.0 61.5,48.4 61.6,48.8 61.6,49.2 61.7,49.5 61.7,49.9 61.7,50.3 61.8,50.7 61.8,51.1 61.9,51.5 61.9,51.9 61.9,52.3 62.0,52.7 62.0,53.2 62.1,53.6 62.1,54.0 62.1,54.4 62.2,54.8 62.2,55.2 62.3,55.7 62.3,56.1 62.3,56.5 62.4,57.0 62.4,57.4 62.5,57.8 62.5,58.2 62.5,58.7 62.6,59.1 62.6,59.5 62.7,60.0 62.7,60.4 62.7,60.8 62.8,61.3 62.8,61.7 62.9,62.1 62.9,62.6 62.9,63.0 63.0,63.4 63.0,63.9 63.1,64.3 63.1,64.7 63.1,65.2 63.2,65.6 63.2,66.0 63.3,66.4 63.3,66.9 63.3,67.3 63.4,67.7 63.4,68.1 63.5,68.5 63.5,69.0 63.5,69.4 63.6,69.8 63.6,70.2 63.7,70.6 63.7,71.0 63.7,71.4 63.8,71.9 63.8,72.3 63.9,72.7 63.9,73.1 63.9,73.5 64.0,73.9 64.0,74.2 64.1,74.6 64.1,75.0 64.1,75.4 64.2,75.7 64.2,76.1 64.3,76.4 64.3,76.8 64.3,77.2 64.4,77.5 64.4,77.9 64.5,78.3 64.5,78.6 64.5,79.0 64.6,79.4 64.6,79.7 64.7,80.1 64.7,80.5 64.7,80.8 64.8,81.2 64.8,81.6 64.9,81.9 64.9,82.3 64.9,82.6 65.0,83.0 65.0,83.4 65.1,83.7 65.1,84.1 65.1,84.5 65.2,84.8 65.2,85.2 65.3,85.5 65.3,85.9 65.3,86.2 65.4,86.6 65.4,87.0 65.5,87.3 65.5,87.7 65.5,88.0 65.6,88.4 65.6,88.7 65.7,89.1 65.7,89.4 65.7,89.7 65.8,90.1 65.8,90.4 65.9,90.8 65.9,91.1 65.9,91.4 66.0,91.8 66.0,92.1 66.1,92.4 66.1,92.8 66.1,93.1 66.2,93.4 66.2,93.8 66.3,94.1 66.3,94.4 66.3,94.7 66.4,95.0 66.4,95.3 66.5,95.7 66.5,96.0 66.5,96.3 66.6,96.6 66.6,96.9 66.7,97.2 66.7,97.5 66.7,97.8 66.8,98.1 66.8,98.3 66.9,98.6 66.9,98.9 66.9,99.2 67.1,100.1 67.2,101.0 67.3,101.8 67.5,102.6 67.6,103.3 67.7,104.1 67.8,104.7 68.0,105.4 68.1,105.9 68.2,106.5 68.4,106.9 68.5,107.4 68.6,107.9 68.8,108.3 68.9,108.8 69.0,109.3 69.2,109.8 69.3,110.4 69.4,111.0 69.5,111.7 69.7,112.4 69.8,113.2 69.9,113.9 70.1,114.7 70.2,115.5 70.3,116.3 70.5,117.1 70.6,117.9 70.7,118.7 70.9,119.5 71.0,120.3 71.1,121.0 71.2,121.8 71.4,122.5 71.5,123.1 71.6,123.7 71.8,124.3 71.9,124.9 72.0,125.4 72.2,126.0 72.3,126.5 72.4,127.1 72.6,127.6 72.7,128.1 72.8,128.6 73.0,129.1 73.1,129.6 73.2,130.1 73.3,130.6 73.5,131.1 73.6,131.6 73.7,132.0 73.9,132.5 74.0,132.9 74.1,133.4 74.3,133.8 74.4,134.3 74.5,134.7 74.7,135.1 74.8,135.5 74.9,135.9 75.0,136.3 75.2,136.7 75.3,137.1 75.4,137.5 75.6,137.9 75.7,138.3 75.8,138.7 76.0,139.1 76.1,139.4 76.2,139.8 76.4,140.1 76.5,140.5 76.6,140.8 76.7,141.2 76.9,141.5 77.0,141.9 77.1,142.2 77.3,142.5 77.4,142.8 77.5,143.1 77.7,143.5 77.8,143.8 77.9,144.1 78.1,144.4 78.2,144.7 78.3,144.9 78.4,145.2 78.6,145.5 78.7,145.8 78.8,146.1 79.0,146.4 79.1,146.6 79.2,146.9 79.4,147.2 79.5,147.5 79.6,147.7 79.8,148.0 79.9,148.2 80.0,148.5 80.1,148.7 80.3,149.0 80.4,149.2 80.5,149.5 80.7,149.7 80.8,149.9 80.9,150.1 81.1,150.3 81.2,150.5 81.3,150.7 81.5,150.8 81.6,150.9 81.7,151.0 81.8,151.0 82.0,150.9 82.1,150.8 82.2,150.4 82.4,150.0 82.5,149.6 82.6,149.2 82.8,149.1 82.9,149.8 83.0,150.9 83.2,152.1 83.3,153.1 83.4,154.0 83.5,154.7 83.7,155.2 83.8,155.6 83.9,156.0 84.1,156.3 84.2,156.5 84.3,156.8 84.5,157.0 84.6,157.2 84.7,157.4 84.9,157.7 85.0,157.9 85.1,158.1 85.3,158.3 85.4,158.5 85.5,158.7 85.6,158.9 85.8,159.1 85.9,159.3 86.0,159.4 86.2,159.6 86.3,159.7 86.4,159.8 86.6,159.8 86.7,159.8 86.8,159.8 87.0,159.8 87.1,160.0 87.2,160.2 87.3,160.6 87.5,160.9 87.6,161.3 87.7,161.6 87.9,161.9 88.0,162.2 88.1,162.4 88.3,162.6 88.4,162.8 88.5,163.0 88.7,163.1 88.8,163.3 88.9,163.5 89.0,163.6 89.2,163.8 89.3,163.9 89.4,164.1 89.6,164.2 89.7,164.3 89.8,164.4 90.0,164.4 90.1,164.4 90.2,164.4 90.4,164.4 90.5,164.5 90.6,164.5 90.7,164.6 90.9,164.7 91.0,164.8 91.1,164.9 91.3,164.9 91.4,164.9 91.5,164.8 91.7,164.7 91.8,164.6 91.9,164.4 92.1,164.1 92.2,163.8 92.3,163.4 92.4,163.0 92.6,162.4 92.7,161.7 92.8,160.8 93.0,159.7 93.1,158.4 93.2,156.9 93.4,155.0 93.5,153.0 93.6,150.7 93.8,148.6 93.9,147.2 94.0,146.5 94.1,147.7 94.3,149.8 94.4,152.4 94.5,155.3 94.7,158.1 94.8,160.7 94.9,162.9 95.1,164.6 95.2,166.0 95.3,166.9 95.5,167.6 95.6,168.0 95.7,168.4 95.8,168.6 96.0,168.8 96.1,168.9 96.2,169.1 96.4,169.2 96.5,169.4 96.6,169.5 96.8,169.6 96.9,169.8 97.0,169.9 97.2,170.0 97.3,170.2 97.4,170.3 97.5,170.4 97.7,170.5 97.8,170.6 97.9,170.7 98.1,170.7 98.2,170.7 98.3,170.7 98.5,170.6 98.6,170.3 98.7,169.9 98.9,169.4 99.0,168.7 99.1,167.8 99.3,166.9 99.4,166.1 99.5,165.4 99.6,165.1 99.8,165.2 99.9,165.6 100.0,166.5 100.2,167.5 100.3,168.7 100.4,169.9 100.6,170.9 100.7,171.9 100.8,172.6 101.0,173.2 101.1,173.7 101.2,174.1 101.3,174.4 101.5,174.6 101.6,174.9 101.7,175.0 101.9,175.2 102.0,175.4 102.1,175.5 102.3,175.7 102.4,175.8 102.5,176.0 102.7,176.1 102.8,176.2 102.9,176.3 103.0,176.4 103.2,176.4 103.3,176.3 103.4,176.2 103.6,176.0 103.7,175.7 103.8,175.3 104.0,175.0 104.1,174.7 104.2,174.5 104.4,174.5 104.5,174.8 104.6,175.2 104.7,175.8 104.9,176.5 105.0,177.1 105.1,177.8 105.3,178.3 105.4,178.8 105.5,179.2 105.7,179.5 105.8,179.8 105.9,180.0 106.1,180.1 106.2,180.2 106.3,180.3 106.4,180.4 106.6,180.5 106.7,180.5 106.8,180.5 107.0,180.5 107.1,180.4 107.2,180.3 107.4,180.2 107.5,179.9 107.6,179.7 107.8,179.3 107.9,179.0 108.0,178.7 108.1,178.4 108.3,178.4 108.4,178.4 108.5,178.7 108.7,179.1 108.8,179.5 108.9,180.0 109.1,180.4 109.2,180.7 109.3,181.0 109.5,181.2 109.6,181.4 109.7,181.5 109.8,181.6 110.0,181.7 110.1,181.7 110.2,181.6 110.4,181.5 110.5,181.4 110.6,181.3 110.8,181.1 110.9,180.9 111.0,180.6 111.2,180.4 111.3,180.1 111.4,179.8 111.5,179.5 111.7,179.3 111.8,179.1 111.9,179.0 112.1,178.9 112.2,178.8 112.3,178.7 112.5,178.6 112.6,178.4 112.7,178.2 112.9,178.0 113.0,177.7 113.1,177.4 113.3,177.0 113.4,176.5 113.5,176.0 113.6,175.5 113.8,174.8 113.9,174.1 114.0,173.3 114.2,172.5 114.3,171.5 114.4,170.4 114.6,169.3 114.7,168.0 114.8,166.7 115.0,165.2 115.1,163.6 115.2,161.9 115.3,160.0 115.5,158.0 115.6,155.9 115.7,153.6 115.9,151.3 116.0,149.0 116.1,146.8 116.3,144.8 116.4,143.7 116.5,143.0 116.7,143.1 116.8,145.5 116.9,147.5 117.0,149.9 117.2,152.5 117.3,155.3 117.4,158.2 117.6,161.1 117.7,163.8 117.8,166.4 118.0,168.7 118.1,170.7 118.2,172.4 118.4,173.8 118.5,175.0 118.6,175.9 118.7,176.5 118.9,177.0 119.0,177.4 119.1,177.7 119.3,177.9 119.4,178.0 119.5,178.1 119.7,178.2 119.8,178.2 119.9,178.2 120.1,178.3 120.2,178.3 120.3,178.3 120.4,178.3 120.6,178.3 120.7,178.3 120.8,178.3 121.0,178.3 121.1,178.4 121.2,178.4 121.4,178.4 121.5,178.4 121.6,178.4 121.8,178.4 121.9,178.4 122.0,178.4 122.1,178.4 122.3,178.3 122.4,178.2 122.5,178.1 122.7,178.0 122.8,177.8 122.9,177.5 123.1,177.1 123.2,176.6 123.3,175.9 123.5,175.1 123.6,174.1 123.7,172.9 123.8,171.5 124.0,170.0 124.1,168.4 124.2,166.7 124.4,165.0 124.5,163.5 124.6,162.1 124.8,161.0 124.9,160.2 125.0,159.8 125.2,159.7 125.3,160.0 125.4,160.7 125.5,161.7 125.7,163.0 125.8,164.5 125.9,166.1 126.1,167.8 126.2,169.5 126.3,171.1 126.5,172.6 126.6,173.9 126.7,175.1 126.9,176.1 127.0,176.9 127.1,177.6 127.3,178.1 127.4,178.6 127.5,179.0 127.6,179.3 127.8,179.5 127.9,179.7 128.0,179.9 128.2,180.0 128.3,180.1 128.4,180.2 128.6,180.3 128.7,180.4 128.8,180.4 129.0,180.4 129.1,180.5 129.2,180.5 129.3,180.4 129.5,180.4 129.6,180.3 129.7,180.1 129.9,179.9 130.0,179.7 130.1,179.3 130.3,178.8 130.4,178.2 130.5,177.4 130.7,176.5 130.8,175.4 130.9,174.2 131.0,172.9 131.2,171.6 131.3,170.2 131.4,168.9 131.6,167.8 131.7,166.9 131.8,166.3 132.0,165.9 132.1,165.9 132.2,166.2 132.4,166.8 132.5,167.7 132.6,168.8 132.7,170.1 132.9,171.5 133.0,173.0 133.1,174.4 133.3,175.8 133.4,177.0 133.5,178.2 133.7,179.2 133.8,180.0 133.9,180.8 134.1,181.4 134.2,181.9 134.3,182.4 134.4,182.7 134.6,183.0 134.7,183.3 134.8,183.5 135.0,183.6 135.1,183.8 135.2,183.8 135.4,183.8 135.5,183.8 135.6,183.7 135.8,183.6 135.9,183.4 136.0,183.1 136.1,182.7 136.3,182.1 136.4,181.5 136.5,180.7 136.7,179.8 136.8,178.7 136.9,177.6 137.1,176.4 137.2,175.2 137.3,174.0 137.5,173.0 137.6,172.1 137.7,171.4 137.8,171.0 138.0,170.9 138.1,171.1 138.2,171.6 138.4,172.4 138.5,173.4 138.6,174.5 138.8,175.8 138.9,177.1 139.0,178.5 139.2,179.8 139.3,181.0 139.4,182.1 139.6,183.1 139.7,184.0 139.8,184.7 139.9,185.4 140.1,185.9 140.2,186.4 140.3,186.7 140.5,187.0 140.6,187.2 140.7,187.3 140.9,187.3 141.0,187.2 141.1,187.1 141.3,186.9 141.4,186.5 141.5,186.0 141.6,185.4 141.8,184.7 141.9,183.8 142.0,182.8 142.2,181.7 142.3,180.6 142.4,179.5 142.6,178.3 142.7,177.3 142.8,176.5 143.0,175.8 143.1,175.4 143.2,175.3 143.3,175.4 143.5,175.8 143.6,176.5 143.7,177.4 143.9,178.5 144.0,179.7 144.1,181.0 144.3,182.3 144.4,183.6 144.5,184.8 144.7,185.9 144.8,186.8 144.9,187.7 145.0,188.4 145.2,189.0 145.3,189.5 145.4,189.9 145.6,190.1 145.7,190.3 145.8,190.3 146.0,190.2 146.1,190.0 146.2,189.7 146.4,189.3 146.5,188.7 146.6,188.0 146.7,187.2 146.9,186.3 147.0,185.4 147.1,184.4 147.3,183.4 147.4,182.5 147.5,181.7 147.7,181.1 147.8,180.6 147.9,180.4 148.1,180.4 148.2,180.7 148.3,181.2 148.4,181.9 148.6,182.8 148.7,183.8 148.8,184.8 149.0,185.9 149.1,187.0 149.2,188.1 149.4,189.0 149.5,189.8 149.6,190.6 149.8,191.2 149.9,191.7 150.0,192.0 150.1,192.3 150.3,192.4 150.4,192.4 150.5,192.4 150.7,192.2 150.8,191.9 150.9,191.6 151.1,191.1 151.2,190.6 151.3,190.0 151.5,189.3 151.6,188.6 151.7,188.0 151.8,187.3 152.0,186.8 152.1,186.3 152.2,186.0 152.4,185.9 152.5,185.9 152.6,186.2 152.8,186.5 152.9,187.1 153.0,187.7 153.2,188.4 153.3,189.2 153.4,189.9 153.6,190.7 153.7,191.4 153.8,192.0 153.9,192.6 154.1,193.1 154.2,193.4 154.3,193.7 154.5,193.9 154.6,194.0 154.7,194.0 154.9,193.9 155.0,193.7 155.1,193.4 155.3,193.1 155.4,192.6 155.5,192.2 155.6,191.6 155.8,191.1 155.9,190.5 156.0,190.0 156.2,189.6 156.3,189.2 156.4,189.0 156.6,188.9 156.7,189.0 156.8,189.2 157.0,189.5 157.1,190.0 157.2,190.5 157.3,191.1 157.5,191.7 157.6,192.3 157.7,192.9 157.9,193.5 158.0,193.9 158.1,194.3 158.3,194.6 158.4,194.9 158.5,195.0 158.7,195.1 158.8,195.0 158.9,194.9 159.0,194.7 159.2,194.4 159.3,194.1 159.4,193.6 159.6,193.2 159.7,192.7 159.8,192.3 160.0,191.8 160.1,191.4 160.2,191.2 160.4,191.0 160.5,190.9 160.6,190.9 160.7,191.1 160.9,191.4 161.0,191.8 161.1,192.2 161.3,192.7 161.4,193.2 161.5,193.7 161.7,194.2 161.8,194.6 161.9,194.9 162.1,195.2 162.2,195.4 162.3,195.5 162.4,195.6 162.6,195.5 162.7,195.4 162.8,195.2 163.0,195.0 163.1,194.7 163.2,194.3 163.4,193.9 163.5,193.5 163.6,193.2 163.8,192.8 163.9,192.5 164.0,192.3 164.1,192.2 164.3,192.2 164.4,192.2 164.5,192.4 164.7,192.7 164.8,193.0 164.9,193.3 165.1,193.7 165.2,194.1 165.3,194.5 165.5,194.8 165.6,195.1 165.7,195.3 165.8,195.5 166.0,195.6 166.1,195.6 166.2,195.5 166.4,195.4 166.5,195.1 166.6,194.8 166.8,194.5 166.9,194.1 167.0,193.7 167.2,193.2 167.3,192.8 167.4,192.5 167.6,192.2 167.7,192.0 167.8,191.9 167.9,192.0 168.1,192.1 168.2,192.4 168.3,192.7 168.5,193.1 168.6,193.5 168.7,193.9 168.9,194.4 169.0,194.7 169.1,195.0 169.3,195.3 169.4,195.4 169.5,195.5 169.6,195.4 169.8,195.3 169.9,195.0 170.0,194.7 170.2,194.2 170.3,193.7 170.4,193.2 170.6,192.7 170.7,192.2 170.8,191.8 171.0,191.4 171.1,191.2 171.2,191.1 171.3,191.0 171.5,191.1 171.6,191.3 171.7,191.6 171.9,192.0 172.0,192.4 172.1,192.9 172.3,193.2 172.4,193.6 172.5,193.8 172.7,194.0 172.8,194.0 172.9,193.8 173.0,193.6 173.2,193.2 173.3,192.8 173.4,192.2 173.6,191.6 173.7,190.9 173.8,190.3 174.0,189.7 174.1,189.1 174.2,188.7 174.4,188.4 174.5,188.2 174.6,188.1 174.7,188.2 174.9,188.3 175.0,188.6 175.1,188.8 175.3,189.1 175.4,189.4 175.5,189.7 175.7,189.8 175.8,189.9 175.9,189.8 176.1,189.6 176.2,189.3 176.3,188.8 176.4,188.3 176.6,187.6 176.7,186.9 176.8,186.1 177.0,185.4 177.1,184.6 177.2,183.9 177.4,183.3 177.5,182.7 177.6,182.3 177.8,182.0 177.9,181.7 178.0,181.5 178.1,181.4 178.3,181.3 178.4,181.2 178.5,181.0 178.7,180.8 178.8,180.4 178.9,180.0 179.1,179.5 179.2,178.8 179.3,178.0 179.5,177.1 179.6,176.2 179.7,175.1 179.8,174.1 180.0,172.9 180.1,171.8 180.2,170.7 180.4,169.6 180.5,168.5 180.6,167.5 180.8,166.5 180.9,165.5 181.0,164.6 181.2,163.6 181.3,162.7 181.4,161.6 181.6,160.6 181.7,159.4 181.8,158.2 181.9,156.9 182.1,155.6 182.2,154.2 182.3,152.7 182.5,151.1 182.6,149.6 182.7,148.0 182.9,146.5 183.0,145.0 183.1,143.6 183.3,142.2 183.4,141.0 183.5,139.9 183.6,138.9 183.8,138.2 183.9,137.6 184.0,137.2 184.2,137.0 184.3,138.1 184.4,138.9 184.6,139.8 184.7,140.8 184.8,142.0 185.0,143.3 185.1,144.6 185.2,146.1 185.3,147.6 185.5,149.2 185.6,150.9 185.7,152.5 185.9,154.2 186.0,156.0 186.1,157.7 186.3,159.5 186.4,161.3 186.5,163.2 186.7,165.0 186.8,166.9 186.9,168.8 187.0,170.7 187.2,172.5 187.3,174.3 187.4,175.9 187.6,177.5 187.7,178.8 187.8,180.0 188.0,181.0 188.1,181.8 188.2,182.3 188.4,182.7 188.5,182.9 188.6,183.0 188.7,183.0 188.9,183.0 189.0,183.0 189.1,183.0 189.3,183.1 189.4,183.2 189.5,183.5 189.7,183.9 189.8,184.3 189.9,184.7 190.1,185.2 190.2,185.6 190.3,186.0 190.4,186.3 190.6,186.4 190.7,186.5 190.8,186.3 191.0,186.1 191.1,185.8 191.2,185.4 191.4,184.9 191.5,184.5 191.6,184.1 191.8,183.8 191.9,183.5 192.0,183.4 192.1,183.4 192.3,183.6 192.4,183.8 192.5,184.1 192.7,184.5 192.8,184.9 192.9,185.2 193.1,185.5 193.2,185.7 193.3,185.8 193.5,185.7 193.6,185.5 193.7,185.3 193.9,184.9 194.0,184.5 194.1,184.0 194.2,183.6 194.4,183.2 194.5,183.0 194.6,182.8 194.8,182.8 194.9,182.8 195.0,183.0 195.2,183.3 195.3,183.6 195.4,183.9 195.6,184.2 195.7,184.5 195.8,184.6 195.9,184.6 196.1,184.5 196.2,184.2 196.3,183.8 196.5,183.3 196.6,182.7 196.7,182.1 196.9,181.5 197.0,180.9 197.1,180.3 197.3,179.8 197.4,179.3 197.5,178.9 197.6,178.5 197.8,178.1 197.9,177.6 198.0,177.1 198.2,176.4 198.3,175.5 198.4,174.5 198.6,173.3 198.7,171.9 198.8,170.3 199.0,168.7 199.1,167.0 199.2,165.2 199.3,163.5 199.5,161.8 199.6,160.2 199.7,158.7 199.9,157.2 200.0,155.9 200.1,154.8 200.3,153.7 200.4,152.8 200.5,152.0 200.7,151.3 200.8,150.8 200.9,150.3 201.0,150.0 201.2,149.8 201.3,149.8 201.4,149.9 201.6,150.1 201.7,150.4 201.8,150.9 202.0,151.5 202.1,152.3 202.2,153.3 202.4,154.4 202.5,155.7 202.6,157.1 202.7,158.6 202.9,160.2 203.0,161.9 203.1,163.6 203.3,165.3 203.4,166.9 203.5,168.4 203.7,169.9 203.8,171.1 203.9,172.3 204.1,173.2 204.2,174.1 204.3,174.8 204.4,175.5 204.6,176.1 204.7,176.7 204.8,177.4 205.0,178.0 205.1,178.7 205.2,179.4 205.4,180.2 205.5,180.8 205.6,181.4 205.8,181.9 205.9,182.3 206.0,182.5 206.1,182.6 206.3,182.5 206.4,182.3 206.5,182.1 206.7,181.8 206.8,181.5 206.9,181.3 207.1,181.2 207.2,181.2 207.3,181.3 207.5,181.5 207.6,181.7 207.7,182.1 207.9,182.4 208.0,182.8 208.1,183.0 208.2,183.2 208.4,183.2 208.5,183.1 208.6,182.9 208.8,182.6 208.9,182.2 209.0,181.8 209.2,181.5 209.3,181.2 209.4,180.9 209.6,180.8 209.7,180.8 209.8,180.9 209.9,181.1 210.1,181.4 210.2,181.6 210.3,181.8 210.5,181.9 210.6,181.8 210.7,181.7 210.9,181.4 211.0,180.9 211.1,180.3 211.3,179.7 211.4,179.0 211.5,178.2 211.6,177.5 211.8,176.9 211.9,176.2 212.0,175.6 212.2,175.0 212.3,174.3 212.4,173.6 212.6,172.8 212.7,171.8 212.8,170.7 213.0,169.4 213.1,168.0 213.2,166.5 213.3,164.9 213.5,163.3 213.6,161.7 213.7,160.2 213.9,158.8 214.0,157.4 214.1,156.3 214.3,155.2 214.4,154.4 214.5,153.7 214.7,153.2 214.8,152.8 214.9,152.6 215.0,152.5 215.2,152.6 215.3,152.8 215.4,153.1 215.6,153.5 215.7,154.0 215.8,154.7 216.0,155.5 216.1,156.4 216.2,157.4 216.4,158.6 216.5,159.8 216.6,161.2 216.7,162.7 216.9,164.2 217.0,165.7 217.1,167.2 217.3,168.6 217.4,169.9 217.5,171.1 217.7,172.1 217.8,172.9 217.9,173.6 218.1,174.1 218.2,174.6 218.3,175.0 218.4,175.4 218.6,175.8 218.7,176.3 218.8,176.8 219.0,177.4 219.1,177.9 219.2,178.5 219.4,178.9 219.5,179.3 219.6,179.5 219.8,179.6 219.9,179.6 220.0,179.4 220.1,179.2 220.3,179.0 220.4,178.7 220.5,178.5 220.7,178.4 220.8,178.4 220.9,178.5 221.1,178.7 221.2,179.0 221.3,179.2 221.5,179.5 221.6,179.7 221.7,179.8 221.9,179.7 222.0,179.6 222.1,179.3 222.2,178.9 222.4,178.5 222.5,178.1 222.6,177.7 222.8,177.4 222.9,177.2 223.0,177.0 223.2,176.9 223.3,176.8 223.4,176.8 223.6,176.6 223.7,176.4 223.8,176.0 223.9,175.5 224.1,174.8 224.2,174.0 224.3,173.0 224.5,171.9 224.6,170.7 224.7,169.5 224.9,168.3 225.0,167.2 225.1,166.0 225.3,164.9 225.4,163.9 225.5,162.8 225.6,161.8 225.8,160.8 225.9,159.8 226.0,158.8 226.2,157.8 226.3,157.0 226.4,156.2 226.6,155.5 226.7,155.0 226.8,154.6 227.0,154.5 227.1,154.6 227.2,154.8 227.3,155.3 227.5,155.9 227.6,156.7 227.7,157.6 227.9,158.6 228.0,159.7 228.1,160.8 228.3,161.9 228.4,163.0 228.5,164.0 228.7,165.0 228.8,165.9 228.9,166.9 229.0,167.8 229.2,168.8 229.3,169.8 229.4,170.8 229.6,171.8 229.7,172.7 229.8,173.6 230.0,174.4 230.1,175.0 230.2,175.5 230.4,175.8 230.5,176.0 230.6,176.0 230.7,176.0 230.9,176.0 231.0,176.0 231.1,176.1 231.3,176.3 231.4,176.5 231.5,176.8 231.7,177.1 231.8,177.4 231.9,177.7 232.1,177.9 232.2,178.0 232.3,177.9 232.4,177.7 232.6,177.5 232.7,177.2 232.8,176.8 233.0,176.6 233.1,176.4 233.2,176.2 233.4,176.2 233.5,176.2 233.6,176.3 233.8,176.3 233.9,176.3 234.0,176.2 234.1,175.9 234.3,175.5 234.4,174.9 234.5,174.2 234.7,173.4 234.8,172.6 234.9,171.7 235.1,170.9 235.2,170.0 235.3,169.2 235.5,168.4 235.6,167.6 235.7,166.7 235.9,165.8 236.0,164.8 236.1,163.8 236.2,162.7 236.4,161.6 236.5,160.4 236.6,159.4 236.8,158.5 236.9,157.7 237.0,157.0 237.2,156.6 237.3,156.3 237.4,156.2 237.6,156.4 237.7,156.6 237.8,157.0 237.9,157.6 238.1,158.2 238.2,158.8 238.3,159.6 238.5,160.3 238.6,161.1 238.7,162.0 238.9,162.9 239.0,163.9 239.1,164.9 239.3,166.0 239.4,167.1 239.5,168.3 239.6,169.4 239.8,170.4 239.9,171.4 240.0,172.2 240.2,172.8 240.3,173.3 240.4,173.6 240.6,173.9 240.7,174.1 240.8,174.3 241.0,174.5 241.1,174.8 241.2,175.2 241.3,175.6 241.5,176.0 241.6,176.4 241.7,176.7 241.9,176.9 242.0,176.9 242.1,176.9 242.3,176.7 242.4,176.5 242.5,176.2 242.7,176.0 242.8,175.8 242.9,175.7 243.0,175.7 243.2,175.7 243.3,175.7 243.4,175.8 243.6,175.7 243.7,175.6 243.8,175.3 244.0,174.8 244.1,174.2 244.2,173.6 244.4,172.8 244.5,172.0 244.6,171.2 244.7,170.4 244.9,169.7 245.0,168.9 245.1,168.1 245.3,167.4 245.4,166.5 245.5,165.6 245.7,164.6 245.8,163.5 245.9,162.4 246.1,161.4 246.2,160.3 246.3,159.4 246.4,158.6 246.6,158.0 246.7,157.5 246.8,157.3 247.0,157.2 247.1,157.2 247.2,157.5 247.4,157.8 247.5,158.2 247.6,158.7 247.8,159.3 247.9,159.9 248.0,160.6 248.2,161.3 248.3,162.2 248.4,163.1 248.5,164.1 248.7,165.2 248.8,166.3 248.9,167.4 249.1,168.5 249.2,169.5 249.3,170.4 249.5,171.1 249.6,171.7 249.7,172.2 249.9,172.6 250.0,172.9 250.1,173.2 250.2,173.5 250.4,173.8 250.5,174.2 250.6,174.7 250.8,175.1 250.9,175.5 251.0,175.8 251.2,176.0 251.3,176.0 251.4,175.9 251.6,175.8 251.7,175.5 251.8,175.3 251.9,175.1 252.1,174.9 252.2,174.8 252.3,174.8 252.5,174.8 252.6,174.7 252.7,174.6 252.9,174.4 253.0,174.1 253.1,173.5 253.3,172.9 253.4,172.1 253.5,171.3 253.6,170.4 253.8,169.6 253.9,168.8 254.0,168.0 254.2,167.2 254.3,166.4 254.4,165.6 254.6,164.7 254.7,163.8 254.8,162.9 255.0,161.9 255.1,161.0 255.2,160.1 255.3,159.3 255.5,158.7 255.6,158.2 255.7,157.9 255.9,157.9 256.0,158.0 256.1,158.2 256.3,158.6 256.4,159.1 256.5,159.6 256.7,160.2 256.8,160.9 256.9,161.6 257.0,162.3 257.2,163.1 257.3,164.0 257.4,164.9 257.6,165.9 257.7,167.0 257.8,168.1 258.0,169.1 258.1,170.0 258.2,170.9 258.4,171.6 258.5,172.1 258.6,172.5 258.7,172.9 258.9,173.1 259.0,173.4 259.1,173.7 259.3,174.1 259.4,174.4 259.5,174.8 259.7,175.2 259.8,175.5 259.9,175.7 260.1,175.7 260.2,175.7 260.3,175.5 260.4,175.2 260.6,174.9 260.7,174.6 260.8,174.4 261.0,174.2 261.1,174.0 261.2,173.8 261.4,173.7 261.5,173.4 261.6,173.0 261.8,172.5 261.9,171.8 262.0,171.0 262.2,170.1 262.3,169.1 262.4,168.2 262.5,167.3 262.7,166.4 262.8,165.6 262.9,164.9 263.1,164.1 263.2,163.4 263.3,162.7 263.5,161.9 263.6,161.3 263.7,160.6 263.9,160.1 264.0,159.6 264.1,159.3 264.2,159.2 264.4,159.3 264.5,159.6 264.6,160.0 264.8,160.6 264.9,161.3 265.0,162.0 265.2,162.7 265.3,163.5 265.4,164.2 265.6,165.0 265.7,165.7 265.8,166.5 265.9,167.3 266.1,168.2 266.2,169.1 266.3,170.0 266.5,170.8 266.6,171.6 266.7,172.3 266.9,172.9 267.0,173.3 267.1,173.5 267.3,173.7 267.4,173.9 267.5,174.0 267.6,174.2 267.8,174.4 267.9,174.6 268.0,174.9 268.2,175.1 268.3,175.2 268.4,175.3 268.6,175.1 268.7,174.9 268.8,174.5 269.0,174.1 269.1,173.6 269.2,173.2 269.3,172.8 269.5,172.4 269.6,172.0 269.7,171.6 269.9,171.1 270.0,170.5 270.1,169.8 270.3,169.0 270.4,168.1 270.5,167.1 270.7,166.1 270.8,165.1 270.9,164.2 271.0,163.4 271.2,162.7 271.3,162.2 271.4,161.7 271.6,161.3 271.7,160.9 271.8,160.6 272.0,160.4 272.1,160.3 272.2,160.3 272.4,160.4 272.5,160.6 272.6,161.1 272.7,161.7 272.9,162.4 273.0,163.2 273.1,164.1 273.3,165.0 273.4,165.9 273.5,166.7 273.7,167.5 273.8,168.2 273.9,168.8 274.1,169.4 274.2,170.1 274.3,170.8 274.4,171.5 274.6,172.2 274.7,172.8 274.8,173.4 275.0,173.8 275.1,174.1 275.2,174.3 275.4,174.3 275.5,174.3 275.6,174.3 275.8,174.2 275.9,174.2 276.0,174.2 276.2,174.3 276.3,174.3 276.4,174.3 276.5,174.1 276.7,173.8 276.8,173.3 276.9,172.7 277.1,172.1 277.2,171.4 277.3,170.6 277.5,170.0 277.6,169.3 277.7,168.7 277.9,168.0 278.0,167.3 278.1,166.6 278.2,165.7 278.4,164.9 278.5,164.0 278.6,163.2 278.8,162.4 278.9,161.8 279.0,161.3 279.2,160.9 279.3,160.8 279.4,160.7 279.6,160.8 279.7,161.0 279.8,161.3 279.9,161.6 280.1,162.0 280.2,162.5 280.3,163.0 280.5,163.6 280.6,164.3 280.7,165.2 280.9,166.1 281.0,167.0 281.1,167.9 281.3,168.8 281.4,169.6 281.5,170.3 281.6,170.9 281.8,171.3 281.9,171.7 282.0,172.1 282.2,172.5 282.3,172.9 282.4,173.3 282.6,173.7 282.7,174.1 282.8,174.4 283.0,174.5 283.1,174.5 283.2,174.3 283.3,174.0 283.5,173.7 283.6,173.4 283.7,173.1 283.9,172.8 284.0,172.5 284.1,172.2 284.3,171.9 284.4,171.4 284.5,170.8 284.7,170.1 284.8,169.2 284.9,168.3 285.0,167.4 285.2,166.5 285.3,165.7 285.4,165.0 285.6,164.3 285.7,163.7 285.8,163.2 286.0,162.7 286.1,162.2 286.2,161.8 286.4,161.4 286.5,161.2 286.6,161.1 286.7,161.1 286.9,161.3 287.0,161.7 287.1,162.2 287.3,162.8 287.4,163.6 287.5,164.3 287.7,165.0 287.8,165.7 287.9,166.4 288.1,167.1 288.2,167.7 288.3,168.4 288.4,169.2 288.6,169.9 288.7,170.7 288.8,171.4 289.0,172.1 289.1,172.6 289.2,173.0 289.4,173.2 289.5,173.3 289.6,173.4 289.8,173.4 289.9,173.5 290.0,173.6 290.2,173.6 290.3,173.7 290.4,173.7 290.5,173.5 290.7,173.3 290.8,172.8 290.9,172.3 291.1,171.7 291.2,171.0 291.3,170.3 291.5,169.7 291.6,169.1 291.7,168.4 291.9,167.8 292.0,167.1 292.1,166.4 292.2,165.6 292.4,164.8 292.5,164.0 292.6,163.3 292.8,162.7 292.9,162.2 293.0,161.8 293.2,161.7 293.3,161.6 293.4,161.7 293.6,161.9 293.7,162.1 293.8,162.4 293.9,162.7 294.1,163.1 294.2,163.7 294.3,164.3 294.5,165.0 294.6,165.8 294.7,166.6 294.9,167.5 295.0,168.4 295.1,169.1 295.3,169.8 295.4,170.4 295.5,170.8 295.6,171.2 295.8,171.6 295.9,172.0 296.0,172.4 296.2,172.8 296.3,173.2 296.4,173.5 296.6,173.7 296.7,173.7 296.8,173.5 297.0,173.3 297.1,173.0 297.2,172.6 297.3,172.2 297.5,171.9 297.6,171.5 297.7,171.2 297.9,170.7 298.0,170.2 298.1,169.5 298.3,168.8 298.4,167.9 298.5,167.1 298.7,166.2 298.8,165.4 298.9,164.7 299.0,164.1 299.2,163.6 299.3,163.2 299.4,162.8 299.6,162.5 299.7,162.2 299.8,162.0 300.0,161.9 300.1,162.0 300.2,162.1 300.4,162.4 300.5,162.9 300.6,163.5 300.7,164.2 300.9,164.9 301.0,165.6 301.1,166.3 301.3,167.0 301.4,167.6 301.5,168.2 301.7,168.9 301.8,169.5 301.9,170.2 302.1,170.8 302.2,171.4 302.3,172.0 302.5,172.4 302.6,172.7 302.7,172.9 302.8,172.9 303.0,172.9 303.1,172.8 303.2,172.7 303.4,172.7 303.5,172.6 303.6,172.5 303.8,172.3 303.9,171.9 304.0,171.5 304.2,170.8 304.3,170.2 304.4,169.4 304.5,168.7 304.7,168.0 304.8,167.3 304.9,166.7 305.1,166.1 305.2,165.4 305.3,164.8 305.5,164.2 305.6,163.6 305.7,163.1 305.9,162.6 306.0,162.3 306.1,162.2 306.2,162.2 306.4,162.3 306.5,162.6 306.6,163.0 306.8,163.4 306.9,163.9 307.0,164.4 307.2,164.9 307.3,165.5 307.4,166.1 307.6,166.8 307.7,167.5 307.8,168.3 307.9,169.1 308.1,169.8 308.2,170.5 308.3,171.0 308.5,171.4 308.6,171.7 308.7,171.9 308.9,172.1 309.0,172.3 309.1,172.5 309.3,172.7 309.4,172.8 309.5,172.8 309.6,172.7 309.8,172.4 309.9,172.0 310.0,171.5 310.2,170.9 310.3,170.4 310.4,169.8 310.6,169.3 310.7,168.7 310.8,168.1 311.0,167.5 311.1,166.8 311.2,166.1 311.3,165.3 311.5,164.6 311.6,164.0 311.7,163.5 311.9,163.1 312.0,162.8 312.1,162.7 312.3,162.7 312.4,162.8 312.5,162.9 312.7,163.0 312.8,163.3 312.9,163.6 313.0,164.0 313.2,164.6 313.3,165.2 313.4,166.0 313.6,166.8 313.7,167.5 313.8,168.3 314.0,168.9 314.1,169.5 314.2,170.0 314.4,170.4 314.5,170.8 314.6,171.2 314.7,171.7 314.9,172.1 315.0,172.4 315.1,172.6 315.3,172.7 315.4,172.6 315.5,172.4 315.7,172.1 315.8,171.8 315.9,171.4 316.1,171.0 316.2,170.6 316.3,170.2 316.5,169.8 316.6,169.2 316.7,168.5 316.8,167.8 317.0,167.0 317.1,166.2 317.2,165.5 317.4,164.9 317.5,164.4 317.6,163.9 317.8,163.6 317.9,163.3 318.0,163.1 318.2,163.0 318.3,162.9 318.4,162.9 318.5,163.0 318.7,163.3 318.8,163.7 318.9,164.2 319.1,164.9 319.2,165.5 319.3,166.2 319.5,166.9 319.6,167.5 319.7,168.1 319.9,168.6 320.0,169.2 320.1,169.8 320.2,170.4 320.4,170.9 320.5,171.5 320.6,171.9 320.8,172.2 320.9,172.3 321.0,172.3 321.2,172.2 321.3,172.1 321.4,171.9 321.6,171.7 321.7,171.5 321.8,171.2 321.9,170.9 322.1,170.4 322.2,169.8 322.3,169.2 322.5,168.4 322.6,167.7 322.7,166.9 322.9,166.3 323.0,165.7 323.1,165.2 323.3,164.7 323.4,164.3 323.5,163.9 323.6,163.5 323.8,163.2 323.9,163.0 324.0,162.9 324.2,163.0 324.3,163.3 324.4,163.6 324.6,164.1 324.7,164.6 324.8,165.2 325.0,165.8 325.1,166.3 325.2,166.9 325.3,167.5 325.5,168.1 325.6,168.8 325.7,169.5 325.9,170.1 326.0,170.7 326.1,171.2 326.3,171.6 326.4,171.8 326.5,171.9 326.7,171.9 326.8,171.9 326.9,171.9 327.0,171.9 327.2,171.8 327.3,171.6 327.4,171.3 327.6,170.8 327.7,170.3 327.8,169.6 328.0,168.9 328.1,168.3 328.2,167.6 328.4,167.0 328.5,166.4 328.6,165.9 328.7,165.4 328.9,164.8 329.0,164.3 329.1,163.8 329.3,163.5 329.4,163.2 329.5,163.1 329.7,163.2 329.8,163.4 329.9,163.7 330.1,164.1 330.2,164.5 330.3,164.9 330.5,165.4 330.6,165.9 330.7,166.5 330.8,167.1 331.0,167.8 331.1,168.5 331.2,169.3 331.4,169.9 331.5,170.5 331.6,170.9 331.8,171.2 331.9,171.4 332.0,171.6 332.2,171.7 332.3,171.8 332.4,171.9 332.5,171.9 332.7,171.8 332.8,171.5 332.9,171.2 333.1,170.6 333.2,170.1 333.3,169.4 333.5,168.8 333.6,168.2 333.7,167.7 333.9,167.1 334.0,166.5 334.1,165.9 334.2,165.3 334.4,164.7 334.5,164.2 334.6,163.8 334.8,163.5 334.9,163.4 335.0,163.4 335.2,163.5 335.3,163.7 335.4,164.0 335.6,164.3 335.7,164.7 335.8,165.1 335.9,165.6 336.1,166.2 336.2,166.9 336.3,167.6 336.5,168.3 336.6,169.0 336.7,169.6 336.9,170.2 337.0,170.6 337.1,170.9 337.3,171.2 337.4,171.4 337.5,171.6 337.6,171.8 337.8,171.9 337.9,171.9 338.0,171.7 338.2,171.4 338.3,171.0 338.4,170.5 338.6,169.9 338.7,169.4 338.8,168.8 339.0,168.3 339.1,167.7 339.2,167.1 339.3,166.5 339.5,165.9 339.6,165.2 339.7,164.7 339.9,164.2 340.0,163.9 340.1,163.7 340.3,163.6 340.4,163.7 340.5,163.8 340.7,164.0 340.8,164.2 340.9,164.5 341.0,164.9 341.2,165.4 341.3,166.0 341.4,166.6 341.6,167.4 341.7,168.1 341.8,168.7 342.0,169.3 342.1,169.8 342.2,170.3 342.4,170.6 342.5,171.0 342.6,171.3 342.7,171.5 342.9,171.7 343.0,171.8 343.1,171.8 343.3,171.6 343.4,171.3 343.5,170.9 343.7,170.4 343.8,169.9 343.9,169.4 344.1,168.8 344.2,168.3 344.3,167.7 344.5,167.1 344.6,166.5 344.7,165.8 344.8,165.2 345.0,164.7 345.1,164.3 345.2,164.0 345.4,163.9 345.5,163.8 345.6,163.9 345.8,164.0 345.9,164.2 346.0,164.4 346.2,164.7 346.3,165.2 346.4,165.7 346.5,166.3 346.7,167.0 346.8,167.7 346.9,168.4 347.1,169.0 347.2,169.5 347.3,170.0 347.5,170.4 347.6,170.7 347.7,171.1 347.9,171.4 348.0,171.6 348.1,171.8 348.2,171.7 348.4,171.6 348.5,171.3 348.6,170.9 348.8,170.4 348.9,169.9 349.0,169.4 349.2,168.9 349.3,168.4 349.4,167.8 349.6,167.2 349.7,166.5 349.8,165.9 349.9,165.3 350.1,164.8 350.2,164.4 350.3,164.2 350.5,164.0 350.6,164.0 350.7,164.0 350.9,164.1 351.0,164.3 351.1,164.5 351.3,164.9 351.4,165.3 351.5,165.9 351.6,166.5 351.8,167.2 351.9,167.9 352.0,168.5 352.2,169.1 352.3,169.6 352.4,170.0 352.6,170.4 352.7,170.8 352.8,171.2 353.0,171.5 353.1,171.6 353.2,171.7 353.3,171.6 353.5,171.3 353.6,170.9 353.7,170.5 353.9,170.1 354.0,169.6 354.1,169.1 354.3,168.6 354.4,168.0 354.5,167.4 354.7,166.7 354.8,166.1 354.9,165.5 355.0,165.0 355.2,164.6 355.3,164.3 355.4,164.2 355.6,164.1 355.7,164.1 355.8,164.2 356.0,164.4 356.1,164.6 356.2,164.9 356.4,165.4 356.5,166.0 356.6,166.6 356.8,167.3 356.9,167.9 357.0,168.6 357.1,169.1 357.3,169.6 357.4,170.1 357.5,170.5 357.7,170.8 357.8,171.2 357.9,171.4 358.1,171.6 358.2,171.6 358.3,171.4 358.5,171.1 358.6,170.8 358.7,170.3 358.8,169.8 359.0,169.3 359.1,168.8 359.2,168.3 359.4,167.7 359.5,167.1 359.6,166.4 359.8,165.8 359.9,165.2 360.0,164.8 360.2,164.5 360.3,164.3 360.4,164.2 360.5,164.2 360.7,164.3 360.8,164.4 360.9,164.6 361.1,164.9 361.2,165.3 361.3,165.8 361.5,166.5 361.6,167.1 361.7,167.8 361.9,168.4 362.0,169.0 362.1,169.5 362.2,170.0 362.4,170.4 362.5,170.7 362.6,171.1 362.8,171.3 362.9,171.5 363.0,171.5 363.2,171.4 363.3,171.1 363.4,170.7 363.6,170.2 363.7,169.7 363.8,169.2 363.9,168.7 364.1,168.2 364.2,167.6 364.3,167.0 364.5,166.3 364.6,165.7 364.7,165.2 364.9,164.8 365.0,164.5 365.1,164.3 365.3,164.2 365.4,164.3 365.5,164.4 365.6,164.5 365.8,164.8 365.9,165.1 366.0,165.6 366.2,166.1 366.3,166.7 366.4,167.4 366.6,168.1 366.7,168.7 366.8,169.3 367.0,169.8 367.1,170.2 367.2,170.6 367.3,170.9 367.5,171.2 367.6,171.4 367.7,171.4 367.9,171.4 368.0,171.2 368.1,170.8 368.3,170.4 368.4,169.8 368.5,169.3 368.7,168.7 368.8,168.2 368.9,167.6 369.0,167.0 369.2,166.4 369.3,165.8 369.4,165.3 369.6,164.8 369.7,164.5 369.8,164.3 370.0,164.2 370.1,164.3 370.2,164.4 370.4,164.6 370.5,164.9 370.6,165.2 370.8,165.7 370.9,166.2 371.0,166.8 371.1,167.4 371.3,168.1 371.4,168.8 371.5,169.4 371.7,169.9 371.8,170.3 371.9,170.6 372.1,170.9 372.2,171.1 372.3,171.3 372.5,171.3 372.6,171.3 372.7,171.0 372.8,170.7 373.0,170.2 373.1,169.6 373.2,169.0 373.4,168.4 373.5,167.9 373.6,167.3 373.8,166.7 373.9,166.2 374.0,165.6 374.2,165.1 374.3,164.7 374.4,164.4 374.5,164.2 374.7,164.2 374.8,164.3 374.9,164.5 375.1,164.8 375.2,165.2 375.3,165.6 375.5,166.1 375.6,166.6 375.7,167.2 375.9,167.9 376.0,168.6 376.1,169.2 376.2,169.8 376.4,170.3 376.5,170.6 376.6,170.9 376.8,171.1 376.9,171.2 377.0,171.2 377.2,171.2 377.3,171.0 377.4,170.7 377.6,170.2 377.7,169.6 377.8,169.0 377.9,168.4 378.1,167.8 378.2,167.2 378.3,166.6 378.5,166.1 378.6,165.6 378.7,165.1 378.9,164.7 379.0,164.4 379.1,164.2 379.3,164.2 379.4,164.3 379.5,164.6 379.6,164.9 379.8,165.3 379.9,165.8 380.0,166.3 380.2,166.8 380.3,167.4 380.4,168.1 380.6,168.7 380.7,169.4 380.8,170.0 381.0,170.4 381.1,170.8 381.2,171.0 381.3,171.1 381.5,171.2 381.6,171.1 381.7,171.0 381.9,170.8 382.0,170.4 382.1,169.9 382.3,169.3 382.4,168.7 382.5,168.0 382.7,167.4 382.8,166.8 382.9,166.2 383.0,165.7 383.2,165.3 383.3,164.9 383.4,164.6 383.6,164.4 383.7,164.3 383.8,164.3 384.0,164.5 384.1,164.8 384.2,165.2 384.4,165.7 384.5,166.2 384.6,166.8 384.8,167.4 384.9,168.0 385.0,168.6 385.1,169.2 385.3,169.8 385.4,170.4 385.5,170.8 385.7,171.0 385.8,171.2 385.9,171.2 386.1,171.1 386.2,170.9 386.3,170.6 386.5,170.3 386.6,169.8 386.7,169.3 386.8,168.7 387.0,168.0 387.1,167.3 387.2,166.6 387.4,166.1 387.5,165.6 387.6,165.2 387.8,164.8 387.9,164.6 388.0,164.4 388.2,164.3 388.3,164.4 388.4,164.6 388.5,164.9 388.7,165.3 388.8,165.9 388.9,166.5 389.1,167.1 389.2,167.7 389.3,168.3 389.5,168.8 389.6,169.4 389.7,170.0 389.9,170.5 390.0,170.9 390.1,171.1 390.2,171.2 390.4,171.2 390.5,171.0 390.6,170.7 390.8,170.3 390.9,169.9 391.0,169.4 391.2,168.9 391.3,168.2 391.4,167.6 391.6,166.9 391.7,166.3 391.8,165.7 391.9,165.2 392.1,164.9 392.2,164.6 392.3,164.5 392.5,164.4 392.6,164.5 392.7,164.6 392.9,164.8 393.0,165.2 393.1,165.7 393.3,166.3 393.4,167.0 393.5,167.6 393.6,168.3 393.8,168.9 393.9,169.4 394.0,169.9 394.2,170.4 394.3,170.7 394.4,171.0 394.6,171.2 394.7,171.2 394.8,171.0 395.0,170.7 395.1,170.3 395.2,169.8 395.3,169.3 395.5,168.7 395.6,168.1 395.7,167.5 395.9,166.9 396.0,166.2 396.1,165.6 396.3,165.1 396.4,164.8 396.5,164.5 396.7,164.4 396.8,164.4 396.9,164.5 397.0,164.7 397.2,165.0 397.3,165.4 397.4,165.9 397.6,166.5 397.7,167.1 397.8,167.8 398.0,168.5 398.1,169.1 398.2,169.7 398.4,170.2 398.5,170.5 398.6,170.8 398.8,171.0 398.9,171.1 399.0,171.1 399.1,170.9 399.3,170.6 399.4,170.1 399.5,169.5 399.7,168.9 399.8,168.3 399.9,167.6 400.1,167.0 400.2,166.4 400.3,165.9 400.5,165.4 400.6,165.0 400.7,164.6 400.8,164.4 401.0,164.3 401.1,164.4 401.2,164.7 401.4,165.0 401.5,165.4 401.6,165.9 401.8,166.4 401.9,167.0 402.0,167.6 402.2,168.3 402.3,168.9 402.4,169.6 402.5,170.1 402.7,170.6 402.8,170.9 402.9,171.0 403.1,171.0 403.2,171.0 403.3,170.8 403.5,170.5 403.6,170.1 403.7,169.6 403.9,169.0 404.0,168.3 404.1,167.6 404.2,166.9 404.4,166.3 404.5,165.8 404.6,165.3 404.8,165.0 404.9,164.7 405.0,164.5 405.2,164.4 405.3,164.4 405.4,164.6 405.6,165.0 405.7,165.4 405.8,166.0 405.9,166.6 406.1,167.2 406.2,167.8 406.3,168.4 406.5,169.0 406.6,169.6 406.7,170.2 406.9,170.7 407.0,171.0" fill="none" stroke="#ff00ff" stroke-width="0.9" stroke-linejoin="round"/>
</g>
<line x1="361.9" x2="393.3" y1="15.8" y2="15.8" stroke="#000" stroke-width="1.9"/>
<line x1="361.9" x2="393.3" y1="27.9" y2="27.9" stroke="#999" stroke-width="1.6"/>
<line x1="361.9" x2="393.3" y1="40.0" y2="40.0" stroke="#ff0000" stroke-width="0.85"/>
<line x1="361.9" x2="393.3" y1="52.0" y2="52.0" stroke="#00ff00" stroke-width="0.85"/>
<line x1="361.9" x2="393.3" y1="64.0" y2="64.0" stroke="#0000ff" stroke-width="0.85"/>
<line x1="361.9" x2="393.3" y1="76.0" y2="76.0" stroke="#ff00ff" stroke-width="0.85"/>
<path d="M54.9,7.40h3.2 M407.5,7.40h-3.2 M54.9,54.96h1.7 M407.5,54.96h-1.7 M54.9,42.98h1.7 M407.5,42.98h-1.7 M54.9,34.48h1.7 M407.5,34.48h-1.7 M54.9,27.89h1.7 M407.5,27.89h-1.7 M54.9,22.50h1.7 M407.5,22.50h-1.7 M54.9,17.94h1.7 M407.5,17.94h-1.7 M54.9,13.99h1.7 M407.5,13.99h-1.7 M54.9,10.51h1.7 M407.5,10.51h-1.7 M54.9,75.45h3.2 M407.5,75.45h-3.2 M54.9,123.01h1.7 M407.5,123.01h-1.7 M54.9,111.03h1.7 M407.5,111.03h-1.7 M54.9,102.53h1.7 M407.5,102.53h-1.7 M54.9,95.94h1.7 M407.5,95.94h-1.7 M54.9,90.55h1.7 M407.5,90.55h-1.7 M54.9,85.99h1.7 M407.5,85.99h-1.7 M54.9,82.04h1.7 M407.5,82.04h-1.7 M54.9,78.56h1.7 M407.5,78.56h-1.7 M54.9,143.50h3.2 M407.5,143.50h-3.2 M54.9,191.06h1.7 M407.5,191.06h-1.7 M54.9,179.08h1.7 M407.5,179.08h-1.7 M54.9,170.58h1.7 M407.5,170.58h-1.7 M54.9,163.99h1.7 M407.5,163.99h-1.7 M54.9,158.60h1.7 M407.5,158.60h-1.7 M54.9,154.04h1.7 M407.5,154.04h-1.7 M54.9,150.09h1.7 M407.5,150.09h-1.7 M54.9,146.61h1.7 M407.5,146.61h-1.7 M54.9,211.55h3.2 M407.5,211.55h-3.2 M54.9,259.11h1.7 M407.5,259.11h-1.7 M54.9,247.13h1.7 M407.5,247.13h-1.7 M54.9,238.63h1.7 M407.5,238.63h-1.7 M54.9,232.04h1.7 M407.5,232.04h-1.7 M54.9,226.65h1.7 M407.5,226.65h-1.7 M54.9,222.09h1.7 M407.5,222.09h-1.7 M54.9,218.14h1.7 M407.5,218.14h-1.7 M54.9,214.66h1.7 M407.5,214.66h-1.7 M54.9,279.60h3.2 M407.5,279.60h-3.2 M108.69,279.6v-3.5 M108.69,7.4v3.5 M168.45,279.6v-3.5 M168.45,7.4v3.5 M228.21,279.6v-3.5 M228.21,7.4v3.5 M287.97,279.6v-3.5 M287.97,7.4v3.5 M347.74,279.6v-3.5 M347.74,7.4v3.5 M407.50,279.6v-3.5 M407.50,7.4v3.5" stroke="#000" stroke-width="0.55" fill="none"/>
<rect x="54.9" y="7.4" width="352.6" height="272.2" fill="none" stroke="#000" stroke-width="0.48"/>
<text x="20.3" y="13.0" style="letter-spacing:-0.5px">10</text>
<text x="33.2" y="7.3" class="s">-11</text>
<text x="20.3" y="81.1" style="letter-spacing:-0.5px">10</text>
<text x="33.2" y="75.4" class="s">-12</text>
<text x="20.3" y="149.1" style="letter-spacing:-0.5px">10</text>
<text x="33.2" y="143.4" class="s">-13</text>
<text x="20.3" y="217.2" style="letter-spacing:-0.5px">10</text>
<text x="33.2" y="211.5" class="s">-14</text>
<text x="20.3" y="285.2" style="letter-spacing:-0.5px">10</text>
<text x="33.2" y="279.5" class="s">-15</text>
<text x="108.7" y="296.2" text-anchor="middle">10</text>
<text x="168.4" y="296.2" text-anchor="middle">20</text>
<text x="228.2" y="296.2" text-anchor="middle">30</text>
<text x="288.0" y="296.2" text-anchor="middle">40</text>
<text x="347.7" y="296.2" text-anchor="middle">50</text>
<text x="407.5" y="296.2" text-anchor="middle">60</text>
<text x="195.2" y="313.8">R (</text>
<path d="M211.3,307L217.5,313.4M217.5,307L211.3,313.4" stroke="#000" stroke-width="0.75" fill="none"/>
<text x="220.7" y="313.8" style="letter-spacing:0.08px">0.38 pm)</text>
<text transform="translate(9.8,143.5) rotate(-90)" text-anchor="middle" style="letter-spacing:0.3px">dn/dt</text>
<text x="354.4" y="19.8" text-anchor="end">0 nucleus</text>
<text x="354.4" y="31.9" text-anchor="end">1 nucleus</text>
<text x="354.4" y="44.0" text-anchor="end">2 nuclei</text>
<text x="354.4" y="56.0" text-anchor="end">3 nuclei</text>
<text x="354.4" y="68.0" text-anchor="end">4 nuclei</text>
<text x="354.4" y="80.0" text-anchor="end">5 nuclei</text>
</svg>
</body></html>
